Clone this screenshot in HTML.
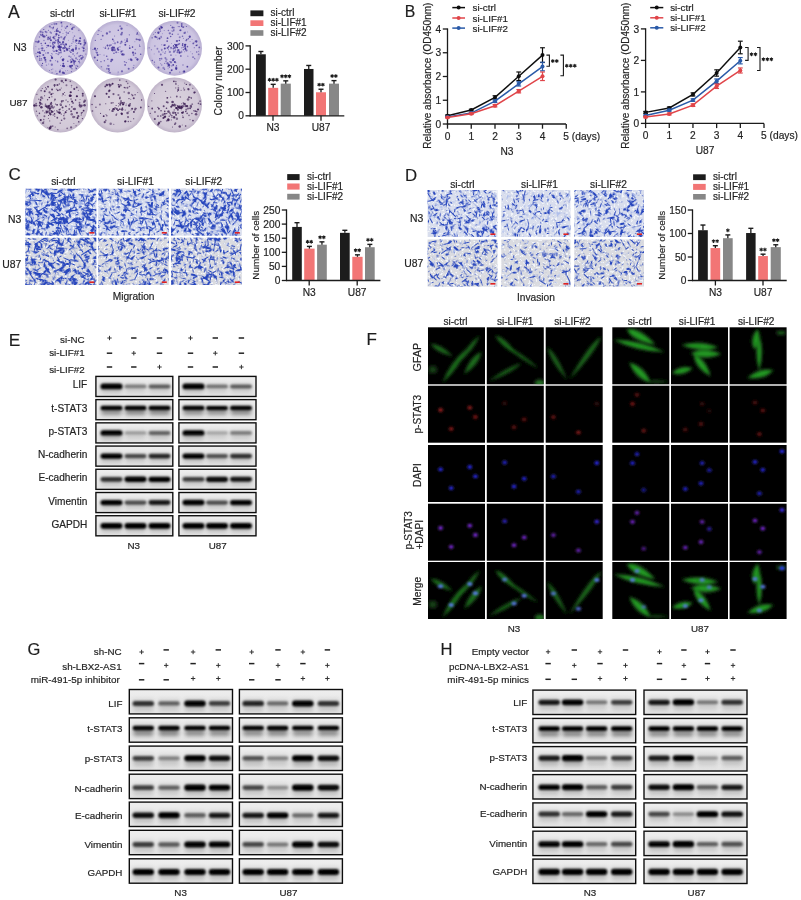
<!DOCTYPE html>
<html><head><meta charset="utf-8"><style>
html,body{margin:0;padding:0;background:#fff;}
svg{display:block;}
text{font-family:"Liberation Sans", sans-serif;stroke:#2a2a2a;stroke-width:0.2px;}
</style></head><body>
<svg width="801" height="900" viewBox="0 0 801 900">
<defs><filter id="bb" x="-30%" y="-150%" width="160%" height="400%"><feGaussianBlur stdDeviation="1.1 1.0"/></filter>
<filter id="bs" x="-30%" y="-150%" width="160%" height="400%"><feGaussianBlur stdDeviation="2 2"/></filter>
<filter id="fg" x="-50%" y="-50%" width="200%" height="200%"><feGaussianBlur stdDeviation="1.5"/></filter>
<filter id="fn" x="-100%" y="-100%" width="300%" height="300%"><feGaussianBlur stdDeviation="0.8"/></filter>
<linearGradient id="blg" x1="0" y1="0" x2="0" y2="1"><stop offset="0" stop-color="#eeeeee"/><stop offset="1" stop-color="#e3e3e3"/></linearGradient>
<radialGradient id="pg1"><stop offset="0" stop-color="#d4cde7"/><stop offset="0.85" stop-color="#ccc4e1"/><stop offset="1" stop-color="#b8aed2"/></radialGradient>
<radialGradient id="pg2"><stop offset="0" stop-color="#d4cde7"/><stop offset="0.85" stop-color="#ccc4e1"/><stop offset="1" stop-color="#b8aed2"/></radialGradient>
<radialGradient id="pg3"><stop offset="0" stop-color="#d4cde7"/><stop offset="0.85" stop-color="#ccc4e1"/><stop offset="1" stop-color="#b8aed2"/></radialGradient>
<radialGradient id="pg4"><stop offset="0" stop-color="#dad2de"/><stop offset="0.85" stop-color="#d2c9d8"/><stop offset="1" stop-color="#bfb3c8"/></radialGradient>
<radialGradient id="pg5"><stop offset="0" stop-color="#dad2de"/><stop offset="0.85" stop-color="#d2c9d8"/><stop offset="1" stop-color="#bfb3c8"/></radialGradient>
<radialGradient id="pg6"><stop offset="0" stop-color="#dad2de"/><stop offset="0.85" stop-color="#d2c9d8"/><stop offset="1" stop-color="#bfb3c8"/></radialGradient>
<clipPath id="mc100"><rect x="25.5" y="188.7" width="70.8" height="46.9"/></clipPath>
<filter id="mw100" x="0" y="0" width="1" height="1" color-interpolation-filters="sRGB"><feTurbulence type="fractalNoise" baseFrequency="0.45" numOctaves="2" seed="501"/><feColorMatrix type="matrix" values="0 0 0 0 0.95  0 0 0 0 0.96  0 0 0 0 0.98  -10 0 0 0 4.2"/><feGaussianBlur stdDeviation="0.3"/><feComposite in2="SourceGraphic" operator="in"/></filter>
<filter id="ml100" x="0" y="0" width="1" height="1" color-interpolation-filters="sRGB"><feTurbulence type="fractalNoise" baseFrequency="0.3 0.16" numOctaves="2" seed="502"/><feColorMatrix type="matrix" values="0 0 0 0 0.68  0 0 0 0 0.74  0 0 0 0 0.92  -10 0 0 0 3.6"/><feGaussianBlur stdDeviation="0.4"/><feComposite in2="SourceGraphic" operator="in"/></filter>
<filter id="md100_0" x="0" y="0" width="1" height="1" color-interpolation-filters="sRGB"><feTurbulence type="fractalNoise" baseFrequency="0.38 0.12" numOctaves="2" seed="703"/><feColorMatrix type="matrix" values="0 0 0 0 0.15  0 0 0 0 0.27  0 0 0 0 0.74  -12 0 0 0 4.62"/><feGaussianBlur stdDeviation="0.45"/><feComposite in2="SourceGraphic" operator="in"/></filter>
<filter id="md100_1" x="0" y="0" width="1" height="1" color-interpolation-filters="sRGB"><feTurbulence type="fractalNoise" baseFrequency="0.38 0.12" numOctaves="2" seed="704"/><feColorMatrix type="matrix" values="0 0 0 0 0.15  0 0 0 0 0.27  0 0 0 0 0.74  -12 0 0 0 4.62"/><feGaussianBlur stdDeviation="0.45"/><feComposite in2="SourceGraphic" operator="in"/></filter>
<filter id="md100_2" x="0" y="0" width="1" height="1" color-interpolation-filters="sRGB"><feTurbulence type="fractalNoise" baseFrequency="0.38 0.12" numOctaves="2" seed="705"/><feColorMatrix type="matrix" values="0 0 0 0 0.15  0 0 0 0 0.27  0 0 0 0 0.74  -12 0 0 0 4.62"/><feGaussianBlur stdDeviation="0.45"/><feComposite in2="SourceGraphic" operator="in"/></filter>
<filter id="md100_3" x="0" y="0" width="1" height="1" color-interpolation-filters="sRGB"><feTurbulence type="fractalNoise" baseFrequency="0.38 0.12" numOctaves="2" seed="706"/><feColorMatrix type="matrix" values="0 0 0 0 0.15  0 0 0 0 0.27  0 0 0 0 0.74  -12 0 0 0 4.62"/><feGaussianBlur stdDeviation="0.45"/><feComposite in2="SourceGraphic" operator="in"/></filter>
<filter id="md100_4" x="0" y="0" width="1" height="1" color-interpolation-filters="sRGB"><feTurbulence type="fractalNoise" baseFrequency="0.38 0.12" numOctaves="2" seed="707"/><feColorMatrix type="matrix" values="0 0 0 0 0.15  0 0 0 0 0.27  0 0 0 0 0.74  -12 0 0 0 4.62"/><feGaussianBlur stdDeviation="0.45"/><feComposite in2="SourceGraphic" operator="in"/></filter>
<clipPath id="mc103"><rect x="25.5" y="237.8" width="70.8" height="47.2"/></clipPath>
<filter id="mw103" x="0" y="0" width="1" height="1" color-interpolation-filters="sRGB"><feTurbulence type="fractalNoise" baseFrequency="0.45" numOctaves="2" seed="516"/><feColorMatrix type="matrix" values="0 0 0 0 0.95  0 0 0 0 0.96  0 0 0 0 0.98  -10 0 0 0 4.2"/><feGaussianBlur stdDeviation="0.3"/><feComposite in2="SourceGraphic" operator="in"/></filter>
<filter id="ml103" x="0" y="0" width="1" height="1" color-interpolation-filters="sRGB"><feTurbulence type="fractalNoise" baseFrequency="0.3 0.16" numOctaves="2" seed="517"/><feColorMatrix type="matrix" values="0 0 0 0 0.68  0 0 0 0 0.74  0 0 0 0 0.92  -10 0 0 0 3"/><feGaussianBlur stdDeviation="0.4"/><feComposite in2="SourceGraphic" operator="in"/></filter>
<filter id="md103_0" x="0" y="0" width="1" height="1" color-interpolation-filters="sRGB"><feTurbulence type="fractalNoise" baseFrequency="0.38 0.12" numOctaves="2" seed="724"/><feColorMatrix type="matrix" values="0 0 0 0 0.15  0 0 0 0 0.27  0 0 0 0 0.74  -12 0 0 0 4.44"/><feGaussianBlur stdDeviation="0.45"/><feComposite in2="SourceGraphic" operator="in"/></filter>
<filter id="md103_1" x="0" y="0" width="1" height="1" color-interpolation-filters="sRGB"><feTurbulence type="fractalNoise" baseFrequency="0.38 0.12" numOctaves="2" seed="725"/><feColorMatrix type="matrix" values="0 0 0 0 0.15  0 0 0 0 0.27  0 0 0 0 0.74  -12 0 0 0 4.44"/><feGaussianBlur stdDeviation="0.45"/><feComposite in2="SourceGraphic" operator="in"/></filter>
<filter id="md103_2" x="0" y="0" width="1" height="1" color-interpolation-filters="sRGB"><feTurbulence type="fractalNoise" baseFrequency="0.38 0.12" numOctaves="2" seed="726"/><feColorMatrix type="matrix" values="0 0 0 0 0.15  0 0 0 0 0.27  0 0 0 0 0.74  -12 0 0 0 4.44"/><feGaussianBlur stdDeviation="0.45"/><feComposite in2="SourceGraphic" operator="in"/></filter>
<filter id="md103_3" x="0" y="0" width="1" height="1" color-interpolation-filters="sRGB"><feTurbulence type="fractalNoise" baseFrequency="0.38 0.12" numOctaves="2" seed="727"/><feColorMatrix type="matrix" values="0 0 0 0 0.15  0 0 0 0 0.27  0 0 0 0 0.74  -12 0 0 0 4.44"/><feGaussianBlur stdDeviation="0.45"/><feComposite in2="SourceGraphic" operator="in"/></filter>
<filter id="md103_4" x="0" y="0" width="1" height="1" color-interpolation-filters="sRGB"><feTurbulence type="fractalNoise" baseFrequency="0.38 0.12" numOctaves="2" seed="728"/><feColorMatrix type="matrix" values="0 0 0 0 0.15  0 0 0 0 0.27  0 0 0 0 0.74  -12 0 0 0 4.44"/><feGaussianBlur stdDeviation="0.45"/><feComposite in2="SourceGraphic" operator="in"/></filter>
<clipPath id="mc101"><rect x="98.2" y="188.7" width="70.6" height="46.9"/></clipPath>
<filter id="mw101" x="0" y="0" width="1" height="1" color-interpolation-filters="sRGB"><feTurbulence type="fractalNoise" baseFrequency="0.45" numOctaves="2" seed="506"/><feColorMatrix type="matrix" values="0 0 0 0 0.95  0 0 0 0 0.96  0 0 0 0 0.98  -10 0 0 0 4.2"/><feGaussianBlur stdDeviation="0.3"/><feComposite in2="SourceGraphic" operator="in"/></filter>
<filter id="ml101" x="0" y="0" width="1" height="1" color-interpolation-filters="sRGB"><feTurbulence type="fractalNoise" baseFrequency="0.3 0.16" numOctaves="2" seed="507"/><feColorMatrix type="matrix" values="0 0 0 0 0.68  0 0 0 0 0.74  0 0 0 0 0.92  -10 0 0 0 3.4"/><feGaussianBlur stdDeviation="0.4"/><feComposite in2="SourceGraphic" operator="in"/></filter>
<filter id="md101_0" x="0" y="0" width="1" height="1" color-interpolation-filters="sRGB"><feTurbulence type="fractalNoise" baseFrequency="0.38 0.12" numOctaves="2" seed="710"/><feColorMatrix type="matrix" values="0 0 0 0 0.15  0 0 0 0 0.27  0 0 0 0 0.74  -12 0 0 0 4.26"/><feGaussianBlur stdDeviation="0.45"/><feComposite in2="SourceGraphic" operator="in"/></filter>
<filter id="md101_1" x="0" y="0" width="1" height="1" color-interpolation-filters="sRGB"><feTurbulence type="fractalNoise" baseFrequency="0.38 0.12" numOctaves="2" seed="711"/><feColorMatrix type="matrix" values="0 0 0 0 0.15  0 0 0 0 0.27  0 0 0 0 0.74  -12 0 0 0 4.26"/><feGaussianBlur stdDeviation="0.45"/><feComposite in2="SourceGraphic" operator="in"/></filter>
<filter id="md101_2" x="0" y="0" width="1" height="1" color-interpolation-filters="sRGB"><feTurbulence type="fractalNoise" baseFrequency="0.38 0.12" numOctaves="2" seed="712"/><feColorMatrix type="matrix" values="0 0 0 0 0.15  0 0 0 0 0.27  0 0 0 0 0.74  -12 0 0 0 4.26"/><feGaussianBlur stdDeviation="0.45"/><feComposite in2="SourceGraphic" operator="in"/></filter>
<filter id="md101_3" x="0" y="0" width="1" height="1" color-interpolation-filters="sRGB"><feTurbulence type="fractalNoise" baseFrequency="0.38 0.12" numOctaves="2" seed="713"/><feColorMatrix type="matrix" values="0 0 0 0 0.15  0 0 0 0 0.27  0 0 0 0 0.74  -12 0 0 0 4.26"/><feGaussianBlur stdDeviation="0.45"/><feComposite in2="SourceGraphic" operator="in"/></filter>
<filter id="md101_4" x="0" y="0" width="1" height="1" color-interpolation-filters="sRGB"><feTurbulence type="fractalNoise" baseFrequency="0.38 0.12" numOctaves="2" seed="714"/><feColorMatrix type="matrix" values="0 0 0 0 0.15  0 0 0 0 0.27  0 0 0 0 0.74  -12 0 0 0 4.26"/><feGaussianBlur stdDeviation="0.45"/><feComposite in2="SourceGraphic" operator="in"/></filter>
<clipPath id="mc104"><rect x="98.2" y="237.8" width="70.6" height="47.2"/></clipPath>
<filter id="mw104" x="0" y="0" width="1" height="1" color-interpolation-filters="sRGB"><feTurbulence type="fractalNoise" baseFrequency="0.45" numOctaves="2" seed="521"/><feColorMatrix type="matrix" values="0 0 0 0 0.95  0 0 0 0 0.96  0 0 0 0 0.98  -10 0 0 0 4.2"/><feGaussianBlur stdDeviation="0.3"/><feComposite in2="SourceGraphic" operator="in"/></filter>
<filter id="ml104" x="0" y="0" width="1" height="1" color-interpolation-filters="sRGB"><feTurbulence type="fractalNoise" baseFrequency="0.3 0.16" numOctaves="2" seed="522"/><feColorMatrix type="matrix" values="0 0 0 0 0.68  0 0 0 0 0.74  0 0 0 0 0.92  -10 0 0 0 3"/><feGaussianBlur stdDeviation="0.4"/><feComposite in2="SourceGraphic" operator="in"/></filter>
<filter id="md104_0" x="0" y="0" width="1" height="1" color-interpolation-filters="sRGB"><feTurbulence type="fractalNoise" baseFrequency="0.38 0.12" numOctaves="2" seed="731"/><feColorMatrix type="matrix" values="0 0 0 0 0.15  0 0 0 0 0.27  0 0 0 0 0.74  -12 0 0 0 4.2"/><feGaussianBlur stdDeviation="0.45"/><feComposite in2="SourceGraphic" operator="in"/></filter>
<filter id="md104_1" x="0" y="0" width="1" height="1" color-interpolation-filters="sRGB"><feTurbulence type="fractalNoise" baseFrequency="0.38 0.12" numOctaves="2" seed="732"/><feColorMatrix type="matrix" values="0 0 0 0 0.15  0 0 0 0 0.27  0 0 0 0 0.74  -12 0 0 0 4.2"/><feGaussianBlur stdDeviation="0.45"/><feComposite in2="SourceGraphic" operator="in"/></filter>
<filter id="md104_2" x="0" y="0" width="1" height="1" color-interpolation-filters="sRGB"><feTurbulence type="fractalNoise" baseFrequency="0.38 0.12" numOctaves="2" seed="733"/><feColorMatrix type="matrix" values="0 0 0 0 0.15  0 0 0 0 0.27  0 0 0 0 0.74  -12 0 0 0 4.2"/><feGaussianBlur stdDeviation="0.45"/><feComposite in2="SourceGraphic" operator="in"/></filter>
<filter id="md104_3" x="0" y="0" width="1" height="1" color-interpolation-filters="sRGB"><feTurbulence type="fractalNoise" baseFrequency="0.38 0.12" numOctaves="2" seed="734"/><feColorMatrix type="matrix" values="0 0 0 0 0.15  0 0 0 0 0.27  0 0 0 0 0.74  -12 0 0 0 4.2"/><feGaussianBlur stdDeviation="0.45"/><feComposite in2="SourceGraphic" operator="in"/></filter>
<filter id="md104_4" x="0" y="0" width="1" height="1" color-interpolation-filters="sRGB"><feTurbulence type="fractalNoise" baseFrequency="0.38 0.12" numOctaves="2" seed="735"/><feColorMatrix type="matrix" values="0 0 0 0 0.15  0 0 0 0 0.27  0 0 0 0 0.74  -12 0 0 0 4.2"/><feGaussianBlur stdDeviation="0.45"/><feComposite in2="SourceGraphic" operator="in"/></filter>
<clipPath id="mc102"><rect x="171" y="188.7" width="70.8" height="46.9"/></clipPath>
<filter id="mw102" x="0" y="0" width="1" height="1" color-interpolation-filters="sRGB"><feTurbulence type="fractalNoise" baseFrequency="0.45" numOctaves="2" seed="511"/><feColorMatrix type="matrix" values="0 0 0 0 0.95  0 0 0 0 0.96  0 0 0 0 0.98  -10 0 0 0 4.2"/><feGaussianBlur stdDeviation="0.3"/><feComposite in2="SourceGraphic" operator="in"/></filter>
<filter id="ml102" x="0" y="0" width="1" height="1" color-interpolation-filters="sRGB"><feTurbulence type="fractalNoise" baseFrequency="0.3 0.16" numOctaves="2" seed="512"/><feColorMatrix type="matrix" values="0 0 0 0 0.68  0 0 0 0 0.74  0 0 0 0 0.92  -10 0 0 0 3.6"/><feGaussianBlur stdDeviation="0.4"/><feComposite in2="SourceGraphic" operator="in"/></filter>
<filter id="md102_0" x="0" y="0" width="1" height="1" color-interpolation-filters="sRGB"><feTurbulence type="fractalNoise" baseFrequency="0.38 0.12" numOctaves="2" seed="717"/><feColorMatrix type="matrix" values="0 0 0 0 0.15  0 0 0 0 0.27  0 0 0 0 0.74  -12 0 0 0 4.5"/><feGaussianBlur stdDeviation="0.45"/><feComposite in2="SourceGraphic" operator="in"/></filter>
<filter id="md102_1" x="0" y="0" width="1" height="1" color-interpolation-filters="sRGB"><feTurbulence type="fractalNoise" baseFrequency="0.38 0.12" numOctaves="2" seed="718"/><feColorMatrix type="matrix" values="0 0 0 0 0.15  0 0 0 0 0.27  0 0 0 0 0.74  -12 0 0 0 4.5"/><feGaussianBlur stdDeviation="0.45"/><feComposite in2="SourceGraphic" operator="in"/></filter>
<filter id="md102_2" x="0" y="0" width="1" height="1" color-interpolation-filters="sRGB"><feTurbulence type="fractalNoise" baseFrequency="0.38 0.12" numOctaves="2" seed="719"/><feColorMatrix type="matrix" values="0 0 0 0 0.15  0 0 0 0 0.27  0 0 0 0 0.74  -12 0 0 0 4.5"/><feGaussianBlur stdDeviation="0.45"/><feComposite in2="SourceGraphic" operator="in"/></filter>
<filter id="md102_3" x="0" y="0" width="1" height="1" color-interpolation-filters="sRGB"><feTurbulence type="fractalNoise" baseFrequency="0.38 0.12" numOctaves="2" seed="720"/><feColorMatrix type="matrix" values="0 0 0 0 0.15  0 0 0 0 0.27  0 0 0 0 0.74  -12 0 0 0 4.5"/><feGaussianBlur stdDeviation="0.45"/><feComposite in2="SourceGraphic" operator="in"/></filter>
<filter id="md102_4" x="0" y="0" width="1" height="1" color-interpolation-filters="sRGB"><feTurbulence type="fractalNoise" baseFrequency="0.38 0.12" numOctaves="2" seed="721"/><feColorMatrix type="matrix" values="0 0 0 0 0.15  0 0 0 0 0.27  0 0 0 0 0.74  -12 0 0 0 4.5"/><feGaussianBlur stdDeviation="0.45"/><feComposite in2="SourceGraphic" operator="in"/></filter>
<clipPath id="mc105"><rect x="171" y="237.8" width="70.8" height="47.2"/></clipPath>
<filter id="mw105" x="0" y="0" width="1" height="1" color-interpolation-filters="sRGB"><feTurbulence type="fractalNoise" baseFrequency="0.45" numOctaves="2" seed="526"/><feColorMatrix type="matrix" values="0 0 0 0 0.95  0 0 0 0 0.96  0 0 0 0 0.98  -10 0 0 0 4.2"/><feGaussianBlur stdDeviation="0.3"/><feComposite in2="SourceGraphic" operator="in"/></filter>
<filter id="ml105" x="0" y="0" width="1" height="1" color-interpolation-filters="sRGB"><feTurbulence type="fractalNoise" baseFrequency="0.3 0.16" numOctaves="2" seed="527"/><feColorMatrix type="matrix" values="0 0 0 0 0.68  0 0 0 0 0.74  0 0 0 0 0.92  -10 0 0 0 3"/><feGaussianBlur stdDeviation="0.4"/><feComposite in2="SourceGraphic" operator="in"/></filter>
<filter id="md105_0" x="0" y="0" width="1" height="1" color-interpolation-filters="sRGB"><feTurbulence type="fractalNoise" baseFrequency="0.38 0.12" numOctaves="2" seed="738"/><feColorMatrix type="matrix" values="0 0 0 0 0.15  0 0 0 0 0.27  0 0 0 0 0.74  -12 0 0 0 4.26"/><feGaussianBlur stdDeviation="0.45"/><feComposite in2="SourceGraphic" operator="in"/></filter>
<filter id="md105_1" x="0" y="0" width="1" height="1" color-interpolation-filters="sRGB"><feTurbulence type="fractalNoise" baseFrequency="0.38 0.12" numOctaves="2" seed="739"/><feColorMatrix type="matrix" values="0 0 0 0 0.15  0 0 0 0 0.27  0 0 0 0 0.74  -12 0 0 0 4.26"/><feGaussianBlur stdDeviation="0.45"/><feComposite in2="SourceGraphic" operator="in"/></filter>
<filter id="md105_2" x="0" y="0" width="1" height="1" color-interpolation-filters="sRGB"><feTurbulence type="fractalNoise" baseFrequency="0.38 0.12" numOctaves="2" seed="740"/><feColorMatrix type="matrix" values="0 0 0 0 0.15  0 0 0 0 0.27  0 0 0 0 0.74  -12 0 0 0 4.26"/><feGaussianBlur stdDeviation="0.45"/><feComposite in2="SourceGraphic" operator="in"/></filter>
<filter id="md105_3" x="0" y="0" width="1" height="1" color-interpolation-filters="sRGB"><feTurbulence type="fractalNoise" baseFrequency="0.38 0.12" numOctaves="2" seed="741"/><feColorMatrix type="matrix" values="0 0 0 0 0.15  0 0 0 0 0.27  0 0 0 0 0.74  -12 0 0 0 4.26"/><feGaussianBlur stdDeviation="0.45"/><feComposite in2="SourceGraphic" operator="in"/></filter>
<filter id="md105_4" x="0" y="0" width="1" height="1" color-interpolation-filters="sRGB"><feTurbulence type="fractalNoise" baseFrequency="0.38 0.12" numOctaves="2" seed="742"/><feColorMatrix type="matrix" values="0 0 0 0 0.15  0 0 0 0 0.27  0 0 0 0 0.74  -12 0 0 0 4.26"/><feGaussianBlur stdDeviation="0.45"/><feComposite in2="SourceGraphic" operator="in"/></filter>
<clipPath id="mc200"><rect x="427.6" y="190" width="69.8" height="47"/></clipPath>
<filter id="mw200" x="0" y="0" width="1" height="1" color-interpolation-filters="sRGB"><feTurbulence type="fractalNoise" baseFrequency="0.45" numOctaves="2" seed="1001"/><feColorMatrix type="matrix" values="0 0 0 0 0.95  0 0 0 0 0.96  0 0 0 0 0.98  -10 0 0 0 4.2"/><feGaussianBlur stdDeviation="0.3"/><feComposite in2="SourceGraphic" operator="in"/></filter>
<filter id="ml200" x="0" y="0" width="1" height="1" color-interpolation-filters="sRGB"><feTurbulence type="fractalNoise" baseFrequency="0.3 0.16" numOctaves="2" seed="1002"/><feColorMatrix type="matrix" values="0 0 0 0 0.68  0 0 0 0 0.74  0 0 0 0 0.92  -10 0 0 0 3.4"/><feGaussianBlur stdDeviation="0.4"/><feComposite in2="SourceGraphic" operator="in"/></filter>
<filter id="md200_0" x="0" y="0" width="1" height="1" color-interpolation-filters="sRGB"><feTurbulence type="fractalNoise" baseFrequency="0.38 0.12" numOctaves="2" seed="1403"/><feColorMatrix type="matrix" values="0 0 0 0 0.15  0 0 0 0 0.27  0 0 0 0 0.74  -12 0 0 0 4.08"/><feGaussianBlur stdDeviation="0.45"/><feComposite in2="SourceGraphic" operator="in"/></filter>
<filter id="md200_1" x="0" y="0" width="1" height="1" color-interpolation-filters="sRGB"><feTurbulence type="fractalNoise" baseFrequency="0.38 0.12" numOctaves="2" seed="1404"/><feColorMatrix type="matrix" values="0 0 0 0 0.15  0 0 0 0 0.27  0 0 0 0 0.74  -12 0 0 0 4.08"/><feGaussianBlur stdDeviation="0.45"/><feComposite in2="SourceGraphic" operator="in"/></filter>
<filter id="md200_2" x="0" y="0" width="1" height="1" color-interpolation-filters="sRGB"><feTurbulence type="fractalNoise" baseFrequency="0.38 0.12" numOctaves="2" seed="1405"/><feColorMatrix type="matrix" values="0 0 0 0 0.15  0 0 0 0 0.27  0 0 0 0 0.74  -12 0 0 0 4.08"/><feGaussianBlur stdDeviation="0.45"/><feComposite in2="SourceGraphic" operator="in"/></filter>
<filter id="md200_3" x="0" y="0" width="1" height="1" color-interpolation-filters="sRGB"><feTurbulence type="fractalNoise" baseFrequency="0.38 0.12" numOctaves="2" seed="1406"/><feColorMatrix type="matrix" values="0 0 0 0 0.15  0 0 0 0 0.27  0 0 0 0 0.74  -12 0 0 0 4.08"/><feGaussianBlur stdDeviation="0.45"/><feComposite in2="SourceGraphic" operator="in"/></filter>
<filter id="md200_4" x="0" y="0" width="1" height="1" color-interpolation-filters="sRGB"><feTurbulence type="fractalNoise" baseFrequency="0.38 0.12" numOctaves="2" seed="1407"/><feColorMatrix type="matrix" values="0 0 0 0 0.15  0 0 0 0 0.27  0 0 0 0 0.74  -12 0 0 0 4.08"/><feGaussianBlur stdDeviation="0.45"/><feComposite in2="SourceGraphic" operator="in"/></filter>
<clipPath id="mc203"><rect x="427.6" y="239.5" width="69.8" height="47.1"/></clipPath>
<filter id="mw203" x="0" y="0" width="1" height="1" color-interpolation-filters="sRGB"><feTurbulence type="fractalNoise" baseFrequency="0.45" numOctaves="2" seed="1016"/><feColorMatrix type="matrix" values="0 0 0 0 0.95  0 0 0 0 0.96  0 0 0 0 0.98  -10 0 0 0 4.2"/><feGaussianBlur stdDeviation="0.3"/><feComposite in2="SourceGraphic" operator="in"/></filter>
<filter id="ml203" x="0" y="0" width="1" height="1" color-interpolation-filters="sRGB"><feTurbulence type="fractalNoise" baseFrequency="0.3 0.16" numOctaves="2" seed="1017"/><feColorMatrix type="matrix" values="0 0 0 0 0.68  0 0 0 0 0.74  0 0 0 0 0.92  -10 0 0 0 3"/><feGaussianBlur stdDeviation="0.4"/><feComposite in2="SourceGraphic" operator="in"/></filter>
<filter id="md203_0" x="0" y="0" width="1" height="1" color-interpolation-filters="sRGB"><feTurbulence type="fractalNoise" baseFrequency="0.38 0.12" numOctaves="2" seed="1424"/><feColorMatrix type="matrix" values="0 0 0 0 0.15  0 0 0 0 0.27  0 0 0 0 0.74  -12 0 0 0 3.96"/><feGaussianBlur stdDeviation="0.45"/><feComposite in2="SourceGraphic" operator="in"/></filter>
<filter id="md203_1" x="0" y="0" width="1" height="1" color-interpolation-filters="sRGB"><feTurbulence type="fractalNoise" baseFrequency="0.38 0.12" numOctaves="2" seed="1425"/><feColorMatrix type="matrix" values="0 0 0 0 0.15  0 0 0 0 0.27  0 0 0 0 0.74  -12 0 0 0 3.96"/><feGaussianBlur stdDeviation="0.45"/><feComposite in2="SourceGraphic" operator="in"/></filter>
<filter id="md203_2" x="0" y="0" width="1" height="1" color-interpolation-filters="sRGB"><feTurbulence type="fractalNoise" baseFrequency="0.38 0.12" numOctaves="2" seed="1426"/><feColorMatrix type="matrix" values="0 0 0 0 0.15  0 0 0 0 0.27  0 0 0 0 0.74  -12 0 0 0 3.96"/><feGaussianBlur stdDeviation="0.45"/><feComposite in2="SourceGraphic" operator="in"/></filter>
<filter id="md203_3" x="0" y="0" width="1" height="1" color-interpolation-filters="sRGB"><feTurbulence type="fractalNoise" baseFrequency="0.38 0.12" numOctaves="2" seed="1427"/><feColorMatrix type="matrix" values="0 0 0 0 0.15  0 0 0 0 0.27  0 0 0 0 0.74  -12 0 0 0 3.96"/><feGaussianBlur stdDeviation="0.45"/><feComposite in2="SourceGraphic" operator="in"/></filter>
<filter id="md203_4" x="0" y="0" width="1" height="1" color-interpolation-filters="sRGB"><feTurbulence type="fractalNoise" baseFrequency="0.38 0.12" numOctaves="2" seed="1428"/><feColorMatrix type="matrix" values="0 0 0 0 0.15  0 0 0 0 0.27  0 0 0 0 0.74  -12 0 0 0 3.96"/><feGaussianBlur stdDeviation="0.45"/><feComposite in2="SourceGraphic" operator="in"/></filter>
<clipPath id="mc201"><rect x="501.3" y="190" width="69.1" height="47"/></clipPath>
<filter id="mw201" x="0" y="0" width="1" height="1" color-interpolation-filters="sRGB"><feTurbulence type="fractalNoise" baseFrequency="0.45" numOctaves="2" seed="1006"/><feColorMatrix type="matrix" values="0 0 0 0 0.95  0 0 0 0 0.96  0 0 0 0 0.98  -10 0 0 0 4.2"/><feGaussianBlur stdDeviation="0.3"/><feComposite in2="SourceGraphic" operator="in"/></filter>
<filter id="ml201" x="0" y="0" width="1" height="1" color-interpolation-filters="sRGB"><feTurbulence type="fractalNoise" baseFrequency="0.3 0.16" numOctaves="2" seed="1007"/><feColorMatrix type="matrix" values="0 0 0 0 0.68  0 0 0 0 0.74  0 0 0 0 0.92  -10 0 0 0 3.6"/><feGaussianBlur stdDeviation="0.4"/><feComposite in2="SourceGraphic" operator="in"/></filter>
<filter id="md201_0" x="0" y="0" width="1" height="1" color-interpolation-filters="sRGB"><feTurbulence type="fractalNoise" baseFrequency="0.38 0.12" numOctaves="2" seed="1410"/><feColorMatrix type="matrix" values="0 0 0 0 0.15  0 0 0 0 0.27  0 0 0 0 0.74  -12 0 0 0 3.72"/><feGaussianBlur stdDeviation="0.45"/><feComposite in2="SourceGraphic" operator="in"/></filter>
<filter id="md201_1" x="0" y="0" width="1" height="1" color-interpolation-filters="sRGB"><feTurbulence type="fractalNoise" baseFrequency="0.38 0.12" numOctaves="2" seed="1411"/><feColorMatrix type="matrix" values="0 0 0 0 0.15  0 0 0 0 0.27  0 0 0 0 0.74  -12 0 0 0 3.72"/><feGaussianBlur stdDeviation="0.45"/><feComposite in2="SourceGraphic" operator="in"/></filter>
<filter id="md201_2" x="0" y="0" width="1" height="1" color-interpolation-filters="sRGB"><feTurbulence type="fractalNoise" baseFrequency="0.38 0.12" numOctaves="2" seed="1412"/><feColorMatrix type="matrix" values="0 0 0 0 0.15  0 0 0 0 0.27  0 0 0 0 0.74  -12 0 0 0 3.72"/><feGaussianBlur stdDeviation="0.45"/><feComposite in2="SourceGraphic" operator="in"/></filter>
<filter id="md201_3" x="0" y="0" width="1" height="1" color-interpolation-filters="sRGB"><feTurbulence type="fractalNoise" baseFrequency="0.38 0.12" numOctaves="2" seed="1413"/><feColorMatrix type="matrix" values="0 0 0 0 0.15  0 0 0 0 0.27  0 0 0 0 0.74  -12 0 0 0 3.72"/><feGaussianBlur stdDeviation="0.45"/><feComposite in2="SourceGraphic" operator="in"/></filter>
<filter id="md201_4" x="0" y="0" width="1" height="1" color-interpolation-filters="sRGB"><feTurbulence type="fractalNoise" baseFrequency="0.38 0.12" numOctaves="2" seed="1414"/><feColorMatrix type="matrix" values="0 0 0 0 0.15  0 0 0 0 0.27  0 0 0 0 0.74  -12 0 0 0 3.72"/><feGaussianBlur stdDeviation="0.45"/><feComposite in2="SourceGraphic" operator="in"/></filter>
<clipPath id="mc204"><rect x="501.3" y="239.5" width="69.1" height="47.1"/></clipPath>
<filter id="mw204" x="0" y="0" width="1" height="1" color-interpolation-filters="sRGB"><feTurbulence type="fractalNoise" baseFrequency="0.45" numOctaves="2" seed="1021"/><feColorMatrix type="matrix" values="0 0 0 0 0.95  0 0 0 0 0.96  0 0 0 0 0.98  -10 0 0 0 4.2"/><feGaussianBlur stdDeviation="0.3"/><feComposite in2="SourceGraphic" operator="in"/></filter>
<filter id="ml204" x="0" y="0" width="1" height="1" color-interpolation-filters="sRGB"><feTurbulence type="fractalNoise" baseFrequency="0.3 0.16" numOctaves="2" seed="1022"/><feColorMatrix type="matrix" values="0 0 0 0 0.68  0 0 0 0 0.74  0 0 0 0 0.92  -10 0 0 0 3"/><feGaussianBlur stdDeviation="0.4"/><feComposite in2="SourceGraphic" operator="in"/></filter>
<filter id="md204_0" x="0" y="0" width="1" height="1" color-interpolation-filters="sRGB"><feTurbulence type="fractalNoise" baseFrequency="0.38 0.12" numOctaves="2" seed="1431"/><feColorMatrix type="matrix" values="0 0 0 0 0.15  0 0 0 0 0.27  0 0 0 0 0.74  -12 0 0 0 3.72"/><feGaussianBlur stdDeviation="0.45"/><feComposite in2="SourceGraphic" operator="in"/></filter>
<filter id="md204_1" x="0" y="0" width="1" height="1" color-interpolation-filters="sRGB"><feTurbulence type="fractalNoise" baseFrequency="0.38 0.12" numOctaves="2" seed="1432"/><feColorMatrix type="matrix" values="0 0 0 0 0.15  0 0 0 0 0.27  0 0 0 0 0.74  -12 0 0 0 3.72"/><feGaussianBlur stdDeviation="0.45"/><feComposite in2="SourceGraphic" operator="in"/></filter>
<filter id="md204_2" x="0" y="0" width="1" height="1" color-interpolation-filters="sRGB"><feTurbulence type="fractalNoise" baseFrequency="0.38 0.12" numOctaves="2" seed="1433"/><feColorMatrix type="matrix" values="0 0 0 0 0.15  0 0 0 0 0.27  0 0 0 0 0.74  -12 0 0 0 3.72"/><feGaussianBlur stdDeviation="0.45"/><feComposite in2="SourceGraphic" operator="in"/></filter>
<filter id="md204_3" x="0" y="0" width="1" height="1" color-interpolation-filters="sRGB"><feTurbulence type="fractalNoise" baseFrequency="0.38 0.12" numOctaves="2" seed="1434"/><feColorMatrix type="matrix" values="0 0 0 0 0.15  0 0 0 0 0.27  0 0 0 0 0.74  -12 0 0 0 3.72"/><feGaussianBlur stdDeviation="0.45"/><feComposite in2="SourceGraphic" operator="in"/></filter>
<filter id="md204_4" x="0" y="0" width="1" height="1" color-interpolation-filters="sRGB"><feTurbulence type="fractalNoise" baseFrequency="0.38 0.12" numOctaves="2" seed="1435"/><feColorMatrix type="matrix" values="0 0 0 0 0.15  0 0 0 0 0.27  0 0 0 0 0.74  -12 0 0 0 3.72"/><feGaussianBlur stdDeviation="0.45"/><feComposite in2="SourceGraphic" operator="in"/></filter>
<clipPath id="mc202"><rect x="574.3" y="190" width="69.7" height="47"/></clipPath>
<filter id="mw202" x="0" y="0" width="1" height="1" color-interpolation-filters="sRGB"><feTurbulence type="fractalNoise" baseFrequency="0.45" numOctaves="2" seed="1011"/><feColorMatrix type="matrix" values="0 0 0 0 0.95  0 0 0 0 0.96  0 0 0 0 0.98  -10 0 0 0 4.2"/><feGaussianBlur stdDeviation="0.3"/><feComposite in2="SourceGraphic" operator="in"/></filter>
<filter id="ml202" x="0" y="0" width="1" height="1" color-interpolation-filters="sRGB"><feTurbulence type="fractalNoise" baseFrequency="0.3 0.16" numOctaves="2" seed="1012"/><feColorMatrix type="matrix" values="0 0 0 0 0.68  0 0 0 0 0.74  0 0 0 0 0.92  -10 0 0 0 3.4"/><feGaussianBlur stdDeviation="0.4"/><feComposite in2="SourceGraphic" operator="in"/></filter>
<filter id="md202_0" x="0" y="0" width="1" height="1" color-interpolation-filters="sRGB"><feTurbulence type="fractalNoise" baseFrequency="0.38 0.12" numOctaves="2" seed="1417"/><feColorMatrix type="matrix" values="0 0 0 0 0.15  0 0 0 0 0.27  0 0 0 0 0.74  -12 0 0 0 4.08"/><feGaussianBlur stdDeviation="0.45"/><feComposite in2="SourceGraphic" operator="in"/></filter>
<filter id="md202_1" x="0" y="0" width="1" height="1" color-interpolation-filters="sRGB"><feTurbulence type="fractalNoise" baseFrequency="0.38 0.12" numOctaves="2" seed="1418"/><feColorMatrix type="matrix" values="0 0 0 0 0.15  0 0 0 0 0.27  0 0 0 0 0.74  -12 0 0 0 4.08"/><feGaussianBlur stdDeviation="0.45"/><feComposite in2="SourceGraphic" operator="in"/></filter>
<filter id="md202_2" x="0" y="0" width="1" height="1" color-interpolation-filters="sRGB"><feTurbulence type="fractalNoise" baseFrequency="0.38 0.12" numOctaves="2" seed="1419"/><feColorMatrix type="matrix" values="0 0 0 0 0.15  0 0 0 0 0.27  0 0 0 0 0.74  -12 0 0 0 4.08"/><feGaussianBlur stdDeviation="0.45"/><feComposite in2="SourceGraphic" operator="in"/></filter>
<filter id="md202_3" x="0" y="0" width="1" height="1" color-interpolation-filters="sRGB"><feTurbulence type="fractalNoise" baseFrequency="0.38 0.12" numOctaves="2" seed="1420"/><feColorMatrix type="matrix" values="0 0 0 0 0.15  0 0 0 0 0.27  0 0 0 0 0.74  -12 0 0 0 4.08"/><feGaussianBlur stdDeviation="0.45"/><feComposite in2="SourceGraphic" operator="in"/></filter>
<filter id="md202_4" x="0" y="0" width="1" height="1" color-interpolation-filters="sRGB"><feTurbulence type="fractalNoise" baseFrequency="0.38 0.12" numOctaves="2" seed="1421"/><feColorMatrix type="matrix" values="0 0 0 0 0.15  0 0 0 0 0.27  0 0 0 0 0.74  -12 0 0 0 4.08"/><feGaussianBlur stdDeviation="0.45"/><feComposite in2="SourceGraphic" operator="in"/></filter>
<clipPath id="mc205"><rect x="574.3" y="239.5" width="69.7" height="47.1"/></clipPath>
<filter id="mw205" x="0" y="0" width="1" height="1" color-interpolation-filters="sRGB"><feTurbulence type="fractalNoise" baseFrequency="0.45" numOctaves="2" seed="1026"/><feColorMatrix type="matrix" values="0 0 0 0 0.95  0 0 0 0 0.96  0 0 0 0 0.98  -10 0 0 0 4.2"/><feGaussianBlur stdDeviation="0.3"/><feComposite in2="SourceGraphic" operator="in"/></filter>
<filter id="ml205" x="0" y="0" width="1" height="1" color-interpolation-filters="sRGB"><feTurbulence type="fractalNoise" baseFrequency="0.3 0.16" numOctaves="2" seed="1027"/><feColorMatrix type="matrix" values="0 0 0 0 0.68  0 0 0 0 0.74  0 0 0 0 0.92  -10 0 0 0 3"/><feGaussianBlur stdDeviation="0.4"/><feComposite in2="SourceGraphic" operator="in"/></filter>
<filter id="md205_0" x="0" y="0" width="1" height="1" color-interpolation-filters="sRGB"><feTurbulence type="fractalNoise" baseFrequency="0.38 0.12" numOctaves="2" seed="1438"/><feColorMatrix type="matrix" values="0 0 0 0 0.15  0 0 0 0 0.27  0 0 0 0 0.74  -12 0 0 0 3.84"/><feGaussianBlur stdDeviation="0.45"/><feComposite in2="SourceGraphic" operator="in"/></filter>
<filter id="md205_1" x="0" y="0" width="1" height="1" color-interpolation-filters="sRGB"><feTurbulence type="fractalNoise" baseFrequency="0.38 0.12" numOctaves="2" seed="1439"/><feColorMatrix type="matrix" values="0 0 0 0 0.15  0 0 0 0 0.27  0 0 0 0 0.74  -12 0 0 0 3.84"/><feGaussianBlur stdDeviation="0.45"/><feComposite in2="SourceGraphic" operator="in"/></filter>
<filter id="md205_2" x="0" y="0" width="1" height="1" color-interpolation-filters="sRGB"><feTurbulence type="fractalNoise" baseFrequency="0.38 0.12" numOctaves="2" seed="1440"/><feColorMatrix type="matrix" values="0 0 0 0 0.15  0 0 0 0 0.27  0 0 0 0 0.74  -12 0 0 0 3.84"/><feGaussianBlur stdDeviation="0.45"/><feComposite in2="SourceGraphic" operator="in"/></filter>
<filter id="md205_3" x="0" y="0" width="1" height="1" color-interpolation-filters="sRGB"><feTurbulence type="fractalNoise" baseFrequency="0.38 0.12" numOctaves="2" seed="1441"/><feColorMatrix type="matrix" values="0 0 0 0 0.15  0 0 0 0 0.27  0 0 0 0 0.74  -12 0 0 0 3.84"/><feGaussianBlur stdDeviation="0.45"/><feComposite in2="SourceGraphic" operator="in"/></filter>
<filter id="md205_4" x="0" y="0" width="1" height="1" color-interpolation-filters="sRGB"><feTurbulence type="fractalNoise" baseFrequency="0.38 0.12" numOctaves="2" seed="1442"/><feColorMatrix type="matrix" values="0 0 0 0 0.15  0 0 0 0 0.27  0 0 0 0 0.74  -12 0 0 0 3.84"/><feGaussianBlur stdDeviation="0.45"/><feComposite in2="SourceGraphic" operator="in"/></filter>
<clipPath id="bc300"><rect x="95.9" y="376.4" width="76.9" height="20.1"/></clipPath>
<clipPath id="bc320"><rect x="178.9" y="376.4" width="77.1" height="20.1"/></clipPath>
<clipPath id="bc301"><rect x="95.9" y="399.62" width="76.9" height="20.1"/></clipPath>
<clipPath id="bc321"><rect x="178.9" y="399.62" width="77.1" height="20.1"/></clipPath>
<clipPath id="bc302"><rect x="95.9" y="422.84" width="76.9" height="20.1"/></clipPath>
<clipPath id="bc322"><rect x="178.9" y="422.84" width="77.1" height="20.1"/></clipPath>
<clipPath id="bc303"><rect x="95.9" y="446.06" width="76.9" height="20.1"/></clipPath>
<clipPath id="bc323"><rect x="178.9" y="446.06" width="77.1" height="20.1"/></clipPath>
<clipPath id="bc304"><rect x="95.9" y="469.28" width="76.9" height="20.1"/></clipPath>
<clipPath id="bc324"><rect x="178.9" y="469.28" width="77.1" height="20.1"/></clipPath>
<clipPath id="bc305"><rect x="95.9" y="492.5" width="76.9" height="20.1"/></clipPath>
<clipPath id="bc325"><rect x="178.9" y="492.5" width="77.1" height="20.1"/></clipPath>
<clipPath id="bc306"><rect x="95.9" y="515.72" width="76.9" height="20.1"/></clipPath>
<clipPath id="bc326"><rect x="178.9" y="515.72" width="77.1" height="20.1"/></clipPath>
<clipPath id="fc400"><rect x="428" y="327.3" width="57" height="57"/></clipPath>
<clipPath id="fc401"><rect x="486.8" y="327.3" width="57" height="57"/></clipPath>
<clipPath id="fc402"><rect x="545.7" y="327.3" width="57" height="57"/></clipPath>
<clipPath id="fc403"><rect x="612.3" y="327.3" width="57" height="57"/></clipPath>
<clipPath id="fc404"><rect x="671" y="327.3" width="57" height="57"/></clipPath>
<clipPath id="fc405"><rect x="729.6" y="327.3" width="57" height="57"/></clipPath>
<clipPath id="fc410"><rect x="428" y="385.7" width="57" height="57"/></clipPath>
<clipPath id="fc411"><rect x="486.8" y="385.7" width="57" height="57"/></clipPath>
<clipPath id="fc412"><rect x="545.7" y="385.7" width="57" height="57"/></clipPath>
<clipPath id="fc413"><rect x="612.3" y="385.7" width="57" height="57"/></clipPath>
<clipPath id="fc414"><rect x="671" y="385.7" width="57" height="57"/></clipPath>
<clipPath id="fc415"><rect x="729.6" y="385.7" width="57" height="57"/></clipPath>
<clipPath id="fc420"><rect x="428" y="445" width="57" height="57"/></clipPath>
<clipPath id="fc421"><rect x="486.8" y="445" width="57" height="57"/></clipPath>
<clipPath id="fc422"><rect x="545.7" y="445" width="57" height="57"/></clipPath>
<clipPath id="fc423"><rect x="612.3" y="445" width="57" height="57"/></clipPath>
<clipPath id="fc424"><rect x="671" y="445" width="57" height="57"/></clipPath>
<clipPath id="fc425"><rect x="729.6" y="445" width="57" height="57"/></clipPath>
<clipPath id="fc430"><rect x="428" y="503.7" width="57" height="57"/></clipPath>
<clipPath id="fc431"><rect x="486.8" y="503.7" width="57" height="57"/></clipPath>
<clipPath id="fc432"><rect x="545.7" y="503.7" width="57" height="57"/></clipPath>
<clipPath id="fc433"><rect x="612.3" y="503.7" width="57" height="57"/></clipPath>
<clipPath id="fc434"><rect x="671" y="503.7" width="57" height="57"/></clipPath>
<clipPath id="fc435"><rect x="729.6" y="503.7" width="57" height="57"/></clipPath>
<clipPath id="fc440"><rect x="428" y="562" width="57" height="57"/></clipPath>
<clipPath id="fc441"><rect x="486.8" y="562" width="57" height="57"/></clipPath>
<clipPath id="fc442"><rect x="545.7" y="562" width="57" height="57"/></clipPath>
<clipPath id="fc443"><rect x="612.3" y="562" width="57" height="57"/></clipPath>
<clipPath id="fc444"><rect x="671" y="562" width="57" height="57"/></clipPath>
<clipPath id="fc445"><rect x="729.6" y="562" width="57" height="57"/></clipPath>
<clipPath id="bc500"><rect x="129.3" y="689.5" width="103.2" height="24.4"/></clipPath>
<clipPath id="bc520"><rect x="239.4" y="689.5" width="103" height="24.4"/></clipPath>
<clipPath id="bc501"><rect x="129.3" y="717.8" width="103.2" height="24.4"/></clipPath>
<clipPath id="bc521"><rect x="239.4" y="717.8" width="103" height="24.4"/></clipPath>
<clipPath id="bc502"><rect x="129.3" y="746.1" width="103.2" height="24.4"/></clipPath>
<clipPath id="bc522"><rect x="239.4" y="746.1" width="103" height="24.4"/></clipPath>
<clipPath id="bc503"><rect x="129.3" y="774.2" width="103.2" height="24.4"/></clipPath>
<clipPath id="bc523"><rect x="239.4" y="774.2" width="103" height="24.4"/></clipPath>
<clipPath id="bc504"><rect x="129.3" y="802.1" width="103.2" height="24.4"/></clipPath>
<clipPath id="bc524"><rect x="239.4" y="802.1" width="103" height="24.4"/></clipPath>
<clipPath id="bc505"><rect x="129.3" y="830.3" width="103.2" height="24.4"/></clipPath>
<clipPath id="bc525"><rect x="239.4" y="830.3" width="103" height="24.4"/></clipPath>
<clipPath id="bc506"><rect x="129.3" y="858.8" width="103.2" height="24.4"/></clipPath>
<clipPath id="bc526"><rect x="239.4" y="858.8" width="103" height="24.4"/></clipPath>
<clipPath id="bc600"><rect x="532.9" y="690.1" width="102.8" height="24.4"/></clipPath>
<clipPath id="bc620"><rect x="644" y="690.1" width="103" height="24.4"/></clipPath>
<clipPath id="bc601"><rect x="532.9" y="718.4" width="102.8" height="24.4"/></clipPath>
<clipPath id="bc621"><rect x="644" y="718.4" width="103" height="24.4"/></clipPath>
<clipPath id="bc602"><rect x="532.9" y="746.6" width="102.8" height="24.4"/></clipPath>
<clipPath id="bc622"><rect x="644" y="746.6" width="103" height="24.4"/></clipPath>
<clipPath id="bc603"><rect x="532.9" y="774.6" width="102.8" height="24.4"/></clipPath>
<clipPath id="bc623"><rect x="644" y="774.6" width="103" height="24.4"/></clipPath>
<clipPath id="bc604"><rect x="532.9" y="802.9" width="102.8" height="24.4"/></clipPath>
<clipPath id="bc624"><rect x="644" y="802.9" width="103" height="24.4"/></clipPath>
<clipPath id="bc605"><rect x="532.9" y="831.2" width="102.8" height="24.4"/></clipPath>
<clipPath id="bc625"><rect x="644" y="831.2" width="103" height="24.4"/></clipPath>
<clipPath id="bc606"><rect x="532.9" y="859.1" width="102.8" height="24.4"/></clipPath>
<clipPath id="bc626"><rect x="644" y="859.1" width="103" height="24.4"/></clipPath></defs>
<filter id="gblur" x="0" y="0" width="1" height="1"><feGaussianBlur stdDeviation="0.3"/></filter>
<g filter="url(#gblur)">
<rect width="801" height="900" fill="#fff"/>
<text x="8" y="18" font-size="17.6" text-anchor="start" fill="#1e1e1e">A</text>
<text x="62.2" y="17.4" font-size="10.3" text-anchor="middle" fill="#1e1e1e">si-ctrl</text>
<text x="118" y="17.4" font-size="10.3" text-anchor="middle" fill="#1e1e1e">si-LIF#1</text>
<text x="177" y="17.4" font-size="10.3" text-anchor="middle" fill="#1e1e1e">si-LIF#2</text>
<text x="26.6" y="51.3" font-size="10.5" text-anchor="end" fill="#1e1e1e">N3</text>
<text x="27.6" y="105.8" font-size="9.9" text-anchor="end" fill="#1e1e1e">U87</text>
<circle cx="60.5" cy="48.2" r="27.5" fill="url(#pg1)"/>
<g fill="#3a2a94">
<circle cx="79.61" cy="62.71" r="0.8" opacity="0.46"/>
<circle cx="58.97" cy="41.58" r="0.7" opacity="0.45"/>
<circle cx="63.01" cy="44.23" r="0.45" opacity="0.75"/>
<circle cx="77.1" cy="53.21" r="0.5" opacity="0.85"/>
<circle cx="66.78" cy="48.82" r="1" opacity="0.74"/>
<circle cx="72.92" cy="49.72" r="1.15" opacity="0.87"/>
<circle cx="52.01" cy="57.93" r="1.15" opacity="0.88"/>
<circle cx="55.89" cy="71.09" r="0.5" opacity="0.49"/>
<circle cx="72.68" cy="59.82" r="1" opacity="0.65"/>
<circle cx="43.44" cy="36.33" r="1.15" opacity="0.82"/>
<circle cx="76.86" cy="43.49" r="0.6" opacity="0.58"/>
<circle cx="75.67" cy="61.3" r="0.5" opacity="0.62"/>
<circle cx="75.81" cy="49.35" r="1" opacity="0.59"/>
<circle cx="58.81" cy="37.67" r="1" opacity="0.72"/>
<circle cx="83.6" cy="50.86" r="1" opacity="0.66"/>
<circle cx="64.78" cy="45.95" r="0.8" opacity="0.73"/>
<circle cx="73.12" cy="41.8" r="0.6" opacity="0.66"/>
<circle cx="56.43" cy="23.79" r="0.9" opacity="0.68"/>
<circle cx="60.76" cy="47.37" r="0.9" opacity="0.61"/>
<circle cx="50.64" cy="46.19" r="0.9" opacity="0.63"/>
<circle cx="60.44" cy="50.56" r="0.6" opacity="0.83"/>
<circle cx="76.84" cy="65.6" r="0.8" opacity="0.42"/>
<circle cx="74.48" cy="36.17" r="0.8" opacity="0.45"/>
<circle cx="51.94" cy="24.52" r="0.6" opacity="0.53"/>
<circle cx="69.12" cy="56.35" r="0.8" opacity="0.63"/>
<circle cx="56.15" cy="31.04" r="0.5" opacity="0.53"/>
<circle cx="60.85" cy="44.17" r="0.7" opacity="0.89"/>
<circle cx="71.23" cy="45.5" r="0.45" opacity="0.6"/>
<circle cx="50.67" cy="55.4" r="0.45" opacity="0.77"/>
<circle cx="70.89" cy="52.25" r="0.8" opacity="0.77"/>
<circle cx="64.37" cy="30.13" r="0.45" opacity="0.59"/>
<circle cx="44.32" cy="57.78" r="1" opacity="0.7"/>
<circle cx="84.59" cy="42.15" r="1.15" opacity="0.41"/>
<circle cx="55.13" cy="36.17" r="0.6" opacity="0.5"/>
<circle cx="44.72" cy="57.8" r="1" opacity="0.87"/>
<circle cx="81.53" cy="58.49" r="1.15" opacity="0.78"/>
<circle cx="42.16" cy="50.3" r="0.8" opacity="0.78"/>
<circle cx="79.26" cy="40.95" r="0.9" opacity="0.46"/>
<circle cx="59.88" cy="52.6" r="0.5" opacity="0.56"/>
<circle cx="64.13" cy="73.07" r="0.9" opacity="0.85"/>
<circle cx="83.88" cy="45.88" r="0.8" opacity="0.45"/>
<circle cx="57.85" cy="53.46" r="0.45" opacity="0.45"/>
<circle cx="61.18" cy="47.22" r="0.7" opacity="0.79"/>
<circle cx="41.91" cy="45.5" r="0.7" opacity="0.48"/>
<circle cx="56.93" cy="73.76" r="0.8" opacity="0.68"/>
<circle cx="50.3" cy="32.12" r="0.9" opacity="0.42"/>
<circle cx="64.58" cy="47.62" r="0.9" opacity="0.62"/>
<circle cx="70.85" cy="57.1" r="0.8" opacity="0.49"/>
<circle cx="43.96" cy="40.53" r="0.8" opacity="0.44"/>
<circle cx="37.98" cy="52.29" r="0.9" opacity="0.87"/>
<circle cx="49.87" cy="38.7" r="0.9" opacity="0.8"/>
<circle cx="52.36" cy="43.18" r="0.5" opacity="0.52"/>
<circle cx="60.08" cy="49.6" r="0.5" opacity="0.76"/>
<circle cx="69.15" cy="48.43" r="0.9" opacity="0.65"/>
<circle cx="41.48" cy="48.28" r="0.9" opacity="0.44"/>
<circle cx="42.53" cy="63.39" r="0.6" opacity="0.81"/>
<circle cx="38.88" cy="48.99" r="0.8" opacity="0.46"/>
<circle cx="63" cy="60.44" r="0.9" opacity="0.81"/>
<circle cx="69.97" cy="51.11" r="0.7" opacity="0.49"/>
<circle cx="41.68" cy="60.02" r="0.7" opacity="0.53"/>
<circle cx="69.73" cy="46.29" r="0.8" opacity="0.67"/>
<circle cx="57.93" cy="42.46" r="0.9" opacity="0.49"/>
<circle cx="65.65" cy="28.32" r="0.8" opacity="0.6"/>
<circle cx="66.68" cy="33.54" r="0.45" opacity="0.49"/>
<circle cx="68.15" cy="33.12" r="0.9" opacity="0.65"/>
<circle cx="45.38" cy="43.37" r="0.8" opacity="0.89"/>
<circle cx="53.28" cy="48.84" r="0.7" opacity="0.56"/>
<circle cx="79.69" cy="41.14" r="1.15" opacity="0.7"/>
<circle cx="42.7" cy="34.48" r="0.7" opacity="0.87"/>
<circle cx="76.02" cy="47.93" r="1" opacity="0.76"/>
<circle cx="61.33" cy="29.76" r="0.45" opacity="0.66"/>
<circle cx="59.92" cy="49.9" r="0.5" opacity="0.88"/>
<circle cx="75.67" cy="67.01" r="0.5" opacity="0.62"/>
<circle cx="56.81" cy="29.76" r="0.9" opacity="0.62"/>
<circle cx="59.84" cy="32.36" r="1" opacity="0.7"/>
<circle cx="39.49" cy="36.95" r="0.7" opacity="0.59"/>
<circle cx="85.79" cy="49.76" r="0.45" opacity="0.42"/>
<circle cx="46.32" cy="35.02" r="0.6" opacity="0.54"/>
<circle cx="48.03" cy="52.92" r="0.8" opacity="0.82"/>
<circle cx="52.63" cy="43.8" r="0.5" opacity="0.78"/>
<circle cx="54.08" cy="36.32" r="0.5" opacity="0.85"/>
<circle cx="59.19" cy="47.72" r="0.8" opacity="0.88"/>
<circle cx="64.49" cy="37.82" r="0.9" opacity="0.78"/>
<circle cx="39.81" cy="60.19" r="0.9" opacity="0.55"/>
<circle cx="76.07" cy="58.29" r="1.15" opacity="0.46"/>
<circle cx="54.03" cy="51.33" r="0.8" opacity="0.72"/>
<circle cx="73.62" cy="60.76" r="0.7" opacity="0.89"/>
<circle cx="78.9" cy="43.19" r="0.8" opacity="0.75"/>
<circle cx="69.79" cy="31.55" r="0.45" opacity="0.74"/>
<circle cx="59.43" cy="45.64" r="1" opacity="0.79"/>
<circle cx="75.21" cy="65.54" r="0.45" opacity="0.57"/>
<circle cx="71.94" cy="68.77" r="0.8" opacity="0.48"/>
<circle cx="59.65" cy="46.39" r="0.45" opacity="0.54"/>
<circle cx="58.24" cy="47.15" r="0.5" opacity="0.73"/>
<circle cx="46.72" cy="47.55" r="0.5" opacity="0.6"/>
<circle cx="66.27" cy="32.19" r="0.7" opacity="0.52"/>
<circle cx="69.23" cy="46.44" r="0.45" opacity="0.48"/>
<circle cx="72.24" cy="65.53" r="0.8" opacity="0.58"/>
<circle cx="54.59" cy="42.68" r="1.15" opacity="0.79"/>
<circle cx="51.13" cy="32.93" r="0.7" opacity="0.82"/>
<circle cx="66.19" cy="44.6" r="0.9" opacity="0.86"/>
<circle cx="46.66" cy="35.5" r="0.5" opacity="0.71"/>
<circle cx="73.05" cy="54.04" r="0.8" opacity="0.63"/>
<circle cx="50.04" cy="42.74" r="0.5" opacity="0.76"/>
<circle cx="49.8" cy="26.55" r="1" opacity="0.56"/>
<circle cx="60.2" cy="49.77" r="1.15" opacity="0.57"/>
<circle cx="39.49" cy="58.8" r="0.5" opacity="0.51"/>
<circle cx="57.74" cy="61.98" r="0.7" opacity="0.52"/>
<circle cx="63.09" cy="42.13" r="1.15" opacity="0.76"/>
<circle cx="65.65" cy="70.72" r="0.5" opacity="0.42"/>
<circle cx="80.17" cy="38.28" r="1" opacity="0.82"/>
<circle cx="43.77" cy="29.5" r="0.6" opacity="0.8"/>
<circle cx="51.46" cy="53.49" r="0.45" opacity="0.68"/>
<circle cx="37.37" cy="56.57" r="0.8" opacity="0.85"/>
<circle cx="69.78" cy="50.95" r="0.45" opacity="0.87"/>
<circle cx="56.79" cy="31.16" r="1.15" opacity="0.72"/>
<circle cx="70.77" cy="67.21" r="1.15" opacity="0.59"/>
<circle cx="52.23" cy="53.99" r="0.45" opacity="0.85"/>
<circle cx="62.6" cy="59.84" r="1" opacity="0.86"/>
<circle cx="59.19" cy="53.63" r="0.5" opacity="0.53"/>
<circle cx="62.39" cy="43.72" r="0.9" opacity="0.45"/>
<circle cx="57.53" cy="61.21" r="0.8" opacity="0.45"/>
<circle cx="73.29" cy="37.93" r="0.6" opacity="0.53"/>
<circle cx="39.44" cy="57.98" r="0.5" opacity="0.61"/>
<circle cx="63.64" cy="38.86" r="0.9" opacity="0.65"/>
<circle cx="82.26" cy="47.16" r="0.6" opacity="0.73"/>
<circle cx="71.57" cy="50.16" r="0.8" opacity="0.77"/>
<circle cx="54.41" cy="38.53" r="1" opacity="0.57"/>
<circle cx="50.25" cy="37.11" r="0.9" opacity="0.54"/>
<circle cx="50.44" cy="60.67" r="0.9" opacity="0.69"/>
<circle cx="48.38" cy="45.68" r="0.9" opacity="0.86"/>
<circle cx="71.66" cy="61.77" r="0.9" opacity="0.9"/>
<circle cx="53.36" cy="37.61" r="0.9" opacity="0.67"/>
<circle cx="41.16" cy="58.5" r="0.6" opacity="0.85"/>
<circle cx="55.61" cy="60.74" r="0.45" opacity="0.81"/>
<circle cx="70.47" cy="60.01" r="0.7" opacity="0.53"/>
<circle cx="61.95" cy="25.02" r="0.5" opacity="0.8"/>
<circle cx="79.1" cy="48.83" r="1" opacity="0.41"/>
<circle cx="79.62" cy="59.77" r="0.8" opacity="0.51"/>
<circle cx="60.15" cy="70.14" r="0.7" opacity="0.61"/>
<circle cx="62.95" cy="72.66" r="1.15" opacity="0.76"/>
<circle cx="74.07" cy="63.07" r="1.15" opacity="0.44"/>
<circle cx="61.05" cy="52.51" r="1" opacity="0.42"/>
<circle cx="58.21" cy="31.14" r="0.8" opacity="0.75"/>
<circle cx="62.74" cy="65.9" r="0.9" opacity="0.89"/>
<circle cx="64.46" cy="51.03" r="1" opacity="0.67"/>
<circle cx="85.44" cy="43.16" r="0.8" opacity="0.63"/>
<circle cx="57.43" cy="28.42" r="0.6" opacity="0.53"/>
<circle cx="52.81" cy="50.78" r="0.45" opacity="0.58"/>
<circle cx="54.09" cy="46.24" r="0.9" opacity="0.72"/>
<circle cx="75.27" cy="42.07" r="0.5" opacity="0.64"/>
<circle cx="53.23" cy="27.69" r="0.8" opacity="0.87"/>
<circle cx="48.05" cy="39.17" r="1.15" opacity="0.51"/>
<circle cx="85.21" cy="42.8" r="1" opacity="0.45"/>
<circle cx="59.87" cy="52.71" r="0.5" opacity="0.6"/>
<circle cx="52.07" cy="72.74" r="0.5" opacity="0.77"/>
<circle cx="78.92" cy="61.46" r="0.8" opacity="0.74"/>
<circle cx="77.28" cy="59.43" r="0.45" opacity="0.79"/>
<circle cx="37.8" cy="42.13" r="1.15" opacity="0.55"/>
<circle cx="38.82" cy="41.95" r="0.7" opacity="0.48"/>
<circle cx="80.79" cy="55.55" r="0.7" opacity="0.79"/>
<circle cx="73.11" cy="39.78" r="0.8" opacity="0.43"/>
<circle cx="49.49" cy="70.43" r="0.5" opacity="0.51"/>
<circle cx="71.84" cy="43.34" r="0.6" opacity="0.53"/>
<circle cx="67.65" cy="70.39" r="0.45" opacity="0.67"/>
<circle cx="41.19" cy="43.46" r="0.8" opacity="0.64"/>
<circle cx="60.02" cy="48.13" r="1.15" opacity="0.52"/>
<circle cx="74.74" cy="61.36" r="1.15" opacity="0.67"/>
<circle cx="56.13" cy="53.61" r="0.7" opacity="0.56"/>
<circle cx="51.15" cy="27.74" r="0.6" opacity="0.75"/>
<circle cx="67.94" cy="66.3" r="0.45" opacity="0.68"/>
<circle cx="45.44" cy="31.67" r="0.8" opacity="0.61"/>
<circle cx="64.66" cy="48.44" r="0.7" opacity="0.44"/>
<circle cx="66.06" cy="49.21" r="0.45" opacity="0.46"/>
<circle cx="64.57" cy="39.79" r="0.5" opacity="0.76"/>
<circle cx="58.22" cy="50.98" r="0.45" opacity="0.58"/>
<circle cx="64.74" cy="46.21" r="0.7" opacity="0.45"/>
<circle cx="72.83" cy="27.62" r="0.8" opacity="0.6"/>
<circle cx="67.14" cy="49.73" r="1" opacity="0.67"/>
<circle cx="82.41" cy="55.5" r="0.6" opacity="0.43"/>
<circle cx="42.63" cy="32.53" r="1" opacity="0.54"/>
<circle cx="47.15" cy="45.6" r="0.8" opacity="0.64"/>
<circle cx="38.71" cy="41.24" r="0.9" opacity="0.67"/>
<circle cx="72.77" cy="58.35" r="0.45" opacity="0.71"/>
<circle cx="70.21" cy="66.18" r="1.15" opacity="0.82"/>
<circle cx="51.45" cy="69.57" r="0.6" opacity="0.48"/>
<circle cx="78.82" cy="43.01" r="0.6" opacity="0.53"/>
<circle cx="76.97" cy="53.9" r="0.45" opacity="0.67"/>
<circle cx="61.17" cy="45.98" r="0.5" opacity="0.63"/>
<circle cx="65.92" cy="43.93" r="0.9" opacity="0.6"/>
<circle cx="35.93" cy="46.59" r="0.45" opacity="0.72"/>
<circle cx="77.67" cy="66.45" r="0.6" opacity="0.67"/>
<circle cx="63.31" cy="63.76" r="0.9" opacity="0.8"/>
<circle cx="46.48" cy="65.16" r="0.7" opacity="0.45"/>
<circle cx="58.36" cy="43.86" r="0.9" opacity="0.53"/>
<circle cx="55.82" cy="40.43" r="0.9" opacity="0.62"/>
<circle cx="67.92" cy="49.24" r="0.45" opacity="0.57"/>
<circle cx="53.14" cy="47.58" r="1.15" opacity="0.85"/>
<circle cx="39.68" cy="52.75" r="1.15" opacity="0.85"/>
<circle cx="78.86" cy="30.31" r="0.7" opacity="0.45"/>
<circle cx="58.37" cy="46.61" r="1.15" opacity="0.73"/>
<circle cx="84.52" cy="44.46" r="1" opacity="0.67"/>
<circle cx="53.69" cy="26.69" r="0.45" opacity="0.73"/>
<circle cx="58.23" cy="41.44" r="0.8" opacity="0.86"/>
<circle cx="61.85" cy="26.52" r="0.8" opacity="0.41"/>
<circle cx="67.86" cy="61.18" r="0.7" opacity="0.67"/>
<circle cx="82.9" cy="57.12" r="0.9" opacity="0.73"/>
<circle cx="53.16" cy="46.81" r="0.6" opacity="0.49"/>
<circle cx="61.22" cy="44.21" r="0.45" opacity="0.87"/>
<circle cx="71.52" cy="58.68" r="0.5" opacity="0.52"/>
<circle cx="39.55" cy="56.11" r="1" opacity="0.44"/>
<circle cx="60.66" cy="46.85" r="0.7" opacity="0.79"/>
<circle cx="63.91" cy="44.42" r="1" opacity="0.48"/>
<circle cx="63.89" cy="66.17" r="1.15" opacity="0.9"/>
<circle cx="63.46" cy="59.14" r="1" opacity="0.8"/>
<circle cx="48.37" cy="30.33" r="0.5" opacity="0.77"/>
<circle cx="40.85" cy="34.73" r="0.9" opacity="0.59"/>
<circle cx="67.01" cy="50.57" r="0.7" opacity="0.69"/>
<circle cx="54.52" cy="31.47" r="0.5" opacity="0.48"/>
<circle cx="40.56" cy="53.53" r="0.5" opacity="0.86"/>
<circle cx="40.67" cy="31.83" r="1" opacity="0.58"/>
<circle cx="45.38" cy="59.71" r="0.9" opacity="0.65"/>
<circle cx="61.29" cy="37.14" r="1.15" opacity="0.41"/>
<circle cx="67.21" cy="26.37" r="0.9" opacity="0.78"/>
<circle cx="46.52" cy="32.13" r="1" opacity="0.46"/>
<circle cx="71.93" cy="65.76" r="1" opacity="0.73"/>
<circle cx="77.76" cy="52.51" r="0.45" opacity="0.76"/>
<circle cx="62.97" cy="33.39" r="0.45" opacity="0.72"/>
<circle cx="83.68" cy="48.36" r="1" opacity="0.88"/>
<circle cx="56.17" cy="35.66" r="0.5" opacity="0.73"/>
<circle cx="59.87" cy="42.37" r="0.9" opacity="0.85"/>
<circle cx="59.29" cy="46.9" r="1" opacity="0.82"/>
<circle cx="42.53" cy="48.31" r="1" opacity="0.66"/>
<circle cx="52.79" cy="68.96" r="0.5" opacity="0.57"/>
<circle cx="67.26" cy="49.55" r="0.6" opacity="0.83"/>
<circle cx="58.8" cy="52.78" r="0.5" opacity="0.9"/>
<circle cx="79.31" cy="56.24" r="1" opacity="0.53"/>
<circle cx="74.19" cy="64.44" r="0.8" opacity="0.43"/>
<circle cx="76.5" cy="40.55" r="1" opacity="0.9"/>
<circle cx="64.66" cy="26.94" r="0.45" opacity="0.45"/>
<circle cx="58.52" cy="49.18" r="0.5" opacity="0.82"/>
<circle cx="60.5" cy="65.27" r="0.45" opacity="0.86"/>
<circle cx="52.85" cy="28.74" r="0.6" opacity="0.69"/>
<circle cx="80.67" cy="43.85" r="0.9" opacity="0.9"/>
<circle cx="53.06" cy="42.41" r="0.8" opacity="0.78"/>
<circle cx="48.61" cy="63.92" r="0.5" opacity="0.44"/>
<circle cx="58.21" cy="54.5" r="0.8" opacity="0.52"/>
<circle cx="59.7" cy="46.74" r="0.8" opacity="0.79"/>
<circle cx="44.21" cy="50.6" r="0.9" opacity="0.57"/>
<circle cx="61.39" cy="22.64" r="0.9" opacity="0.8"/>
<circle cx="65.71" cy="47.71" r="0.6" opacity="0.84"/>
<circle cx="53.1" cy="44.79" r="1" opacity="0.49"/>
<circle cx="45.81" cy="53.01" r="0.5" opacity="0.76"/>
<circle cx="75.98" cy="40.57" r="1.15" opacity="0.57"/>
<circle cx="72.78" cy="32.79" r="0.45" opacity="0.41"/>
<circle cx="61.43" cy="56.55" r="0.6" opacity="0.42"/>
<circle cx="44.52" cy="36.58" r="1.15" opacity="0.65"/>
<circle cx="43.31" cy="54.97" r="1" opacity="0.71"/>
<circle cx="59.8" cy="71.85" r="1" opacity="0.81"/>
<circle cx="51.64" cy="56.28" r="0.7" opacity="0.75"/>
<circle cx="63.27" cy="48.26" r="1.15" opacity="0.7"/>
<circle cx="42.1" cy="35.45" r="0.8" opacity="0.68"/>
<circle cx="66.41" cy="34.95" r="0.8" opacity="0.41"/>
<circle cx="76.01" cy="45.86" r="0.9" opacity="0.52"/>
<circle cx="71.47" cy="71.6" r="0.6" opacity="0.59"/>
<circle cx="68.31" cy="40.3" r="0.45" opacity="0.53"/>
<circle cx="35.97" cy="41.53" r="0.9" opacity="0.57"/>
<circle cx="76.28" cy="68.57" r="0.7" opacity="0.76"/>
<circle cx="69.93" cy="65.85" r="0.5" opacity="0.46"/>
<circle cx="85.77" cy="54.11" r="0.7" opacity="0.41"/>
<circle cx="70.93" cy="62.25" r="0.9" opacity="0.55"/>
<circle cx="45.35" cy="59.92" r="1" opacity="0.51"/>
<circle cx="60.39" cy="57.84" r="0.45" opacity="0.9"/>
<circle cx="51.8" cy="64.77" r="1.15" opacity="0.56"/>
<circle cx="65.1" cy="36.78" r="0.8" opacity="0.61"/>
<circle cx="74.37" cy="55.83" r="0.5" opacity="0.65"/>
<circle cx="74.13" cy="61.92" r="0.8" opacity="0.62"/>
<circle cx="35.98" cy="53.53" r="0.6" opacity="0.46"/>
<circle cx="68.26" cy="50.53" r="0.45" opacity="0.43"/>
<circle cx="55.19" cy="47.12" r="0.45" opacity="0.71"/>
<circle cx="58.79" cy="35.34" r="0.8" opacity="0.84"/>
<circle cx="54.53" cy="23.99" r="1.15" opacity="0.42"/>
<circle cx="39.59" cy="51.64" r="0.5" opacity="0.78"/>
<circle cx="63.14" cy="39.87" r="0.6" opacity="0.43"/>
<circle cx="45.7" cy="61.82" r="0.9" opacity="0.43"/>
<circle cx="61.22" cy="50.82" r="0.6" opacity="0.46"/>
<circle cx="74.04" cy="27.08" r="0.7" opacity="0.87"/>
<circle cx="62" cy="68.61" r="0.45" opacity="0.76"/>
<circle cx="50.92" cy="40.35" r="1" opacity="0.83"/>
<circle cx="56.44" cy="34.15" r="1.15" opacity="0.84"/>
<circle cx="66.27" cy="26.96" r="0.5" opacity="0.79"/>
<circle cx="48.23" cy="37.41" r="0.9" opacity="0.78"/>
<circle cx="58.1" cy="40.05" r="1" opacity="0.88"/>
<circle cx="53.37" cy="37.33" r="0.8" opacity="0.68"/>
<circle cx="72.13" cy="28.92" r="1.15" opacity="0.72"/>
<circle cx="41.86" cy="65.4" r="0.8" opacity="0.52"/>
<circle cx="56.56" cy="50.95" r="1.15" opacity="0.86"/>
<circle cx="70.65" cy="24.51" r="0.6" opacity="0.64"/>
<circle cx="73.11" cy="50.98" r="0.9" opacity="0.77"/>
<circle cx="84.39" cy="40.24" r="0.9" opacity="0.57"/>
</g>
<circle cx="117.5" cy="48.2" r="27.5" fill="url(#pg2)"/>
<g fill="#3a2a94">
<circle cx="121.59" cy="41.22" r="0.8" opacity="0.53"/>
<circle cx="125.12" cy="64.9" r="0.9" opacity="0.67"/>
<circle cx="112.3" cy="47.79" r="1" opacity="0.61"/>
<circle cx="99.05" cy="30.46" r="0.7" opacity="0.41"/>
<circle cx="97.52" cy="48.76" r="0.6" opacity="0.9"/>
<circle cx="112.81" cy="49.6" r="0.9" opacity="0.79"/>
<circle cx="131.47" cy="60.03" r="1.15" opacity="0.73"/>
<circle cx="105.35" cy="48.09" r="0.9" opacity="0.73"/>
<circle cx="139.67" cy="39.99" r="1.15" opacity="0.64"/>
<circle cx="107.86" cy="59.18" r="0.6" opacity="0.84"/>
<circle cx="132.51" cy="47.09" r="0.8" opacity="0.88"/>
<circle cx="117.73" cy="49.18" r="1" opacity="0.56"/>
<circle cx="118.15" cy="72.08" r="0.5" opacity="0.79"/>
<circle cx="95.84" cy="52.29" r="0.45" opacity="0.54"/>
<circle cx="136.97" cy="34.17" r="0.7" opacity="0.87"/>
<circle cx="124.44" cy="42.84" r="0.45" opacity="0.58"/>
<circle cx="127" cy="25.26" r="0.5" opacity="0.41"/>
<circle cx="98.64" cy="30.81" r="0.45" opacity="0.59"/>
<circle cx="120.15" cy="46.85" r="0.45" opacity="0.4"/>
<circle cx="124.53" cy="61.82" r="0.8" opacity="0.57"/>
<circle cx="108.11" cy="49.23" r="0.45" opacity="0.85"/>
<circle cx="137.43" cy="59.49" r="1.15" opacity="0.88"/>
<circle cx="112.98" cy="39.73" r="0.45" opacity="0.62"/>
<circle cx="97.01" cy="52.87" r="1" opacity="0.64"/>
<circle cx="138.09" cy="39.46" r="0.8" opacity="0.7"/>
<circle cx="118.35" cy="47.38" r="0.6" opacity="0.49"/>
<circle cx="133.54" cy="55.02" r="0.9" opacity="0.53"/>
<circle cx="114.76" cy="48.09" r="0.5" opacity="0.52"/>
<circle cx="118.66" cy="49.72" r="0.7" opacity="0.41"/>
<circle cx="114.96" cy="50.15" r="1" opacity="0.51"/>
<circle cx="118.13" cy="52.66" r="0.45" opacity="0.84"/>
<circle cx="121.97" cy="71.33" r="1.15" opacity="0.58"/>
<circle cx="140.68" cy="54.28" r="0.8" opacity="0.75"/>
<circle cx="106.96" cy="68.79" r="1" opacity="0.45"/>
<circle cx="136.23" cy="57.69" r="0.45" opacity="0.81"/>
<circle cx="113.01" cy="43.5" r="0.5" opacity="0.4"/>
<circle cx="113.97" cy="53.21" r="0.7" opacity="0.78"/>
<circle cx="121.44" cy="42.25" r="1.15" opacity="0.47"/>
<circle cx="138.82" cy="34.68" r="0.5" opacity="0.44"/>
<circle cx="129.79" cy="48.09" r="0.9" opacity="0.88"/>
<circle cx="112.53" cy="50.36" r="1.15" opacity="0.76"/>
<circle cx="113.04" cy="47.77" r="0.8" opacity="0.6"/>
<circle cx="122.81" cy="50.87" r="0.5" opacity="0.69"/>
<circle cx="95.28" cy="40.28" r="0.6" opacity="0.8"/>
<circle cx="111.48" cy="59.66" r="0.9" opacity="0.62"/>
<circle cx="96.16" cy="50.45" r="1" opacity="0.45"/>
<circle cx="129.35" cy="34.85" r="0.6" opacity="0.63"/>
<circle cx="121.54" cy="28.66" r="1.15" opacity="0.76"/>
<circle cx="111.08" cy="61.22" r="1" opacity="0.66"/>
<circle cx="112.27" cy="59.78" r="1" opacity="0.75"/>
<circle cx="126.22" cy="62.59" r="0.7" opacity="0.67"/>
<circle cx="134.9" cy="41.74" r="0.45" opacity="0.56"/>
<circle cx="139.87" cy="46.35" r="0.6" opacity="0.81"/>
<circle cx="125.33" cy="44.67" r="1" opacity="0.85"/>
<circle cx="100.97" cy="61.63" r="0.7" opacity="0.64"/>
<circle cx="118.24" cy="30.25" r="0.7" opacity="0.89"/>
<circle cx="109.26" cy="70.51" r="0.5" opacity="0.78"/>
<circle cx="127.11" cy="39.12" r="0.8" opacity="0.84"/>
<circle cx="104.04" cy="55.08" r="0.6" opacity="0.43"/>
<circle cx="105.55" cy="46.41" r="0.45" opacity="0.58"/>
<circle cx="111.03" cy="45.05" r="0.8" opacity="0.65"/>
<circle cx="113.79" cy="40.96" r="0.8" opacity="0.44"/>
<circle cx="106.73" cy="56.25" r="0.8" opacity="0.73"/>
<circle cx="111.51" cy="49.88" r="0.6" opacity="0.8"/>
<circle cx="106.94" cy="33.51" r="1.15" opacity="0.68"/>
<circle cx="133.31" cy="67.81" r="0.7" opacity="0.56"/>
<circle cx="113.8" cy="47.66" r="1.15" opacity="0.83"/>
<circle cx="97.36" cy="60.22" r="0.7" opacity="0.86"/>
<circle cx="127.32" cy="41.26" r="0.9" opacity="0.47"/>
<circle cx="116.19" cy="52.18" r="1" opacity="0.6"/>
<circle cx="108.82" cy="69.02" r="0.9" opacity="0.77"/>
<circle cx="126.89" cy="40.91" r="1" opacity="0.64"/>
<circle cx="139.57" cy="44.94" r="0.5" opacity="0.85"/>
<circle cx="113.93" cy="50.14" r="1" opacity="0.4"/>
<circle cx="135.38" cy="53.41" r="0.8" opacity="0.63"/>
<circle cx="109.79" cy="31.82" r="1.15" opacity="0.45"/>
<circle cx="118.18" cy="50.01" r="1" opacity="0.58"/>
<circle cx="120.3" cy="52.97" r="0.45" opacity="0.57"/>
<circle cx="120.45" cy="43.48" r="0.8" opacity="0.47"/>
<circle cx="136.5" cy="39.29" r="1" opacity="0.51"/>
<circle cx="117.66" cy="42.24" r="0.9" opacity="0.67"/>
<circle cx="94.98" cy="48.77" r="1.15" opacity="0.89"/>
<circle cx="115" cy="43.35" r="1.15" opacity="0.42"/>
<circle cx="119.88" cy="46.94" r="0.6" opacity="0.44"/>
<circle cx="115" cy="49.05" r="0.6" opacity="0.61"/>
<circle cx="108.48" cy="65.78" r="1.15" opacity="0.42"/>
<circle cx="103.28" cy="47.18" r="0.45" opacity="0.47"/>
<circle cx="135.21" cy="49.46" r="0.7" opacity="0.47"/>
<circle cx="117.43" cy="48.32" r="0.7" opacity="0.71"/>
<circle cx="125.62" cy="42.36" r="0.6" opacity="0.66"/>
<circle cx="101.1" cy="39.44" r="0.6" opacity="0.61"/>
<circle cx="133.88" cy="65.33" r="0.5" opacity="0.64"/>
<circle cx="128.67" cy="59.15" r="0.5" opacity="0.42"/>
<circle cx="101.11" cy="31.39" r="0.45" opacity="0.72"/>
<circle cx="130.82" cy="59.35" r="1.15" opacity="0.67"/>
<circle cx="137.37" cy="33.05" r="0.6" opacity="0.7"/>
<circle cx="117.88" cy="48.86" r="0.6" opacity="0.78"/>
<circle cx="112.72" cy="39.34" r="0.8" opacity="0.88"/>
<circle cx="107.84" cy="65.8" r="0.5" opacity="0.61"/>
<circle cx="129.63" cy="45.74" r="0.5" opacity="0.72"/>
<circle cx="104.38" cy="60.73" r="0.7" opacity="0.61"/>
<circle cx="122.35" cy="54.38" r="1.15" opacity="0.89"/>
<circle cx="123.7" cy="54.53" r="1.15" opacity="0.62"/>
<circle cx="136.75" cy="39.28" r="0.5" opacity="0.49"/>
<circle cx="137.31" cy="32.92" r="0.6" opacity="0.74"/>
<circle cx="101.4" cy="66.73" r="0.8" opacity="0.45"/>
<circle cx="107.46" cy="45.48" r="0.9" opacity="0.81"/>
<circle cx="108.47" cy="48.19" r="0.8" opacity="0.69"/>
<circle cx="121.4" cy="51.57" r="1" opacity="0.76"/>
<circle cx="114.6" cy="36.05" r="0.5" opacity="0.65"/>
<circle cx="128.7" cy="68.79" r="1" opacity="0.66"/>
<circle cx="97.61" cy="54.88" r="1" opacity="0.81"/>
<circle cx="111.7" cy="48.13" r="1" opacity="0.54"/>
<circle cx="93.02" cy="49.57" r="0.5" opacity="0.7"/>
<circle cx="102.73" cy="35.7" r="0.9" opacity="0.66"/>
<circle cx="133.03" cy="52.65" r="1.15" opacity="0.77"/>
<circle cx="120.05" cy="49.83" r="0.45" opacity="0.71"/>
<circle cx="94.76" cy="57.55" r="1" opacity="0.75"/>
<circle cx="112.66" cy="46.77" r="0.45" opacity="0.87"/>
<circle cx="108.7" cy="71.44" r="0.9" opacity="0.45"/>
<circle cx="109.99" cy="72.81" r="0.8" opacity="0.8"/>
<circle cx="118.01" cy="73.9" r="0.45" opacity="0.42"/>
<circle cx="124.83" cy="39.92" r="0.45" opacity="0.83"/>
<circle cx="109.7" cy="45.58" r="1" opacity="0.61"/>
<circle cx="100" cy="54.45" r="0.45" opacity="0.7"/>
<circle cx="135.49" cy="57.72" r="0.8" opacity="0.41"/>
<circle cx="120.26" cy="26.36" r="1" opacity="0.44"/>
<circle cx="122.01" cy="32.87" r="1" opacity="0.61"/>
<circle cx="98.01" cy="34.52" r="0.6" opacity="0.89"/>
<circle cx="121.34" cy="34.47" r="1.15" opacity="0.64"/>
</g>
<circle cx="174.5" cy="48.2" r="27.5" fill="url(#pg3)"/>
<g fill="#3a2a94">
<circle cx="176.93" cy="41.05" r="1.15" opacity="0.71"/>
<circle cx="187.45" cy="46.65" r="0.8" opacity="0.68"/>
<circle cx="186.44" cy="50.45" r="1.15" opacity="0.6"/>
<circle cx="159.76" cy="29.04" r="1" opacity="0.77"/>
<circle cx="173" cy="60.24" r="1" opacity="0.76"/>
<circle cx="168.72" cy="64.75" r="1.15" opacity="0.88"/>
<circle cx="176.01" cy="46.83" r="1.15" opacity="0.51"/>
<circle cx="170.99" cy="55.17" r="0.8" opacity="0.61"/>
<circle cx="178.57" cy="50.08" r="1" opacity="0.69"/>
<circle cx="184.51" cy="71.79" r="0.8" opacity="0.9"/>
<circle cx="196.76" cy="52" r="0.7" opacity="0.72"/>
<circle cx="161.69" cy="27.54" r="1.15" opacity="0.83"/>
<circle cx="155.29" cy="36.86" r="1" opacity="0.84"/>
<circle cx="175.75" cy="45.18" r="0.9" opacity="0.68"/>
<circle cx="162.35" cy="33.68" r="0.45" opacity="0.55"/>
<circle cx="175.88" cy="45.39" r="0.7" opacity="0.89"/>
<circle cx="161.49" cy="58.64" r="0.9" opacity="0.56"/>
<circle cx="196.32" cy="41.48" r="1.15" opacity="0.83"/>
<circle cx="194.68" cy="58.15" r="0.5" opacity="0.71"/>
<circle cx="174.89" cy="44.42" r="0.7" opacity="0.87"/>
<circle cx="161.2" cy="37.36" r="0.9" opacity="0.41"/>
<circle cx="181.77" cy="24" r="0.9" opacity="0.63"/>
<circle cx="166.39" cy="59.58" r="1.15" opacity="0.41"/>
<circle cx="170.66" cy="36.52" r="0.8" opacity="0.71"/>
<circle cx="180.08" cy="30.46" r="0.6" opacity="0.56"/>
<circle cx="179.76" cy="37.22" r="1" opacity="0.45"/>
<circle cx="168.99" cy="46" r="0.8" opacity="0.52"/>
<circle cx="170.94" cy="59.09" r="0.5" opacity="0.7"/>
<circle cx="184.12" cy="33.05" r="0.6" opacity="0.44"/>
<circle cx="158.99" cy="51.96" r="0.8" opacity="0.51"/>
<circle cx="173.48" cy="45.5" r="0.6" opacity="0.83"/>
<circle cx="179.42" cy="43.87" r="0.8" opacity="0.63"/>
<circle cx="162.97" cy="51.96" r="0.45" opacity="0.86"/>
<circle cx="193.02" cy="57.16" r="0.8" opacity="0.67"/>
<circle cx="153.6" cy="34.15" r="0.45" opacity="0.85"/>
<circle cx="156.45" cy="37.19" r="0.45" opacity="0.66"/>
<circle cx="198.65" cy="54.37" r="0.9" opacity="0.46"/>
<circle cx="176.75" cy="65.34" r="0.45" opacity="0.58"/>
<circle cx="176.41" cy="65.62" r="0.6" opacity="0.52"/>
<circle cx="173.81" cy="52.1" r="1" opacity="0.42"/>
<circle cx="161.77" cy="49.7" r="1" opacity="0.43"/>
<circle cx="173.95" cy="29.34" r="0.5" opacity="0.58"/>
<circle cx="179.26" cy="40.55" r="0.7" opacity="0.89"/>
<circle cx="190.74" cy="51.87" r="0.45" opacity="0.59"/>
<circle cx="190.04" cy="41.61" r="0.45" opacity="0.71"/>
<circle cx="167.48" cy="47.99" r="0.9" opacity="0.61"/>
<circle cx="172.35" cy="34.18" r="0.8" opacity="0.75"/>
<circle cx="171.84" cy="47.98" r="0.45" opacity="0.87"/>
<circle cx="172.53" cy="27.47" r="1" opacity="0.73"/>
<circle cx="178.01" cy="26.37" r="0.45" opacity="0.64"/>
<circle cx="168.38" cy="49.7" r="0.5" opacity="0.73"/>
<circle cx="192.07" cy="39.48" r="0.5" opacity="0.41"/>
<circle cx="168.56" cy="46.72" r="0.8" opacity="0.69"/>
<circle cx="186.33" cy="26.57" r="0.5" opacity="0.87"/>
<circle cx="173.81" cy="50.75" r="0.5" opacity="0.52"/>
<circle cx="160.75" cy="54.58" r="1" opacity="0.53"/>
<circle cx="198.63" cy="51.32" r="0.5" opacity="0.59"/>
<circle cx="169.84" cy="51.96" r="1.15" opacity="0.48"/>
<circle cx="173.59" cy="59.13" r="1.15" opacity="0.69"/>
<circle cx="154.5" cy="62.06" r="0.6" opacity="0.69"/>
<circle cx="159.78" cy="58.71" r="0.8" opacity="0.74"/>
<circle cx="179.74" cy="52.85" r="0.8" opacity="0.84"/>
<circle cx="161.75" cy="64.93" r="0.7" opacity="0.49"/>
<circle cx="164.71" cy="63.28" r="0.6" opacity="0.61"/>
<circle cx="185.58" cy="32.02" r="0.45" opacity="0.64"/>
<circle cx="194.12" cy="42.71" r="0.45" opacity="0.63"/>
<circle cx="159.91" cy="60.17" r="0.5" opacity="0.88"/>
<circle cx="160.32" cy="31.13" r="0.8" opacity="0.47"/>
<circle cx="175.92" cy="55.1" r="0.45" opacity="0.58"/>
<circle cx="170.99" cy="47.42" r="0.7" opacity="0.72"/>
<circle cx="173.95" cy="27.6" r="0.9" opacity="0.46"/>
<circle cx="183.6" cy="26.89" r="0.8" opacity="0.45"/>
<circle cx="167.58" cy="63.18" r="1.15" opacity="0.55"/>
<circle cx="182.97" cy="65.03" r="0.8" opacity="0.45"/>
<circle cx="165.62" cy="51.83" r="0.5" opacity="0.73"/>
<circle cx="187.82" cy="56.22" r="0.6" opacity="0.49"/>
<circle cx="183.05" cy="27.47" r="0.6" opacity="0.86"/>
<circle cx="182.73" cy="43.81" r="0.8" opacity="0.72"/>
<circle cx="164.18" cy="30.4" r="0.5" opacity="0.45"/>
<circle cx="177.46" cy="52.37" r="1" opacity="0.58"/>
<circle cx="168.09" cy="68.69" r="0.45" opacity="0.64"/>
<circle cx="185.25" cy="49.01" r="0.9" opacity="0.87"/>
<circle cx="184.48" cy="51.74" r="0.5" opacity="0.49"/>
<circle cx="169.92" cy="61.58" r="0.6" opacity="0.7"/>
<circle cx="174.1" cy="47.61" r="0.6" opacity="0.68"/>
<circle cx="160.76" cy="63.69" r="0.45" opacity="0.82"/>
<circle cx="169.4" cy="65.5" r="0.9" opacity="0.68"/>
<circle cx="163.47" cy="68" r="1.15" opacity="0.42"/>
<circle cx="181.87" cy="26.61" r="0.7" opacity="0.65"/>
<circle cx="172.33" cy="31.34" r="0.7" opacity="0.42"/>
<circle cx="182.53" cy="45.13" r="0.8" opacity="0.88"/>
<circle cx="154.46" cy="64.28" r="0.45" opacity="0.41"/>
<circle cx="174.83" cy="48.12" r="0.45" opacity="0.86"/>
<circle cx="194.88" cy="58.91" r="0.6" opacity="0.44"/>
<circle cx="196.27" cy="45.47" r="0.7" opacity="0.87"/>
<circle cx="171.04" cy="62.33" r="1.15" opacity="0.56"/>
<circle cx="169.47" cy="67.19" r="0.6" opacity="0.6"/>
<circle cx="185.02" cy="44.81" r="1.15" opacity="0.85"/>
<circle cx="167.18" cy="41.1" r="0.9" opacity="0.7"/>
<circle cx="154.89" cy="46" r="0.7" opacity="0.48"/>
<circle cx="171.39" cy="43.53" r="0.45" opacity="0.47"/>
<circle cx="171.35" cy="30.86" r="0.45" opacity="0.6"/>
<circle cx="149.15" cy="47.83" r="0.7" opacity="0.52"/>
<circle cx="157.49" cy="39.01" r="0.5" opacity="0.57"/>
<circle cx="185.4" cy="48.13" r="0.8" opacity="0.89"/>
<circle cx="174.81" cy="46.7" r="0.45" opacity="0.45"/>
<circle cx="157.4" cy="48.74" r="0.9" opacity="0.5"/>
<circle cx="173.23" cy="64.9" r="0.9" opacity="0.87"/>
<circle cx="174.47" cy="51.31" r="1" opacity="0.44"/>
<circle cx="165.38" cy="58.1" r="1" opacity="0.49"/>
<circle cx="187.37" cy="66.66" r="0.9" opacity="0.86"/>
<circle cx="169.81" cy="33.32" r="1.15" opacity="0.57"/>
<circle cx="174.89" cy="62.1" r="1" opacity="0.87"/>
<circle cx="181.34" cy="52.07" r="1.15" opacity="0.45"/>
<circle cx="183.33" cy="38.3" r="0.45" opacity="0.84"/>
<circle cx="171.74" cy="70.03" r="0.9" opacity="0.9"/>
<circle cx="180.28" cy="52.82" r="0.5" opacity="0.57"/>
<circle cx="171.77" cy="65.91" r="0.7" opacity="0.52"/>
<circle cx="181.54" cy="50.86" r="0.45" opacity="0.46"/>
<circle cx="158.48" cy="67.49" r="1" opacity="0.65"/>
<circle cx="164.54" cy="69.26" r="0.7" opacity="0.63"/>
<circle cx="161.03" cy="26.7" r="1" opacity="0.51"/>
<circle cx="180.85" cy="56" r="0.9" opacity="0.6"/>
<circle cx="189.78" cy="36.75" r="1.15" opacity="0.81"/>
<circle cx="176.66" cy="46.23" r="0.5" opacity="0.57"/>
<circle cx="167.06" cy="63.83" r="0.5" opacity="0.7"/>
<circle cx="170.7" cy="25.33" r="0.7" opacity="0.56"/>
<circle cx="158.38" cy="32.73" r="1.15" opacity="0.87"/>
<circle cx="170.03" cy="72.84" r="1" opacity="0.64"/>
<circle cx="152.27" cy="60.43" r="0.8" opacity="0.65"/>
<circle cx="173.43" cy="46.47" r="0.7" opacity="0.54"/>
<circle cx="165.96" cy="61.51" r="0.8" opacity="0.47"/>
<circle cx="196.97" cy="45.11" r="0.7" opacity="0.48"/>
<circle cx="195.19" cy="41.19" r="0.6" opacity="0.62"/>
<circle cx="173.37" cy="48.78" r="0.8" opacity="0.77"/>
<circle cx="177.4" cy="47.66" r="0.7" opacity="0.41"/>
<circle cx="152.16" cy="37.84" r="0.7" opacity="0.74"/>
<circle cx="186.76" cy="39.37" r="0.45" opacity="0.61"/>
<circle cx="184.14" cy="70.89" r="0.7" opacity="0.88"/>
<circle cx="193.28" cy="43.38" r="0.9" opacity="0.68"/>
<circle cx="183.6" cy="71.77" r="1" opacity="0.59"/>
<circle cx="178.26" cy="44.34" r="0.9" opacity="0.62"/>
<circle cx="161.06" cy="36.27" r="0.6" opacity="0.69"/>
<circle cx="183.16" cy="47.12" r="0.7" opacity="0.81"/>
<circle cx="177.24" cy="47.52" r="0.8" opacity="0.79"/>
<circle cx="161.72" cy="44.64" r="0.5" opacity="0.59"/>
<circle cx="168.08" cy="66.25" r="0.9" opacity="0.42"/>
<circle cx="177.53" cy="22.66" r="1" opacity="0.53"/>
<circle cx="151.37" cy="49.64" r="0.5" opacity="0.72"/>
<circle cx="161.73" cy="50.74" r="0.45" opacity="0.49"/>
<circle cx="184.95" cy="46.4" r="1" opacity="0.72"/>
<circle cx="185.74" cy="48.34" r="0.6" opacity="0.56"/>
<circle cx="155.36" cy="32.48" r="0.5" opacity="0.62"/>
<circle cx="175.49" cy="49.9" r="0.5" opacity="0.87"/>
<circle cx="174.9" cy="47.66" r="1.15" opacity="0.52"/>
<circle cx="199.3" cy="47.38" r="0.9" opacity="0.64"/>
<circle cx="176.2" cy="67.67" r="1.15" opacity="0.68"/>
<circle cx="176.6" cy="45.03" r="1.15" opacity="0.82"/>
<circle cx="179.69" cy="72" r="0.6" opacity="0.55"/>
<circle cx="154.17" cy="53.9" r="0.45" opacity="0.6"/>
<circle cx="175.89" cy="62.83" r="0.5" opacity="0.63"/>
<circle cx="164.92" cy="53.18" r="0.7" opacity="0.56"/>
<circle cx="167.54" cy="38.2" r="0.9" opacity="0.75"/>
<circle cx="186.77" cy="39.62" r="0.9" opacity="0.54"/>
<circle cx="161.84" cy="27.47" r="0.7" opacity="0.77"/>
<circle cx="182.49" cy="36.23" r="0.8" opacity="0.63"/>
<circle cx="176.23" cy="68.82" r="1.15" opacity="0.9"/>
<circle cx="170.97" cy="48.58" r="0.8" opacity="0.43"/>
<circle cx="158.81" cy="50.88" r="0.5" opacity="0.62"/>
<circle cx="186.13" cy="40.58" r="0.8" opacity="0.59"/>
<circle cx="171.16" cy="70.63" r="0.5" opacity="0.69"/>
<circle cx="178" cy="49.9" r="0.45" opacity="0.47"/>
<circle cx="175.07" cy="49.04" r="0.45" opacity="0.41"/>
<circle cx="164.26" cy="45.14" r="0.9" opacity="0.81"/>
<circle cx="197.22" cy="44.98" r="0.5" opacity="0.65"/>
<circle cx="159.37" cy="28.34" r="0.8" opacity="0.54"/>
<circle cx="192.3" cy="53.64" r="0.5" opacity="0.62"/>
<circle cx="168.05" cy="47.66" r="0.6" opacity="0.64"/>
<circle cx="179.24" cy="51.62" r="0.8" opacity="0.62"/>
<circle cx="185.36" cy="45.17" r="0.5" opacity="0.43"/>
<circle cx="188.03" cy="38.36" r="0.45" opacity="0.56"/>
<circle cx="181.72" cy="25.88" r="0.9" opacity="0.72"/>
<circle cx="159.43" cy="38.45" r="1" opacity="0.88"/>
<circle cx="165.2" cy="44.99" r="0.7" opacity="0.69"/>
<circle cx="177.69" cy="50.61" r="1" opacity="0.54"/>
<circle cx="183.38" cy="49.76" r="0.7" opacity="0.69"/>
<circle cx="179.34" cy="52.71" r="0.9" opacity="0.71"/>
<circle cx="187.59" cy="31.9" r="0.45" opacity="0.76"/>
<circle cx="181.63" cy="47.84" r="0.7" opacity="0.49"/>
<circle cx="164.84" cy="48.54" r="1" opacity="0.82"/>
<circle cx="188.51" cy="38.68" r="0.7" opacity="0.59"/>
<circle cx="168.41" cy="30.47" r="0.8" opacity="0.57"/>
<circle cx="185.72" cy="44.57" r="0.7" opacity="0.51"/>
<circle cx="178.07" cy="34.2" r="0.7" opacity="0.51"/>
<circle cx="180.51" cy="30.37" r="1" opacity="0.7"/>
<circle cx="156.75" cy="37.3" r="0.9" opacity="0.43"/>
<circle cx="194.28" cy="47.66" r="0.6" opacity="0.53"/>
<circle cx="184.71" cy="32.9" r="1.15" opacity="0.57"/>
<circle cx="173.57" cy="30.53" r="1" opacity="0.57"/>
<circle cx="179.09" cy="26.62" r="0.6" opacity="0.83"/>
</g>
<circle cx="60.5" cy="105" r="27.5" fill="url(#pg4)"/>
<g fill="#3a1c52">
<circle cx="38.67" cy="99.28" r="0.7" opacity="0.54"/>
<circle cx="47.67" cy="106.96" r="0.5" opacity="0.6"/>
<circle cx="48.22" cy="87" r="0.6" opacity="0.62"/>
<circle cx="47.95" cy="86.57" r="0.9" opacity="0.78"/>
<circle cx="45.54" cy="104.2" r="0.8" opacity="0.58"/>
<circle cx="63.12" cy="94.01" r="0.9" opacity="0.76"/>
<circle cx="79.64" cy="105.46" r="1.1" opacity="0.69"/>
<circle cx="57.83" cy="90.33" r="0.9" opacity="0.87"/>
<circle cx="59.39" cy="109.66" r="0.9" opacity="0.73"/>
<circle cx="71.55" cy="85.48" r="0.8" opacity="0.53"/>
<circle cx="67.93" cy="101.76" r="0.7" opacity="0.66"/>
<circle cx="50.64" cy="108.22" r="1" opacity="0.55"/>
<circle cx="53.24" cy="114.96" r="0.8" opacity="0.55"/>
<circle cx="70.14" cy="95.49" r="1" opacity="0.63"/>
<circle cx="75.64" cy="100.07" r="0.6" opacity="0.63"/>
<circle cx="57.43" cy="85" r="1.1" opacity="0.77"/>
<circle cx="47.32" cy="106.26" r="1.25" opacity="0.58"/>
<circle cx="52.95" cy="93.47" r="0.6" opacity="0.7"/>
<circle cx="51.4" cy="102.47" r="0.7" opacity="0.77"/>
<circle cx="65.05" cy="95.18" r="0.5" opacity="0.56"/>
<circle cx="75.56" cy="100.01" r="0.8" opacity="0.71"/>
<circle cx="55.58" cy="79.53" r="1.1" opacity="0.7"/>
<circle cx="56.53" cy="89.36" r="0.8" opacity="0.51"/>
<circle cx="46.33" cy="88.94" r="0.8" opacity="0.69"/>
<circle cx="50.88" cy="126.51" r="1" opacity="0.75"/>
<circle cx="55.16" cy="127.05" r="0.5" opacity="0.72"/>
<circle cx="54.72" cy="116.14" r="0.7" opacity="0.65"/>
<circle cx="76.97" cy="112.84" r="1.1" opacity="0.74"/>
<circle cx="70.73" cy="92.26" r="1.1" opacity="0.93"/>
<circle cx="65.82" cy="106.1" r="0.8" opacity="0.52"/>
<circle cx="64.31" cy="118.56" r="1.1" opacity="0.6"/>
<circle cx="52.79" cy="107.69" r="0.9" opacity="0.55"/>
<circle cx="76.06" cy="125.78" r="0.5" opacity="0.9"/>
<circle cx="69.93" cy="95.69" r="1.25" opacity="0.91"/>
<circle cx="37.34" cy="115.75" r="0.6" opacity="0.72"/>
<circle cx="66.45" cy="85.13" r="1" opacity="0.54"/>
<circle cx="82.78" cy="93.83" r="1" opacity="0.87"/>
<circle cx="46.81" cy="106.91" r="0.9" opacity="0.67"/>
<circle cx="80.05" cy="99.5" r="0.6" opacity="0.55"/>
<circle cx="81.69" cy="105.69" r="1.1" opacity="0.69"/>
<circle cx="57.43" cy="112.07" r="0.8" opacity="0.79"/>
<circle cx="59.33" cy="84" r="0.7" opacity="0.67"/>
<circle cx="50.69" cy="104.47" r="1" opacity="0.62"/>
<circle cx="66.05" cy="106.45" r="0.8" opacity="0.69"/>
<circle cx="45.61" cy="87.42" r="0.5" opacity="0.8"/>
<circle cx="50.23" cy="127.7" r="1.25" opacity="0.85"/>
<circle cx="84.52" cy="105.37" r="1.25" opacity="0.78"/>
<circle cx="40.74" cy="119.91" r="1" opacity="0.94"/>
<circle cx="56.84" cy="110.81" r="0.7" opacity="0.63"/>
<circle cx="43.86" cy="121.16" r="0.6" opacity="0.53"/>
<circle cx="82.74" cy="95.63" r="1" opacity="0.65"/>
<circle cx="78.64" cy="121.56" r="0.6" opacity="0.57"/>
<circle cx="60.24" cy="109.06" r="0.6" opacity="0.84"/>
<circle cx="39.43" cy="113.34" r="0.8" opacity="0.78"/>
<circle cx="49.66" cy="128.53" r="1.1" opacity="0.9"/>
<circle cx="59.94" cy="89.66" r="1" opacity="0.6"/>
<circle cx="55.01" cy="99.54" r="1" opacity="0.63"/>
<circle cx="71.13" cy="111.31" r="1" opacity="0.68"/>
<circle cx="34.54" cy="105.62" r="1.25" opacity="0.94"/>
<circle cx="83.6" cy="110.71" r="0.9" opacity="0.91"/>
<circle cx="59.59" cy="112.7" r="1.25" opacity="0.9"/>
<circle cx="41.18" cy="90.61" r="0.9" opacity="0.56"/>
<circle cx="46.18" cy="111.26" r="0.9" opacity="0.51"/>
<circle cx="74.32" cy="88.8" r="1" opacity="0.54"/>
<circle cx="81.33" cy="112.88" r="0.7" opacity="0.83"/>
<circle cx="63.8" cy="115.66" r="0.7" opacity="0.73"/>
<circle cx="55.54" cy="104.06" r="0.6" opacity="0.67"/>
<circle cx="57.09" cy="104.83" r="0.9" opacity="0.89"/>
<circle cx="54.27" cy="100.77" r="0.5" opacity="0.63"/>
<circle cx="49.72" cy="120.92" r="0.6" opacity="0.57"/>
<circle cx="78.29" cy="90.26" r="0.5" opacity="0.71"/>
<circle cx="43.18" cy="122.9" r="1.1" opacity="0.65"/>
<circle cx="48.52" cy="107.5" r="1.25" opacity="0.78"/>
<circle cx="49.78" cy="113.08" r="1.1" opacity="0.77"/>
<circle cx="49.14" cy="105.66" r="0.9" opacity="0.85"/>
<circle cx="78.86" cy="121.9" r="0.6" opacity="0.9"/>
<circle cx="81.58" cy="113.71" r="0.5" opacity="0.77"/>
<circle cx="50.53" cy="103.28" r="0.8" opacity="0.52"/>
<circle cx="51.5" cy="110.59" r="0.7" opacity="0.81"/>
<circle cx="62.2" cy="106.96" r="0.5" opacity="0.53"/>
<circle cx="44.72" cy="91.21" r="1" opacity="0.87"/>
<circle cx="54.37" cy="110.76" r="0.5" opacity="0.58"/>
<circle cx="36.52" cy="105.58" r="0.9" opacity="0.75"/>
<circle cx="44.42" cy="116.19" r="1" opacity="0.58"/>
<circle cx="61.67" cy="101.77" r="0.9" opacity="0.65"/>
<circle cx="74.27" cy="89.06" r="0.9" opacity="0.73"/>
<circle cx="51.61" cy="111.38" r="0.7" opacity="0.78"/>
<circle cx="44.89" cy="112.82" r="0.6" opacity="0.79"/>
<circle cx="48.64" cy="106.81" r="0.6" opacity="0.61"/>
<circle cx="64.2" cy="113.84" r="0.6" opacity="0.8"/>
<circle cx="82.45" cy="118.58" r="0.7" opacity="0.8"/>
<circle cx="65.65" cy="112.23" r="1" opacity="0.94"/>
<circle cx="52.06" cy="106.69" r="0.5" opacity="0.93"/>
<circle cx="71.74" cy="114.24" r="1.25" opacity="0.55"/>
<circle cx="40.58" cy="103.83" r="1.25" opacity="0.74"/>
<circle cx="73.9" cy="123.61" r="0.5" opacity="0.58"/>
<circle cx="49.32" cy="97.5" r="0.8" opacity="0.92"/>
<circle cx="54.1" cy="106.96" r="0.6" opacity="0.92"/>
<circle cx="54.61" cy="85.18" r="1.1" opacity="0.78"/>
<circle cx="44.63" cy="95.68" r="0.5" opacity="0.9"/>
<circle cx="66.83" cy="110.51" r="0.5" opacity="0.83"/>
<circle cx="42.89" cy="110.86" r="0.7" opacity="0.78"/>
<circle cx="48.83" cy="106.15" r="1" opacity="0.74"/>
<circle cx="69.26" cy="108.99" r="1" opacity="0.62"/>
<circle cx="62.57" cy="107.42" r="1" opacity="0.76"/>
<circle cx="60.19" cy="123.08" r="0.6" opacity="0.9"/>
<circle cx="65.83" cy="80.33" r="1" opacity="0.89"/>
<circle cx="61" cy="105.41" r="0.7" opacity="0.74"/>
<circle cx="36.15" cy="103.65" r="0.9" opacity="0.59"/>
<circle cx="48.54" cy="115.5" r="0.5" opacity="0.9"/>
<circle cx="49.95" cy="108.68" r="1.1" opacity="0.86"/>
<circle cx="54.61" cy="113.89" r="0.8" opacity="0.87"/>
<circle cx="61.47" cy="100.82" r="0.6" opacity="0.74"/>
<circle cx="42.27" cy="88.5" r="0.5" opacity="0.81"/>
<circle cx="49.27" cy="108.87" r="0.6" opacity="0.93"/>
<circle cx="61.25" cy="114.08" r="0.7" opacity="0.76"/>
<circle cx="50.67" cy="106.78" r="0.5" opacity="0.57"/>
<circle cx="62.99" cy="100.87" r="0.9" opacity="0.77"/>
<circle cx="41.39" cy="97.44" r="1.25" opacity="0.61"/>
<circle cx="42.38" cy="104.04" r="0.5" opacity="0.76"/>
<circle cx="51.3" cy="94.22" r="1" opacity="0.93"/>
<circle cx="71.82" cy="106.84" r="0.9" opacity="0.62"/>
<circle cx="82.35" cy="112.56" r="0.8" opacity="0.58"/>
<circle cx="53.42" cy="107.97" r="0.5" opacity="0.52"/>
<circle cx="81.19" cy="115.1" r="0.7" opacity="0.6"/>
<circle cx="57.28" cy="117.77" r="0.9" opacity="0.73"/>
<circle cx="54.58" cy="86.52" r="0.5" opacity="0.75"/>
<circle cx="51.87" cy="96.72" r="0.7" opacity="0.5"/>
<circle cx="74.76" cy="109" r="1.25" opacity="0.66"/>
<circle cx="63.4" cy="82.52" r="0.7" opacity="0.54"/>
<circle cx="39.94" cy="102.61" r="1" opacity="0.84"/>
<circle cx="50.47" cy="114.32" r="1.1" opacity="0.9"/>
<circle cx="76.9" cy="96.24" r="1.1" opacity="0.94"/>
<circle cx="72.09" cy="101.43" r="1" opacity="0.9"/>
<circle cx="67.2" cy="128.34" r="0.9" opacity="0.56"/>
<circle cx="61.6" cy="120.21" r="0.8" opacity="0.78"/>
<circle cx="45.73" cy="105.99" r="1.1" opacity="0.7"/>
<circle cx="69.64" cy="104.7" r="0.5" opacity="0.88"/>
<circle cx="52.67" cy="126.03" r="0.9" opacity="0.59"/>
<circle cx="41.4" cy="107.27" r="1.25" opacity="0.85"/>
<circle cx="52.13" cy="105.46" r="0.5" opacity="0.83"/>
<circle cx="46.99" cy="111.69" r="0.7" opacity="0.9"/>
<circle cx="79.52" cy="102.77" r="0.9" opacity="0.56"/>
<circle cx="52.55" cy="111.74" r="1" opacity="0.87"/>
<circle cx="64.59" cy="92.56" r="0.5" opacity="0.8"/>
<circle cx="58.88" cy="112.33" r="0.8" opacity="0.6"/>
<circle cx="36.47" cy="111.27" r="0.7" opacity="0.59"/>
<circle cx="61.23" cy="87.98" r="0.5" opacity="0.73"/>
<circle cx="47.59" cy="99.82" r="0.7" opacity="0.82"/>
<circle cx="51.61" cy="112.42" r="0.6" opacity="0.78"/>
<circle cx="51.58" cy="106.71" r="1.1" opacity="0.67"/>
<circle cx="74.71" cy="116.95" r="0.6" opacity="0.88"/>
<circle cx="78.32" cy="116.21" r="1.1" opacity="0.73"/>
<circle cx="71.38" cy="86.9" r="0.5" opacity="0.58"/>
<circle cx="80.54" cy="106.47" r="1.25" opacity="0.66"/>
<circle cx="46.59" cy="112.71" r="0.9" opacity="0.76"/>
<circle cx="70.93" cy="95.76" r="0.9" opacity="0.85"/>
<circle cx="39.56" cy="105.73" r="0.8" opacity="0.92"/>
<circle cx="71.06" cy="98.97" r="0.7" opacity="0.79"/>
<circle cx="36.92" cy="94.34" r="0.6" opacity="0.73"/>
<circle cx="43.82" cy="119.34" r="0.6" opacity="0.87"/>
<circle cx="47.84" cy="127.61" r="0.5" opacity="0.55"/>
<circle cx="77.48" cy="117.98" r="1" opacity="0.93"/>
<circle cx="79.72" cy="104.48" r="0.8" opacity="0.57"/>
<circle cx="73.08" cy="103.09" r="1" opacity="0.56"/>
<circle cx="47.63" cy="111.71" r="1.25" opacity="0.66"/>
<circle cx="47.75" cy="108.83" r="0.7" opacity="0.55"/>
<circle cx="60.7" cy="104.39" r="1.25" opacity="0.54"/>
<circle cx="63" cy="110.59" r="0.5" opacity="0.57"/>
<circle cx="42.68" cy="98.62" r="0.7" opacity="0.51"/>
<circle cx="46.33" cy="106.8" r="0.8" opacity="0.71"/>
<circle cx="49.57" cy="92.46" r="1.1" opacity="0.59"/>
<circle cx="73.51" cy="108.99" r="0.8" opacity="0.84"/>
<circle cx="62.2" cy="95.87" r="0.5" opacity="0.56"/>
<circle cx="51.29" cy="103.73" r="1" opacity="0.61"/>
<circle cx="40.6" cy="99.89" r="0.9" opacity="0.85"/>
<circle cx="84.02" cy="101.95" r="1" opacity="0.67"/>
<circle cx="76.73" cy="87.43" r="0.9" opacity="0.78"/>
<circle cx="48.4" cy="118.44" r="0.5" opacity="0.69"/>
<circle cx="42.17" cy="123.23" r="0.5" opacity="0.55"/>
<circle cx="57.84" cy="129.69" r="0.6" opacity="0.79"/>
<circle cx="73.39" cy="116.9" r="1.25" opacity="0.58"/>
<circle cx="49.71" cy="110.67" r="1.1" opacity="0.65"/>
<circle cx="66.05" cy="100.01" r="0.6" opacity="0.94"/>
<circle cx="58.73" cy="112.17" r="0.7" opacity="0.8"/>
<circle cx="70.29" cy="81.37" r="0.8" opacity="0.63"/>
<circle cx="71.07" cy="127.45" r="1.1" opacity="0.62"/>
<circle cx="61.81" cy="80.88" r="1.25" opacity="0.67"/>
<circle cx="52.09" cy="89.61" r="1" opacity="0.77"/>
<circle cx="84.83" cy="100.68" r="1.25" opacity="0.63"/>
</g>
<circle cx="117.5" cy="105" r="27.5" fill="url(#pg5)"/>
<g fill="#3a1c52">
<circle cx="130.8" cy="121.24" r="0.5" opacity="0.88"/>
<circle cx="112.33" cy="110.99" r="1.1" opacity="0.74"/>
<circle cx="120.88" cy="102.84" r="1.25" opacity="0.56"/>
<circle cx="122.61" cy="102.96" r="0.8" opacity="0.93"/>
<circle cx="122.39" cy="108.1" r="0.8" opacity="0.74"/>
<circle cx="109.87" cy="86.63" r="0.7" opacity="0.62"/>
<circle cx="134.96" cy="109.74" r="1" opacity="0.53"/>
<circle cx="106.83" cy="115.8" r="0.7" opacity="0.72"/>
<circle cx="119.99" cy="97.04" r="0.5" opacity="0.75"/>
<circle cx="110.7" cy="123.77" r="1.25" opacity="0.52"/>
<circle cx="123.5" cy="104.24" r="0.8" opacity="0.92"/>
<circle cx="108.94" cy="97.01" r="0.9" opacity="0.85"/>
<circle cx="119.9" cy="97.63" r="0.9" opacity="0.52"/>
<circle cx="95.01" cy="96.24" r="1" opacity="0.91"/>
<circle cx="140.83" cy="107.48" r="0.9" opacity="0.81"/>
<circle cx="133.93" cy="111.97" r="0.9" opacity="0.95"/>
<circle cx="135.42" cy="108.64" r="1.1" opacity="0.51"/>
<circle cx="108.91" cy="91.26" r="1.1" opacity="0.57"/>
<circle cx="125.11" cy="121.59" r="1" opacity="0.88"/>
<circle cx="118.45" cy="94.98" r="1.1" opacity="0.55"/>
<circle cx="130.12" cy="103.85" r="0.9" opacity="0.71"/>
<circle cx="99.91" cy="104.55" r="1" opacity="0.53"/>
<circle cx="109.56" cy="109.81" r="0.5" opacity="0.84"/>
<circle cx="128.75" cy="92.95" r="1.25" opacity="0.62"/>
<circle cx="132.55" cy="95.42" r="0.9" opacity="0.71"/>
<circle cx="125.61" cy="121.37" r="1" opacity="0.62"/>
<circle cx="141.56" cy="99.97" r="0.7" opacity="0.89"/>
<circle cx="119.11" cy="86.64" r="1" opacity="0.92"/>
<circle cx="128.03" cy="117.08" r="1.1" opacity="0.58"/>
<circle cx="121.95" cy="114.11" r="1.1" opacity="0.64"/>
<circle cx="137.69" cy="92.39" r="0.5" opacity="0.59"/>
<circle cx="124.32" cy="87.44" r="0.7" opacity="0.78"/>
<circle cx="116.12" cy="105.52" r="0.5" opacity="0.9"/>
<circle cx="126.19" cy="104.05" r="0.5" opacity="0.69"/>
<circle cx="126.44" cy="81.46" r="0.8" opacity="0.61"/>
<circle cx="112.55" cy="83.83" r="1" opacity="0.93"/>
<circle cx="106.58" cy="93.74" r="1" opacity="0.93"/>
<circle cx="109.34" cy="84.6" r="1.1" opacity="0.87"/>
<circle cx="110.32" cy="85.32" r="1.1" opacity="0.75"/>
<circle cx="113.04" cy="102.71" r="0.7" opacity="0.65"/>
<circle cx="121.04" cy="101.11" r="0.8" opacity="0.72"/>
<circle cx="128.96" cy="98.61" r="0.7" opacity="0.77"/>
<circle cx="105.75" cy="103.73" r="0.6" opacity="0.8"/>
<circle cx="115.09" cy="107.95" r="0.9" opacity="0.61"/>
<circle cx="92.02" cy="104.46" r="0.7" opacity="0.82"/>
<circle cx="128.94" cy="111.25" r="0.5" opacity="0.71"/>
<circle cx="130.98" cy="109.99" r="0.5" opacity="0.5"/>
<circle cx="127.72" cy="83.42" r="0.8" opacity="0.51"/>
<circle cx="113.53" cy="109.16" r="1.25" opacity="0.89"/>
<circle cx="116.16" cy="115.03" r="0.8" opacity="0.9"/>
<circle cx="131.7" cy="94.2" r="0.5" opacity="0.81"/>
<circle cx="105.75" cy="120.44" r="0.9" opacity="0.56"/>
<circle cx="120.2" cy="104.87" r="1" opacity="0.74"/>
<circle cx="119.78" cy="80.17" r="0.8" opacity="0.62"/>
<circle cx="132.12" cy="108.79" r="1" opacity="0.83"/>
<circle cx="122.12" cy="102.57" r="0.6" opacity="0.82"/>
<circle cx="116.75" cy="113.9" r="0.7" opacity="0.58"/>
<circle cx="120.66" cy="103.54" r="0.8" opacity="0.52"/>
<circle cx="118.46" cy="106.1" r="0.5" opacity="0.76"/>
<circle cx="113.82" cy="108.43" r="0.5" opacity="0.69"/>
<circle cx="123.01" cy="104.43" r="1" opacity="0.91"/>
<circle cx="118.02" cy="110.14" r="0.9" opacity="0.91"/>
<circle cx="124.15" cy="91.98" r="0.8" opacity="0.61"/>
<circle cx="118.43" cy="84.86" r="0.8" opacity="0.89"/>
<circle cx="111.39" cy="84.72" r="0.5" opacity="0.79"/>
<circle cx="118.81" cy="103.43" r="0.6" opacity="0.73"/>
<circle cx="111.44" cy="102.94" r="1" opacity="0.55"/>
<circle cx="119.82" cy="98.65" r="0.7" opacity="0.93"/>
<circle cx="133.69" cy="118.73" r="0.6" opacity="0.94"/>
<circle cx="109.49" cy="90.43" r="1" opacity="0.92"/>
<circle cx="133.78" cy="98.3" r="1" opacity="0.79"/>
<circle cx="113.84" cy="124.34" r="0.5" opacity="0.77"/>
<circle cx="130.71" cy="99.25" r="0.6" opacity="0.52"/>
<circle cx="122.14" cy="109.51" r="1.25" opacity="0.8"/>
<circle cx="113.48" cy="94.03" r="1.1" opacity="0.65"/>
<circle cx="100.54" cy="113.43" r="0.6" opacity="0.67"/>
<circle cx="105.26" cy="86.38" r="0.9" opacity="0.8"/>
<circle cx="124.02" cy="102.7" r="1" opacity="0.64"/>
<circle cx="126.02" cy="105.62" r="0.7" opacity="0.55"/>
<circle cx="106.01" cy="114.6" r="0.7" opacity="0.52"/>
<circle cx="121.61" cy="113.61" r="1.1" opacity="0.91"/>
<circle cx="127.43" cy="87.65" r="1" opacity="0.63"/>
<circle cx="129.49" cy="86.48" r="0.8" opacity="0.58"/>
<circle cx="92.42" cy="110.98" r="0.9" opacity="0.5"/>
<circle cx="121.03" cy="100.83" r="0.5" opacity="0.51"/>
<circle cx="136.05" cy="108.59" r="0.6" opacity="0.82"/>
<circle cx="127.55" cy="112.93" r="1.25" opacity="0.68"/>
<circle cx="119.81" cy="109.22" r="0.9" opacity="0.79"/>
<circle cx="125.23" cy="87.84" r="0.8" opacity="0.54"/>
<circle cx="95.94" cy="107.31" r="0.7" opacity="0.77"/>
<circle cx="116.76" cy="108.93" r="1.1" opacity="0.74"/>
<circle cx="129.21" cy="105.54" r="1.25" opacity="0.9"/>
<circle cx="120.5" cy="85.13" r="1.25" opacity="0.54"/>
<circle cx="135.07" cy="94.71" r="0.7" opacity="0.74"/>
<circle cx="128.34" cy="121.43" r="0.8" opacity="0.62"/>
<circle cx="103.68" cy="116.2" r="0.9" opacity="0.9"/>
<circle cx="125.21" cy="109.93" r="0.5" opacity="0.83"/>
<circle cx="104.72" cy="122.16" r="1.1" opacity="0.75"/>
<circle cx="106.85" cy="85.05" r="1.25" opacity="0.8"/>
<circle cx="113.2" cy="111.39" r="0.5" opacity="0.6"/>
</g>
<circle cx="174.5" cy="105" r="27.5" fill="url(#pg6)"/>
<g fill="#3a1c52">
<circle cx="192.21" cy="104.18" r="0.9" opacity="0.52"/>
<circle cx="167.78" cy="102.47" r="1" opacity="0.64"/>
<circle cx="176.35" cy="108.19" r="1.1" opacity="0.91"/>
<circle cx="152.18" cy="108.49" r="0.9" opacity="0.8"/>
<circle cx="151.85" cy="100.86" r="0.6" opacity="0.66"/>
<circle cx="160.78" cy="115.98" r="0.8" opacity="0.82"/>
<circle cx="192.8" cy="88.15" r="0.5" opacity="0.79"/>
<circle cx="170.63" cy="97.16" r="0.6" opacity="0.54"/>
<circle cx="175.89" cy="83.93" r="0.9" opacity="0.64"/>
<circle cx="177.02" cy="108.23" r="0.8" opacity="0.88"/>
<circle cx="175.72" cy="87.88" r="0.7" opacity="0.51"/>
<circle cx="196.74" cy="111.61" r="0.9" opacity="0.67"/>
<circle cx="162.9" cy="114.83" r="1.25" opacity="0.52"/>
<circle cx="188.05" cy="99.38" r="1.25" opacity="0.61"/>
<circle cx="196.07" cy="114.36" r="1.25" opacity="0.7"/>
<circle cx="190.79" cy="105.92" r="1.25" opacity="0.64"/>
<circle cx="171.82" cy="117.24" r="0.7" opacity="0.51"/>
<circle cx="160.81" cy="121.6" r="0.8" opacity="0.62"/>
<circle cx="195.36" cy="111.17" r="0.9" opacity="0.77"/>
<circle cx="174.06" cy="117.17" r="1.25" opacity="0.64"/>
<circle cx="164.79" cy="113.76" r="1.1" opacity="0.81"/>
<circle cx="174.49" cy="104.59" r="1" opacity="0.66"/>
<circle cx="187.17" cy="106.15" r="1.1" opacity="0.86"/>
<circle cx="175.87" cy="81.67" r="0.8" opacity="0.55"/>
<circle cx="154.97" cy="111.91" r="1" opacity="0.56"/>
<circle cx="172.45" cy="126.98" r="0.5" opacity="0.82"/>
<circle cx="181.14" cy="106.5" r="0.9" opacity="0.91"/>
<circle cx="171.86" cy="115.66" r="0.7" opacity="0.87"/>
<circle cx="185.75" cy="106.1" r="1.25" opacity="0.7"/>
<circle cx="200.14" cy="101.19" r="1" opacity="0.51"/>
<circle cx="183.18" cy="102.62" r="0.5" opacity="0.83"/>
<circle cx="188.32" cy="89" r="1.1" opacity="0.65"/>
<circle cx="179.69" cy="105.98" r="0.7" opacity="0.71"/>
<circle cx="148.68" cy="106.4" r="0.7" opacity="0.58"/>
<circle cx="174.9" cy="124.25" r="0.8" opacity="0.93"/>
<circle cx="186.34" cy="84.42" r="0.7" opacity="0.84"/>
<circle cx="168.27" cy="119.31" r="1.1" opacity="0.74"/>
<circle cx="183.8" cy="103.8" r="0.7" opacity="0.82"/>
<circle cx="191.29" cy="97.97" r="0.7" opacity="0.94"/>
<circle cx="176.18" cy="105.12" r="0.5" opacity="0.51"/>
<circle cx="150.26" cy="113.3" r="0.6" opacity="0.8"/>
<circle cx="189" cy="115.32" r="0.9" opacity="0.54"/>
<circle cx="178.29" cy="107.36" r="1.25" opacity="0.55"/>
<circle cx="181.75" cy="107.86" r="0.5" opacity="0.84"/>
<circle cx="187.12" cy="113.3" r="0.9" opacity="0.62"/>
<circle cx="191.87" cy="113.49" r="0.8" opacity="0.63"/>
<circle cx="171.21" cy="106.87" r="1" opacity="0.85"/>
<circle cx="178.83" cy="107.4" r="1" opacity="0.81"/>
<circle cx="188.96" cy="97.32" r="1" opacity="0.7"/>
<circle cx="180.36" cy="108.12" r="0.9" opacity="0.54"/>
<circle cx="162.03" cy="84.78" r="1.1" opacity="0.75"/>
<circle cx="175.47" cy="123.18" r="0.9" opacity="0.61"/>
<circle cx="181.18" cy="109.77" r="0.5" opacity="0.73"/>
<circle cx="174.8" cy="105.43" r="1.25" opacity="0.6"/>
<circle cx="168.36" cy="119.88" r="1.25" opacity="0.89"/>
<circle cx="165.58" cy="91.35" r="0.7" opacity="0.63"/>
<circle cx="184.32" cy="89.78" r="0.9" opacity="0.58"/>
<circle cx="181.12" cy="90.23" r="0.6" opacity="0.59"/>
<circle cx="181.59" cy="107.43" r="1.25" opacity="0.91"/>
<circle cx="165.08" cy="116.68" r="1.1" opacity="0.89"/>
<circle cx="185.78" cy="111.56" r="0.7" opacity="0.87"/>
<circle cx="190.02" cy="119.6" r="0.6" opacity="0.54"/>
<circle cx="188.52" cy="89.39" r="1" opacity="0.57"/>
<circle cx="172.49" cy="102.08" r="1.25" opacity="0.78"/>
<circle cx="177.88" cy="109.67" r="1" opacity="0.78"/>
<circle cx="168.12" cy="111.81" r="0.6" opacity="0.83"/>
<circle cx="154.81" cy="119.07" r="1" opacity="0.8"/>
<circle cx="184.31" cy="103.91" r="0.6" opacity="0.72"/>
<circle cx="157.92" cy="107.38" r="0.7" opacity="0.7"/>
<circle cx="176.8" cy="96.52" r="0.9" opacity="0.7"/>
<circle cx="183.38" cy="111.71" r="0.5" opacity="0.74"/>
<circle cx="177.63" cy="91.51" r="0.5" opacity="0.64"/>
<circle cx="178.38" cy="87.99" r="0.9" opacity="0.53"/>
<circle cx="185.64" cy="126.01" r="0.8" opacity="0.82"/>
<circle cx="190.1" cy="108.13" r="1" opacity="0.76"/>
<circle cx="173.26" cy="112.66" r="1.25" opacity="0.67"/>
<circle cx="166.75" cy="113.58" r="0.6" opacity="0.94"/>
<circle cx="182.87" cy="106.24" r="1.25" opacity="0.62"/>
<circle cx="200.47" cy="104.03" r="0.9" opacity="0.73"/>
<circle cx="166.86" cy="120.74" r="1" opacity="0.54"/>
<circle cx="169.78" cy="112.85" r="0.9" opacity="0.53"/>
<circle cx="179.01" cy="106.74" r="1.1" opacity="0.74"/>
<circle cx="179.98" cy="108.2" r="0.9" opacity="0.82"/>
<circle cx="169.19" cy="116.21" r="0.6" opacity="0.83"/>
<circle cx="174.26" cy="117.48" r="0.9" opacity="0.61"/>
<circle cx="186.28" cy="109.56" r="1.1" opacity="0.57"/>
<circle cx="182.26" cy="125.01" r="0.5" opacity="0.55"/>
<circle cx="173.88" cy="81.34" r="0.9" opacity="0.84"/>
<circle cx="179.72" cy="126.58" r="1.25" opacity="0.78"/>
<circle cx="164.76" cy="111.31" r="0.8" opacity="0.86"/>
<circle cx="159.16" cy="122.72" r="1.1" opacity="0.6"/>
<circle cx="178.02" cy="113.11" r="0.8" opacity="0.76"/>
<circle cx="176.06" cy="114.83" r="0.9" opacity="0.95"/>
<circle cx="163.68" cy="106.35" r="1" opacity="0.76"/>
<circle cx="177.78" cy="106.01" r="0.9" opacity="0.77"/>
<circle cx="172.65" cy="105.16" r="1.25" opacity="0.86"/>
<circle cx="174.22" cy="109.95" r="0.6" opacity="0.77"/>
<circle cx="182.08" cy="112.69" r="1" opacity="0.95"/>
<circle cx="182.9" cy="112.59" r="1.1" opacity="0.76"/>
<circle cx="175.44" cy="112.91" r="0.9" opacity="0.87"/>
<circle cx="189.98" cy="97.35" r="0.5" opacity="0.78"/>
<circle cx="181.31" cy="108.28" r="0.6" opacity="0.75"/>
<circle cx="198.42" cy="103.38" r="0.8" opacity="0.67"/>
<circle cx="183.06" cy="117.34" r="0.9" opacity="0.69"/>
<circle cx="167.33" cy="97.87" r="0.9" opacity="0.88"/>
<circle cx="170.06" cy="113.33" r="0.5" opacity="0.8"/>
<circle cx="183.72" cy="88.12" r="0.6" opacity="0.73"/>
<circle cx="182.66" cy="115.87" r="0.5" opacity="0.6"/>
<circle cx="178.2" cy="85.76" r="0.5" opacity="0.51"/>
<circle cx="176.18" cy="107.78" r="0.8" opacity="0.83"/>
<circle cx="176.87" cy="118.83" r="1.25" opacity="0.54"/>
<circle cx="179.69" cy="107.17" r="0.7" opacity="0.92"/>
<circle cx="157.97" cy="116.1" r="0.9" opacity="0.69"/>
<circle cx="163.37" cy="118.08" r="1" opacity="0.84"/>
<circle cx="164.32" cy="117.27" r="1.1" opacity="0.69"/>
<circle cx="192.96" cy="120.55" r="0.9" opacity="0.8"/>
<circle cx="174.57" cy="112.12" r="0.5" opacity="0.57"/>
<circle cx="161.04" cy="110.73" r="0.8" opacity="0.75"/>
<circle cx="184.67" cy="104.02" r="1.25" opacity="0.67"/>
<circle cx="154.55" cy="93.45" r="0.5" opacity="0.91"/>
<circle cx="189.94" cy="84.65" r="1" opacity="0.54"/>
<circle cx="158.08" cy="124.61" r="1.1" opacity="0.67"/>
<circle cx="193.89" cy="110.81" r="0.8" opacity="0.63"/>
<circle cx="180.36" cy="96.94" r="0.8" opacity="0.57"/>
<circle cx="181.8" cy="103.68" r="0.6" opacity="0.54"/>
<circle cx="166.69" cy="102.05" r="0.9" opacity="0.73"/>
<circle cx="198" cy="109.45" r="1" opacity="0.9"/>
<circle cx="191.31" cy="107.17" r="0.8" opacity="0.52"/>
<circle cx="168.52" cy="111.44" r="1.25" opacity="0.65"/>
<circle cx="184.75" cy="83.03" r="0.6" opacity="0.54"/>
<circle cx="166.49" cy="108.2" r="0.8" opacity="0.85"/>
<circle cx="173.18" cy="101.95" r="0.5" opacity="0.68"/>
<circle cx="171.33" cy="119.92" r="0.6" opacity="0.59"/>
<circle cx="188.04" cy="108.57" r="1" opacity="0.61"/>
<circle cx="170.55" cy="114.78" r="0.8" opacity="0.65"/>
<circle cx="158.92" cy="123.37" r="1.1" opacity="0.71"/>
<circle cx="158.89" cy="108.65" r="0.9" opacity="0.88"/>
<circle cx="178.21" cy="89.95" r="1" opacity="0.85"/>
<circle cx="194.33" cy="92.6" r="1.1" opacity="0.79"/>
<circle cx="194.95" cy="92.31" r="0.8" opacity="0.66"/>
</g>
<rect x="256" y="54.29" width="9.8" height="61.51" fill="#1c1c1c"/>
<line x1="260.9" y1="54.29" x2="260.9" y2="51.49" stroke="#1a1a1a" stroke-width="1.3"/>
<line x1="258.4" y1="51.49" x2="263.4" y2="51.49" stroke="#1a1a1a" stroke-width="1.4"/>
<rect x="268.2" y="87.84" width="10" height="27.96" fill="#f27474"/>
<line x1="273.2" y1="87.84" x2="273.2" y2="84.34" stroke="#1a1a1a" stroke-width="1.3"/>
<line x1="270.7" y1="84.34" x2="275.7" y2="84.34" stroke="#1a1a1a" stroke-width="1.4"/>
<path d="M269.5,78.31L269.5,81.18M268.26,79.03L270.74,80.46M268.26,80.46L270.74,79.03M273.2,78.31L273.2,81.18M271.96,79.03L274.44,80.46M271.96,80.46L274.44,79.03M276.9,78.31L276.9,81.18M275.66,79.03L278.14,80.46M275.66,80.46L278.14,79.03" stroke="#1e1e1e" stroke-width="1.06" stroke-linecap="round"/>
<rect x="280.7" y="83.65" width="10.1" height="32.15" fill="#878787"/>
<line x1="285.75" y1="83.65" x2="285.75" y2="80.85" stroke="#1a1a1a" stroke-width="1.3"/>
<line x1="283.25" y1="80.85" x2="288.25" y2="80.85" stroke="#1a1a1a" stroke-width="1.4"/>
<path d="M282.05,74.81L282.05,77.69M280.81,75.53L283.29,76.97M280.81,76.97L283.29,75.53M285.75,74.81L285.75,77.69M284.51,75.53L286.99,76.97M284.51,76.97L286.99,75.53M289.45,74.81L289.45,77.69M288.21,75.53L290.69,76.97M288.21,76.97L290.69,75.53" stroke="#1e1e1e" stroke-width="1.06" stroke-linecap="round"/>
<rect x="304" y="68.97" width="9.5" height="46.83" fill="#1c1c1c"/>
<line x1="308.75" y1="68.97" x2="308.75" y2="65.47" stroke="#1a1a1a" stroke-width="1.3"/>
<line x1="306.25" y1="65.47" x2="311.25" y2="65.47" stroke="#1a1a1a" stroke-width="1.4"/>
<rect x="316" y="92.27" width="10" height="23.53" fill="#f27474"/>
<line x1="321" y1="92.27" x2="321" y2="89.24" stroke="#1a1a1a" stroke-width="1.3"/>
<line x1="318.5" y1="89.24" x2="323.5" y2="89.24" stroke="#1a1a1a" stroke-width="1.4"/>
<path d="M319.15,83.2L319.15,86.08M317.91,83.92L320.39,85.36M317.91,85.36L320.39,83.92M322.85,83.2L322.85,86.08M321.61,83.92L324.09,85.36M321.61,85.36L324.09,83.92" stroke="#1e1e1e" stroke-width="1.06" stroke-linecap="round"/>
<rect x="329" y="83.65" width="10" height="32.15" fill="#878787"/>
<line x1="334" y1="83.65" x2="334" y2="80.62" stroke="#1a1a1a" stroke-width="1.3"/>
<line x1="331.5" y1="80.62" x2="336.5" y2="80.62" stroke="#1a1a1a" stroke-width="1.4"/>
<path d="M332.15,74.58L332.15,77.45M330.91,75.3L333.39,76.74M330.91,76.74L333.39,75.3M335.85,74.58L335.85,77.45M334.61,75.3L337.09,76.74M334.61,76.74L337.09,75.3" stroke="#1e1e1e" stroke-width="1.06" stroke-linecap="round"/>
<line x1="250.2" y1="45.3" x2="250.2" y2="116.4" stroke="#1a1a1a" stroke-width="1.3"/>
<line x1="249.6" y1="115.8" x2="344.3" y2="115.8" stroke="#1a1a1a" stroke-width="1.3"/>
<line x1="245.5" y1="115.8" x2="250.2" y2="115.8" stroke="#1a1a1a" stroke-width="1.3"/>
<text x="244" y="119.4" font-size="10.2" text-anchor="end" fill="#1e1e1e">0</text>
<line x1="245.5" y1="92.5" x2="250.2" y2="92.5" stroke="#1a1a1a" stroke-width="1.3"/>
<text x="244" y="96.1" font-size="10.2" text-anchor="end" fill="#1e1e1e">100</text>
<line x1="245.5" y1="69.2" x2="250.2" y2="69.2" stroke="#1a1a1a" stroke-width="1.3"/>
<text x="244" y="72.8" font-size="10.2" text-anchor="end" fill="#1e1e1e">200</text>
<line x1="245.5" y1="45.9" x2="250.2" y2="45.9" stroke="#1a1a1a" stroke-width="1.3"/>
<text x="244" y="49.5" font-size="10.2" text-anchor="end" fill="#1e1e1e">300</text>
<line x1="273" y1="115.8" x2="273" y2="120.8" stroke="#1a1a1a" stroke-width="1.3"/>
<text x="273" y="130.8" font-size="10.2" text-anchor="middle" fill="#1e1e1e">N3</text>
<line x1="321" y1="115.8" x2="321" y2="120.8" stroke="#1a1a1a" stroke-width="1.3"/>
<text x="321" y="130.8" font-size="10.2" text-anchor="middle" fill="#1e1e1e">U87</text>
<text x="221.6" y="80.85" font-size="10.2" text-anchor="middle" fill="#1e1e1e" transform="rotate(-90 221.6 80.85)">Colony number</text>
<rect x="250.4" y="10.4" width="13" height="5.8" fill="#1c1c1c"/>
<text x="270.5" y="16.4" font-size="10" text-anchor="start" fill="#1e1e1e">si-ctrl</text>
<rect x="250.4" y="20.3" width="13" height="5.7" fill="#f27474"/>
<text x="270.5" y="26.2" font-size="10" text-anchor="start" fill="#1e1e1e">si-LIF#1</text>
<rect x="250.4" y="30.2" width="13" height="5.6" fill="#878787"/>
<text x="270.5" y="36" font-size="10" text-anchor="start" fill="#1e1e1e">si-LIF#2</text>
<text x="404.8" y="17" font-size="15.8" text-anchor="start" fill="#1e1e1e">B</text>
<line x1="447.5" y1="28.4" x2="447.5" y2="124.6" stroke="#1a1a1a" stroke-width="1.3"/>
<line x1="446.9" y1="124" x2="566" y2="124" stroke="#1a1a1a" stroke-width="1.3"/>
<line x1="442.8" y1="124" x2="447.5" y2="124" stroke="#1a1a1a" stroke-width="1.3"/>
<text x="441.1" y="127.6" font-size="10.2" text-anchor="end" fill="#1e1e1e">0</text>
<line x1="442.8" y1="100.25" x2="447.5" y2="100.25" stroke="#1a1a1a" stroke-width="1.3"/>
<text x="441.1" y="103.85" font-size="10.2" text-anchor="end" fill="#1e1e1e">1</text>
<line x1="442.8" y1="76.5" x2="447.5" y2="76.5" stroke="#1a1a1a" stroke-width="1.3"/>
<text x="441.1" y="80.1" font-size="10.2" text-anchor="end" fill="#1e1e1e">2</text>
<line x1="442.8" y1="52.75" x2="447.5" y2="52.75" stroke="#1a1a1a" stroke-width="1.3"/>
<text x="441.1" y="56.35" font-size="10.2" text-anchor="end" fill="#1e1e1e">3</text>
<line x1="442.8" y1="29" x2="447.5" y2="29" stroke="#1a1a1a" stroke-width="1.3"/>
<text x="441.1" y="32.6" font-size="10.2" text-anchor="end" fill="#1e1e1e">4</text>
<line x1="447.5" y1="124" x2="447.5" y2="128.7" stroke="#1a1a1a" stroke-width="1.3"/>
<text x="447.5" y="139.6" font-size="10.2" text-anchor="middle" fill="#1e1e1e">0</text>
<line x1="471.25" y1="124" x2="471.25" y2="128.7" stroke="#1a1a1a" stroke-width="1.3"/>
<text x="471.25" y="139.6" font-size="10.2" text-anchor="middle" fill="#1e1e1e">1</text>
<line x1="495" y1="124" x2="495" y2="128.7" stroke="#1a1a1a" stroke-width="1.3"/>
<text x="495" y="139.6" font-size="10.2" text-anchor="middle" fill="#1e1e1e">2</text>
<line x1="518.75" y1="124" x2="518.75" y2="128.7" stroke="#1a1a1a" stroke-width="1.3"/>
<text x="518.75" y="139.6" font-size="10.2" text-anchor="middle" fill="#1e1e1e">3</text>
<line x1="542.5" y1="124" x2="542.5" y2="128.7" stroke="#1a1a1a" stroke-width="1.3"/>
<text x="542.5" y="139.6" font-size="10.2" text-anchor="middle" fill="#1e1e1e">4</text>
<line x1="566.25" y1="124" x2="566.25" y2="128.7" stroke="#1a1a1a" stroke-width="1.3"/>
<text x="563.35" y="139.6" font-size="10.2" text-anchor="start" fill="#1e1e1e">5 (days)</text>
<text x="507" y="154.6" font-size="10.2" text-anchor="middle" fill="#1e1e1e">N3</text>
<text x="430.8" y="148.8" font-size="10" text-anchor="start" fill="#1e1e1e" transform="rotate(-90 430.8 148.8)">Relative absorbance (OD450nm)</text>
<polyline points="447.5,115.69 471.25,109.99 495,97.4 518.75,76.26 542.5,55.12" fill="none" stroke="#111111" stroke-width="1.5"/>
<line x1="447.5" y1="116.4" x2="447.5" y2="114.97" stroke="#111111" stroke-width="1.2"/>
<line x1="445.1" y1="114.97" x2="449.9" y2="114.97" stroke="#111111" stroke-width="1.2"/>
<line x1="445.1" y1="116.4" x2="449.9" y2="116.4" stroke="#111111" stroke-width="1.2"/>
<circle cx="447.5" cy="115.69" r="2" fill="#111111"/>
<line x1="471.25" y1="110.7" x2="471.25" y2="109.28" stroke="#111111" stroke-width="1.2"/>
<line x1="468.85" y1="109.28" x2="473.65" y2="109.28" stroke="#111111" stroke-width="1.2"/>
<line x1="468.85" y1="110.7" x2="473.65" y2="110.7" stroke="#111111" stroke-width="1.2"/>
<circle cx="471.25" cy="109.99" r="2" fill="#111111"/>
<line x1="495" y1="99.06" x2="495" y2="95.74" stroke="#111111" stroke-width="1.2"/>
<line x1="492.6" y1="95.74" x2="497.4" y2="95.74" stroke="#111111" stroke-width="1.2"/>
<line x1="492.6" y1="99.06" x2="497.4" y2="99.06" stroke="#111111" stroke-width="1.2"/>
<circle cx="495" cy="97.4" r="2" fill="#111111"/>
<line x1="518.75" y1="80.54" x2="518.75" y2="71.99" stroke="#111111" stroke-width="1.2"/>
<line x1="516.35" y1="71.99" x2="521.15" y2="71.99" stroke="#111111" stroke-width="1.2"/>
<line x1="516.35" y1="80.54" x2="521.15" y2="80.54" stroke="#111111" stroke-width="1.2"/>
<circle cx="518.75" cy="76.26" r="2" fill="#111111"/>
<line x1="542.5" y1="62.49" x2="542.5" y2="47.76" stroke="#111111" stroke-width="1.2"/>
<line x1="540.1" y1="47.76" x2="544.9" y2="47.76" stroke="#111111" stroke-width="1.2"/>
<line x1="540.1" y1="62.49" x2="544.9" y2="62.49" stroke="#111111" stroke-width="1.2"/>
<circle cx="542.5" cy="55.12" r="2" fill="#111111"/>
<polyline points="447.5,116.88 471.25,113.08 495,101.2 518.75,83.86 542.5,66.53" fill="none" stroke="#2a5aa8" stroke-width="1.5"/>
<line x1="447.5" y1="117.35" x2="447.5" y2="116.4" stroke="#2a5aa8" stroke-width="1.2"/>
<line x1="445.1" y1="116.4" x2="449.9" y2="116.4" stroke="#2a5aa8" stroke-width="1.2"/>
<line x1="445.1" y1="117.35" x2="449.9" y2="117.35" stroke="#2a5aa8" stroke-width="1.2"/>
<circle cx="447.5" cy="116.88" r="2" fill="#2a5aa8"/>
<line x1="471.25" y1="113.79" x2="471.25" y2="112.36" stroke="#2a5aa8" stroke-width="1.2"/>
<line x1="468.85" y1="112.36" x2="473.65" y2="112.36" stroke="#2a5aa8" stroke-width="1.2"/>
<line x1="468.85" y1="113.79" x2="473.65" y2="113.79" stroke="#2a5aa8" stroke-width="1.2"/>
<circle cx="471.25" cy="113.08" r="2" fill="#2a5aa8"/>
<line x1="495" y1="102.39" x2="495" y2="100.01" stroke="#2a5aa8" stroke-width="1.2"/>
<line x1="492.6" y1="100.01" x2="497.4" y2="100.01" stroke="#2a5aa8" stroke-width="1.2"/>
<line x1="492.6" y1="102.39" x2="497.4" y2="102.39" stroke="#2a5aa8" stroke-width="1.2"/>
<circle cx="495" cy="101.2" r="2" fill="#2a5aa8"/>
<line x1="518.75" y1="86" x2="518.75" y2="81.72" stroke="#2a5aa8" stroke-width="1.2"/>
<line x1="516.35" y1="81.72" x2="521.15" y2="81.72" stroke="#2a5aa8" stroke-width="1.2"/>
<line x1="516.35" y1="86" x2="521.15" y2="86" stroke="#2a5aa8" stroke-width="1.2"/>
<circle cx="518.75" cy="83.86" r="2" fill="#2a5aa8"/>
<line x1="542.5" y1="70.8" x2="542.5" y2="62.25" stroke="#2a5aa8" stroke-width="1.2"/>
<line x1="540.1" y1="62.25" x2="544.9" y2="62.25" stroke="#2a5aa8" stroke-width="1.2"/>
<line x1="540.1" y1="70.8" x2="544.9" y2="70.8" stroke="#2a5aa8" stroke-width="1.2"/>
<circle cx="542.5" cy="66.53" r="2" fill="#2a5aa8"/>
<polyline points="447.5,117.59 471.25,113.79 495,105.71 518.75,91.22 542.5,76.26" fill="none" stroke="#e0454a" stroke-width="1.5"/>
<line x1="447.5" y1="118.06" x2="447.5" y2="117.11" stroke="#e0454a" stroke-width="1.2"/>
<line x1="445.1" y1="117.11" x2="449.9" y2="117.11" stroke="#e0454a" stroke-width="1.2"/>
<line x1="445.1" y1="118.06" x2="449.9" y2="118.06" stroke="#e0454a" stroke-width="1.2"/>
<circle cx="447.5" cy="117.59" r="2" fill="#e0454a"/>
<line x1="471.25" y1="114.5" x2="471.25" y2="113.08" stroke="#e0454a" stroke-width="1.2"/>
<line x1="468.85" y1="113.08" x2="473.65" y2="113.08" stroke="#e0454a" stroke-width="1.2"/>
<line x1="468.85" y1="114.5" x2="473.65" y2="114.5" stroke="#e0454a" stroke-width="1.2"/>
<circle cx="471.25" cy="113.79" r="2" fill="#e0454a"/>
<line x1="495" y1="106.9" x2="495" y2="104.53" stroke="#e0454a" stroke-width="1.2"/>
<line x1="492.6" y1="104.53" x2="497.4" y2="104.53" stroke="#e0454a" stroke-width="1.2"/>
<line x1="492.6" y1="106.9" x2="497.4" y2="106.9" stroke="#e0454a" stroke-width="1.2"/>
<circle cx="495" cy="105.71" r="2" fill="#e0454a"/>
<line x1="518.75" y1="92.89" x2="518.75" y2="89.56" stroke="#e0454a" stroke-width="1.2"/>
<line x1="516.35" y1="89.56" x2="521.15" y2="89.56" stroke="#e0454a" stroke-width="1.2"/>
<line x1="516.35" y1="92.89" x2="521.15" y2="92.89" stroke="#e0454a" stroke-width="1.2"/>
<circle cx="518.75" cy="91.22" r="2" fill="#e0454a"/>
<line x1="542.5" y1="80.54" x2="542.5" y2="71.99" stroke="#e0454a" stroke-width="1.2"/>
<line x1="540.1" y1="71.99" x2="544.9" y2="71.99" stroke="#e0454a" stroke-width="1.2"/>
<line x1="540.1" y1="80.54" x2="544.9" y2="80.54" stroke="#e0454a" stroke-width="1.2"/>
<circle cx="542.5" cy="76.26" r="2" fill="#e0454a"/>
<polyline points="546.4,55.12 549.4,55.12 549.4,66.29 546.4,66.29" fill="none" stroke="#1a1a1a" stroke-width="1.1"/>
<path d="M552.8,59.57L552.8,62.44M551.56,60.29L554.04,61.72M551.56,61.72L554.04,60.29M556.8,59.57L556.8,62.44M555.56,60.29L558.04,61.72M555.56,61.72L558.04,60.29" stroke="#1e1e1e" stroke-width="1.06" stroke-linecap="round"/>
<polyline points="560.4,55.12 563.4,55.12 563.4,75.79 560.4,75.79" fill="none" stroke="#1a1a1a" stroke-width="1.1"/>
<path d="M566.8,64.32L566.8,67.19M565.56,65.04L568.04,66.47M565.56,66.47L568.04,65.04M570.8,64.32L570.8,67.19M569.56,65.04L572.04,66.47M569.56,66.47L572.04,65.04M574.8,64.32L574.8,67.19M573.56,65.04L576.04,66.47M573.56,66.47L576.04,65.04" stroke="#1e1e1e" stroke-width="1.06" stroke-linecap="round"/>
<line x1="452.3" y1="7.6" x2="465" y2="7.6" stroke="#111111" stroke-width="1.5"/>
<circle cx="458.65" cy="7.6" r="2" fill="#111111"/>
<text x="472.5" y="11.1" font-size="9.8" text-anchor="start" fill="#1e1e1e">si-ctrl</text>
<line x1="452.3" y1="18" x2="465" y2="18" stroke="#e0454a" stroke-width="1.5"/>
<circle cx="458.65" cy="18" r="2" fill="#e0454a"/>
<text x="472.5" y="21.5" font-size="9.8" text-anchor="start" fill="#1e1e1e">si-LIF#1</text>
<line x1="452.3" y1="28.1" x2="465" y2="28.1" stroke="#2a5aa8" stroke-width="1.5"/>
<circle cx="458.65" cy="28.1" r="2" fill="#2a5aa8"/>
<text x="472.5" y="31.6" font-size="9.8" text-anchor="start" fill="#1e1e1e">si-LIF#2</text>
<line x1="645.6" y1="28.3" x2="645.6" y2="124" stroke="#1a1a1a" stroke-width="1.3"/>
<line x1="645" y1="123.4" x2="764" y2="123.4" stroke="#1a1a1a" stroke-width="1.3"/>
<line x1="640.9" y1="123.4" x2="645.6" y2="123.4" stroke="#1a1a1a" stroke-width="1.3"/>
<text x="639.2" y="127" font-size="10.2" text-anchor="end" fill="#1e1e1e">0</text>
<line x1="640.9" y1="91.9" x2="645.6" y2="91.9" stroke="#1a1a1a" stroke-width="1.3"/>
<text x="639.2" y="95.5" font-size="10.2" text-anchor="end" fill="#1e1e1e">1</text>
<line x1="640.9" y1="60.4" x2="645.6" y2="60.4" stroke="#1a1a1a" stroke-width="1.3"/>
<text x="639.2" y="64" font-size="10.2" text-anchor="end" fill="#1e1e1e">2</text>
<line x1="640.9" y1="28.9" x2="645.6" y2="28.9" stroke="#1a1a1a" stroke-width="1.3"/>
<text x="639.2" y="32.5" font-size="10.2" text-anchor="end" fill="#1e1e1e">3</text>
<line x1="645.6" y1="123.4" x2="645.6" y2="128.1" stroke="#1a1a1a" stroke-width="1.3"/>
<text x="645.6" y="139" font-size="10.2" text-anchor="middle" fill="#1e1e1e">0</text>
<line x1="669.28" y1="123.4" x2="669.28" y2="128.1" stroke="#1a1a1a" stroke-width="1.3"/>
<text x="669.28" y="139" font-size="10.2" text-anchor="middle" fill="#1e1e1e">1</text>
<line x1="692.96" y1="123.4" x2="692.96" y2="128.1" stroke="#1a1a1a" stroke-width="1.3"/>
<text x="692.96" y="139" font-size="10.2" text-anchor="middle" fill="#1e1e1e">2</text>
<line x1="716.64" y1="123.4" x2="716.64" y2="128.1" stroke="#1a1a1a" stroke-width="1.3"/>
<text x="716.64" y="139" font-size="10.2" text-anchor="middle" fill="#1e1e1e">3</text>
<line x1="740.32" y1="123.4" x2="740.32" y2="128.1" stroke="#1a1a1a" stroke-width="1.3"/>
<text x="740.32" y="139" font-size="10.2" text-anchor="middle" fill="#1e1e1e">4</text>
<line x1="764" y1="123.4" x2="764" y2="128.1" stroke="#1a1a1a" stroke-width="1.3"/>
<text x="761.1" y="139" font-size="10.2" text-anchor="start" fill="#1e1e1e">5 (days)</text>
<text x="705" y="154" font-size="10.2" text-anchor="middle" fill="#1e1e1e">U87</text>
<text x="628.8" y="148.8" font-size="10" text-anchor="start" fill="#1e1e1e" transform="rotate(-90 628.8 148.8)">Relative absorbance (OD450nm)</text>
<polyline points="645.6,112.38 669.28,107.97 692.96,94.42 716.64,73 740.32,47.48" fill="none" stroke="#111111" stroke-width="1.5"/>
<line x1="645.6" y1="113.32" x2="645.6" y2="111.43" stroke="#111111" stroke-width="1.2"/>
<line x1="643.2" y1="111.43" x2="648" y2="111.43" stroke="#111111" stroke-width="1.2"/>
<line x1="643.2" y1="113.32" x2="648" y2="113.32" stroke="#111111" stroke-width="1.2"/>
<circle cx="645.6" cy="112.38" r="2" fill="#111111"/>
<line x1="669.28" y1="108.91" x2="669.28" y2="107.02" stroke="#111111" stroke-width="1.2"/>
<line x1="666.88" y1="107.02" x2="671.68" y2="107.02" stroke="#111111" stroke-width="1.2"/>
<line x1="666.88" y1="108.91" x2="671.68" y2="108.91" stroke="#111111" stroke-width="1.2"/>
<circle cx="669.28" cy="107.97" r="2" fill="#111111"/>
<line x1="692.96" y1="96" x2="692.96" y2="92.84" stroke="#111111" stroke-width="1.2"/>
<line x1="690.56" y1="92.84" x2="695.36" y2="92.84" stroke="#111111" stroke-width="1.2"/>
<line x1="690.56" y1="96" x2="695.36" y2="96" stroke="#111111" stroke-width="1.2"/>
<circle cx="692.96" cy="94.42" r="2" fill="#111111"/>
<line x1="716.64" y1="76.15" x2="716.64" y2="69.85" stroke="#111111" stroke-width="1.2"/>
<line x1="714.24" y1="69.85" x2="719.04" y2="69.85" stroke="#111111" stroke-width="1.2"/>
<line x1="714.24" y1="76.15" x2="719.04" y2="76.15" stroke="#111111" stroke-width="1.2"/>
<circle cx="716.64" cy="73" r="2" fill="#111111"/>
<line x1="740.32" y1="53.79" x2="740.32" y2="41.19" stroke="#111111" stroke-width="1.2"/>
<line x1="737.92" y1="41.19" x2="742.72" y2="41.19" stroke="#111111" stroke-width="1.2"/>
<line x1="737.92" y1="53.79" x2="742.72" y2="53.79" stroke="#111111" stroke-width="1.2"/>
<circle cx="740.32" cy="47.48" r="2" fill="#111111"/>
<polyline points="645.6,115.53 669.28,110.17 692.96,100.09 716.64,81.19 740.32,60.72" fill="none" stroke="#2a5aa8" stroke-width="1.5"/>
<line x1="645.6" y1="116.16" x2="645.6" y2="114.9" stroke="#2a5aa8" stroke-width="1.2"/>
<line x1="643.2" y1="114.9" x2="648" y2="114.9" stroke="#2a5aa8" stroke-width="1.2"/>
<line x1="643.2" y1="116.16" x2="648" y2="116.16" stroke="#2a5aa8" stroke-width="1.2"/>
<circle cx="645.6" cy="115.53" r="2" fill="#2a5aa8"/>
<line x1="669.28" y1="111.12" x2="669.28" y2="109.23" stroke="#2a5aa8" stroke-width="1.2"/>
<line x1="666.88" y1="109.23" x2="671.68" y2="109.23" stroke="#2a5aa8" stroke-width="1.2"/>
<line x1="666.88" y1="111.12" x2="671.68" y2="111.12" stroke="#2a5aa8" stroke-width="1.2"/>
<circle cx="669.28" cy="110.17" r="2" fill="#2a5aa8"/>
<line x1="692.96" y1="101.35" x2="692.96" y2="98.83" stroke="#2a5aa8" stroke-width="1.2"/>
<line x1="690.56" y1="98.83" x2="695.36" y2="98.83" stroke="#2a5aa8" stroke-width="1.2"/>
<line x1="690.56" y1="101.35" x2="695.36" y2="101.35" stroke="#2a5aa8" stroke-width="1.2"/>
<circle cx="692.96" cy="100.09" r="2" fill="#2a5aa8"/>
<line x1="716.64" y1="83.4" x2="716.64" y2="78.98" stroke="#2a5aa8" stroke-width="1.2"/>
<line x1="714.24" y1="78.98" x2="719.04" y2="78.98" stroke="#2a5aa8" stroke-width="1.2"/>
<line x1="714.24" y1="83.4" x2="719.04" y2="83.4" stroke="#2a5aa8" stroke-width="1.2"/>
<circle cx="716.64" cy="81.19" r="2" fill="#2a5aa8"/>
<line x1="740.32" y1="63.87" x2="740.32" y2="57.57" stroke="#2a5aa8" stroke-width="1.2"/>
<line x1="737.92" y1="57.57" x2="742.72" y2="57.57" stroke="#2a5aa8" stroke-width="1.2"/>
<line x1="737.92" y1="63.87" x2="742.72" y2="63.87" stroke="#2a5aa8" stroke-width="1.2"/>
<circle cx="740.32" cy="60.72" r="2" fill="#2a5aa8"/>
<polyline points="645.6,117.1 669.28,113.95 692.96,105.13 716.64,86.23 740.32,70.48" fill="none" stroke="#e0454a" stroke-width="1.5"/>
<line x1="645.6" y1="117.73" x2="645.6" y2="116.47" stroke="#e0454a" stroke-width="1.2"/>
<line x1="643.2" y1="116.47" x2="648" y2="116.47" stroke="#e0454a" stroke-width="1.2"/>
<line x1="643.2" y1="117.73" x2="648" y2="117.73" stroke="#e0454a" stroke-width="1.2"/>
<circle cx="645.6" cy="117.1" r="2" fill="#e0454a"/>
<line x1="669.28" y1="114.9" x2="669.28" y2="113.01" stroke="#e0454a" stroke-width="1.2"/>
<line x1="666.88" y1="113.01" x2="671.68" y2="113.01" stroke="#e0454a" stroke-width="1.2"/>
<line x1="666.88" y1="114.9" x2="671.68" y2="114.9" stroke="#e0454a" stroke-width="1.2"/>
<circle cx="669.28" cy="113.95" r="2" fill="#e0454a"/>
<line x1="692.96" y1="106.39" x2="692.96" y2="103.87" stroke="#e0454a" stroke-width="1.2"/>
<line x1="690.56" y1="103.87" x2="695.36" y2="103.87" stroke="#e0454a" stroke-width="1.2"/>
<line x1="690.56" y1="106.39" x2="695.36" y2="106.39" stroke="#e0454a" stroke-width="1.2"/>
<circle cx="692.96" cy="105.13" r="2" fill="#e0454a"/>
<line x1="716.64" y1="88.44" x2="716.64" y2="84.03" stroke="#e0454a" stroke-width="1.2"/>
<line x1="714.24" y1="84.03" x2="719.04" y2="84.03" stroke="#e0454a" stroke-width="1.2"/>
<line x1="714.24" y1="88.44" x2="719.04" y2="88.44" stroke="#e0454a" stroke-width="1.2"/>
<circle cx="716.64" cy="86.23" r="2" fill="#e0454a"/>
<line x1="740.32" y1="73" x2="740.32" y2="67.96" stroke="#e0454a" stroke-width="1.2"/>
<line x1="737.92" y1="67.96" x2="742.72" y2="67.96" stroke="#e0454a" stroke-width="1.2"/>
<line x1="737.92" y1="73" x2="742.72" y2="73" stroke="#e0454a" stroke-width="1.2"/>
<circle cx="740.32" cy="70.48" r="2" fill="#e0454a"/>
<polyline points="745.1,47.48 748.1,47.48 748.1,60.4 745.1,60.4" fill="none" stroke="#1a1a1a" stroke-width="1.1"/>
<path d="M751.5,52.8L751.5,55.68M750.26,53.52L752.74,54.96M750.26,54.96L752.74,53.52M755.5,52.8L755.5,55.68M754.26,53.52L756.74,54.96M754.26,54.96L756.74,53.52" stroke="#1e1e1e" stroke-width="1.06" stroke-linecap="round"/>
<polyline points="757,47.48 760,47.48 760,70.48 757,70.48" fill="none" stroke="#1a1a1a" stroke-width="1.1"/>
<path d="M763.4,57.85L763.4,60.72M762.16,58.56L764.64,60M762.16,60L764.64,58.56M767.4,57.85L767.4,60.72M766.16,58.56L768.64,60M766.16,60L768.64,58.56M771.4,57.85L771.4,60.72M770.16,58.56L772.64,60M770.16,60L772.64,58.56" stroke="#1e1e1e" stroke-width="1.06" stroke-linecap="round"/>
<line x1="650.2" y1="7.6" x2="663.3" y2="7.6" stroke="#111111" stroke-width="1.5"/>
<circle cx="656.75" cy="7.6" r="2" fill="#111111"/>
<text x="670.2" y="11.1" font-size="9.8" text-anchor="start" fill="#1e1e1e">si-ctrl</text>
<line x1="650.2" y1="17.8" x2="663.3" y2="17.8" stroke="#e0454a" stroke-width="1.5"/>
<circle cx="656.75" cy="17.8" r="2" fill="#e0454a"/>
<text x="670.2" y="21.3" font-size="9.8" text-anchor="start" fill="#1e1e1e">si-LIF#1</text>
<line x1="650.2" y1="27.8" x2="663.3" y2="27.8" stroke="#2a5aa8" stroke-width="1.5"/>
<circle cx="656.75" cy="27.8" r="2" fill="#2a5aa8"/>
<text x="670.2" y="31.3" font-size="9.8" text-anchor="start" fill="#1e1e1e">si-LIF#2</text>
<text x="8.6" y="180.2" font-size="17" text-anchor="start" fill="#1e1e1e">C</text>
<text x="63.4" y="184.8" font-size="10.2" text-anchor="middle" fill="#1e1e1e">si-ctrl</text>
<rect x="25.5" y="188.7" width="70.8" height="46.9" fill="#d9deed"/>
<g clip-path="url(#mc100)">
<rect x="25.5" y="188.7" width="70.8" height="46.9" fill="#fff" filter="url(#mw100)"/>
<rect x="10.9" y="162.15" width="100" height="100" fill="#fff" filter="url(#ml100)" transform="rotate(26.22 60.9 212.15)"/>
<rect x="10.9" y="162.15" width="100" height="100" fill="#fff" filter="url(#md100_0)" transform="rotate(13.65 60.9 212.15)"/>
<rect x="10.9" y="162.15" width="100" height="100" fill="#fff" filter="url(#md100_1)" transform="rotate(59.12 60.9 212.15)"/>
<rect x="10.9" y="162.15" width="100" height="100" fill="#fff" filter="url(#md100_2)" transform="rotate(93.17 60.9 212.15)"/>
<rect x="10.9" y="162.15" width="100" height="100" fill="#fff" filter="url(#md100_3)" transform="rotate(129.96 60.9 212.15)"/>
<rect x="10.9" y="162.15" width="100" height="100" fill="#fff" filter="url(#md100_4)" transform="rotate(157.01 60.9 212.15)"/>
</g>
<rect x="89.3" y="232" width="5" height="1.6" fill="#e02020"/>
<rect x="25.5" y="237.8" width="70.8" height="47.2" fill="#dadbe0"/>
<g clip-path="url(#mc103)">
<rect x="25.5" y="237.8" width="70.8" height="47.2" fill="#fff" filter="url(#mw103)"/>
<rect x="10.9" y="211.4" width="100" height="100" fill="#fff" filter="url(#ml103)" transform="rotate(176.23 60.9 261.4)"/>
<rect x="10.9" y="211.4" width="100" height="100" fill="#fff" filter="url(#md103_0)" transform="rotate(13.69 60.9 261.4)"/>
<rect x="10.9" y="211.4" width="100" height="100" fill="#fff" filter="url(#md103_1)" transform="rotate(57.57 60.9 261.4)"/>
<rect x="10.9" y="211.4" width="100" height="100" fill="#fff" filter="url(#md103_2)" transform="rotate(94.05 60.9 261.4)"/>
<rect x="10.9" y="211.4" width="100" height="100" fill="#fff" filter="url(#md103_3)" transform="rotate(114.45 60.9 261.4)"/>
<rect x="10.9" y="211.4" width="100" height="100" fill="#fff" filter="url(#md103_4)" transform="rotate(146.34 60.9 261.4)"/>
</g>
<rect x="89.3" y="281.4" width="5" height="1.6" fill="#e02020"/>
<text x="135.5" y="184.8" font-size="10.2" text-anchor="middle" fill="#1e1e1e">si-LIF#1</text>
<rect x="98.2" y="188.7" width="70.6" height="46.9" fill="#d9deed"/>
<g clip-path="url(#mc101)">
<rect x="98.2" y="188.7" width="70.6" height="46.9" fill="#fff" filter="url(#mw101)"/>
<rect x="83.5" y="162.15" width="100" height="100" fill="#fff" filter="url(#ml101)" transform="rotate(104.61 133.5 212.15)"/>
<rect x="83.5" y="162.15" width="100" height="100" fill="#fff" filter="url(#md101_0)" transform="rotate(5.84 133.5 212.15)"/>
<rect x="83.5" y="162.15" width="100" height="100" fill="#fff" filter="url(#md101_1)" transform="rotate(64.96 133.5 212.15)"/>
<rect x="83.5" y="162.15" width="100" height="100" fill="#fff" filter="url(#md101_2)" transform="rotate(99.72 133.5 212.15)"/>
<rect x="83.5" y="162.15" width="100" height="100" fill="#fff" filter="url(#md101_3)" transform="rotate(122.01 133.5 212.15)"/>
<rect x="83.5" y="162.15" width="100" height="100" fill="#fff" filter="url(#md101_4)" transform="rotate(163.9 133.5 212.15)"/>
</g>
<rect x="161.8" y="232" width="5" height="1.6" fill="#e02020"/>
<rect x="98.2" y="237.8" width="70.6" height="47.2" fill="#dadbe0"/>
<g clip-path="url(#mc104)">
<rect x="98.2" y="237.8" width="70.6" height="47.2" fill="#fff" filter="url(#mw104)"/>
<rect x="83.5" y="211.4" width="100" height="100" fill="#fff" filter="url(#ml104)" transform="rotate(172.79 133.5 261.4)"/>
<rect x="83.5" y="211.4" width="100" height="100" fill="#fff" filter="url(#md104_0)" transform="rotate(26.16 133.5 261.4)"/>
<rect x="83.5" y="211.4" width="100" height="100" fill="#fff" filter="url(#md104_1)" transform="rotate(57.96 133.5 261.4)"/>
<rect x="83.5" y="211.4" width="100" height="100" fill="#fff" filter="url(#md104_2)" transform="rotate(78.83 133.5 261.4)"/>
<rect x="83.5" y="211.4" width="100" height="100" fill="#fff" filter="url(#md104_3)" transform="rotate(117.92 133.5 261.4)"/>
<rect x="83.5" y="211.4" width="100" height="100" fill="#fff" filter="url(#md104_4)" transform="rotate(165.41 133.5 261.4)"/>
</g>
<rect x="161.8" y="281.4" width="5" height="1.6" fill="#e02020"/>
<text x="203.7" y="184.8" font-size="10.2" text-anchor="middle" fill="#1e1e1e">si-LIF#2</text>
<rect x="171" y="188.7" width="70.8" height="46.9" fill="#d9deed"/>
<g clip-path="url(#mc102)">
<rect x="171" y="188.7" width="70.8" height="46.9" fill="#fff" filter="url(#mw102)"/>
<rect x="156.4" y="162.15" width="100" height="100" fill="#fff" filter="url(#ml102)" transform="rotate(26.67 206.4 212.15)"/>
<rect x="156.4" y="162.15" width="100" height="100" fill="#fff" filter="url(#md102_0)" transform="rotate(18.48 206.4 212.15)"/>
<rect x="156.4" y="162.15" width="100" height="100" fill="#fff" filter="url(#md102_1)" transform="rotate(41.09 206.4 212.15)"/>
<rect x="156.4" y="162.15" width="100" height="100" fill="#fff" filter="url(#md102_2)" transform="rotate(93.38 206.4 212.15)"/>
<rect x="156.4" y="162.15" width="100" height="100" fill="#fff" filter="url(#md102_3)" transform="rotate(126.23 206.4 212.15)"/>
<rect x="156.4" y="162.15" width="100" height="100" fill="#fff" filter="url(#md102_4)" transform="rotate(155.53 206.4 212.15)"/>
</g>
<rect x="234.8" y="232" width="5" height="1.6" fill="#e02020"/>
<rect x="171" y="237.8" width="70.8" height="47.2" fill="#dadbe0"/>
<g clip-path="url(#mc105)">
<rect x="171" y="237.8" width="70.8" height="47.2" fill="#fff" filter="url(#mw105)"/>
<rect x="156.4" y="211.4" width="100" height="100" fill="#fff" filter="url(#ml105)" transform="rotate(158.06 206.4 261.4)"/>
<rect x="156.4" y="211.4" width="100" height="100" fill="#fff" filter="url(#md105_0)" transform="rotate(10.47 206.4 261.4)"/>
<rect x="156.4" y="211.4" width="100" height="100" fill="#fff" filter="url(#md105_1)" transform="rotate(59.72 206.4 261.4)"/>
<rect x="156.4" y="211.4" width="100" height="100" fill="#fff" filter="url(#md105_2)" transform="rotate(100.55 206.4 261.4)"/>
<rect x="156.4" y="211.4" width="100" height="100" fill="#fff" filter="url(#md105_3)" transform="rotate(117.37 206.4 261.4)"/>
<rect x="156.4" y="211.4" width="100" height="100" fill="#fff" filter="url(#md105_4)" transform="rotate(167.05 206.4 261.4)"/>
</g>
<rect x="234.8" y="281.4" width="5" height="1.6" fill="#e02020"/>
<text x="21.4" y="223.1" font-size="10.4" text-anchor="end" fill="#1e1e1e">N3</text>
<text x="21.4" y="267.7" font-size="10.4" text-anchor="end" fill="#1e1e1e">U87</text>
<text x="133.6" y="300" font-size="10.2" text-anchor="middle" fill="#1e1e1e">Migration</text>
<rect x="292.2" y="226.92" width="9.6" height="53.58" fill="#1c1c1c"/>
<line x1="297" y1="226.92" x2="297" y2="222.69" stroke="#1a1a1a" stroke-width="1.3"/>
<line x1="294.5" y1="222.69" x2="299.5" y2="222.69" stroke="#1a1a1a" stroke-width="1.4"/>
<rect x="304.2" y="248.63" width="10.4" height="31.87" fill="#f27474"/>
<line x1="309.4" y1="248.63" x2="309.4" y2="246.38" stroke="#1a1a1a" stroke-width="1.3"/>
<line x1="306.9" y1="246.38" x2="311.9" y2="246.38" stroke="#1a1a1a" stroke-width="1.4"/>
<path d="M307.55,240.34L307.55,243.22M306.31,241.06L308.79,242.5M306.31,242.5L308.79,241.06M311.25,240.34L311.25,243.22M310.01,241.06L312.49,242.5M310.01,242.5L312.49,241.06" stroke="#1e1e1e" stroke-width="1.06" stroke-linecap="round"/>
<rect x="317.1" y="244.69" width="9.7" height="35.81" fill="#878787"/>
<line x1="321.95" y1="244.69" x2="321.95" y2="241.87" stroke="#1a1a1a" stroke-width="1.3"/>
<line x1="319.45" y1="241.87" x2="324.45" y2="241.87" stroke="#1a1a1a" stroke-width="1.4"/>
<path d="M320.1,235.83L320.1,238.7M318.86,236.55L321.34,237.98M318.86,237.98L321.34,236.55M323.8,235.83L323.8,238.7M322.56,236.55L325.04,237.98M322.56,237.98L325.04,236.55" stroke="#1e1e1e" stroke-width="1.06" stroke-linecap="round"/>
<rect x="340" y="232.84" width="9.7" height="47.66" fill="#1c1c1c"/>
<line x1="344.85" y1="232.84" x2="344.85" y2="230.3" stroke="#1a1a1a" stroke-width="1.3"/>
<line x1="342.35" y1="230.3" x2="347.35" y2="230.3" stroke="#1a1a1a" stroke-width="1.4"/>
<rect x="352.3" y="256.81" width="10.3" height="23.69" fill="#f27474"/>
<line x1="357.45" y1="256.81" x2="357.45" y2="254.84" stroke="#1a1a1a" stroke-width="1.3"/>
<line x1="354.95" y1="254.84" x2="359.95" y2="254.84" stroke="#1a1a1a" stroke-width="1.4"/>
<path d="M355.6,248.8L355.6,251.68M354.36,249.52L356.84,250.96M354.36,250.96L356.84,249.52M359.3,248.8L359.3,251.68M358.06,249.52L360.54,250.96M358.06,250.96L360.54,249.52" stroke="#1e1e1e" stroke-width="1.06" stroke-linecap="round"/>
<rect x="365" y="247.22" width="9.7" height="33.28" fill="#878787"/>
<line x1="369.85" y1="247.22" x2="369.85" y2="244.4" stroke="#1a1a1a" stroke-width="1.3"/>
<line x1="367.35" y1="244.4" x2="372.35" y2="244.4" stroke="#1a1a1a" stroke-width="1.4"/>
<path d="M368,238.37L368,241.24M366.76,239.09L369.24,240.52M366.76,240.52L369.24,239.09M371.7,238.37L371.7,241.24M370.46,239.09L372.94,240.52M370.46,240.52L372.94,239.09" stroke="#1e1e1e" stroke-width="1.06" stroke-linecap="round"/>
<line x1="286.5" y1="209.4" x2="286.5" y2="281.1" stroke="#1a1a1a" stroke-width="1.3"/>
<line x1="285.9" y1="280.5" x2="380.4" y2="280.5" stroke="#1a1a1a" stroke-width="1.3"/>
<line x1="281.8" y1="280.5" x2="286.5" y2="280.5" stroke="#1a1a1a" stroke-width="1.3"/>
<text x="280.3" y="284.1" font-size="10.2" text-anchor="end" fill="#1e1e1e">0</text>
<line x1="281.8" y1="266.4" x2="286.5" y2="266.4" stroke="#1a1a1a" stroke-width="1.3"/>
<text x="280.3" y="270" font-size="10.2" text-anchor="end" fill="#1e1e1e">50</text>
<line x1="281.8" y1="252.3" x2="286.5" y2="252.3" stroke="#1a1a1a" stroke-width="1.3"/>
<text x="280.3" y="255.9" font-size="10.2" text-anchor="end" fill="#1e1e1e">100</text>
<line x1="281.8" y1="238.2" x2="286.5" y2="238.2" stroke="#1a1a1a" stroke-width="1.3"/>
<text x="280.3" y="241.8" font-size="10.2" text-anchor="end" fill="#1e1e1e">150</text>
<line x1="281.8" y1="224.1" x2="286.5" y2="224.1" stroke="#1a1a1a" stroke-width="1.3"/>
<text x="280.3" y="227.7" font-size="10.2" text-anchor="end" fill="#1e1e1e">200</text>
<line x1="281.8" y1="210" x2="286.5" y2="210" stroke="#1a1a1a" stroke-width="1.3"/>
<text x="280.3" y="213.6" font-size="10.2" text-anchor="end" fill="#1e1e1e">250</text>
<line x1="309.2" y1="280.5" x2="309.2" y2="285.5" stroke="#1a1a1a" stroke-width="1.3"/>
<text x="309.2" y="295.5" font-size="10.2" text-anchor="middle" fill="#1e1e1e">N3</text>
<line x1="357.2" y1="280.5" x2="357.2" y2="285.5" stroke="#1a1a1a" stroke-width="1.3"/>
<text x="357.2" y="295.5" font-size="10.2" text-anchor="middle" fill="#1e1e1e">U87</text>
<text x="259" y="245.25" font-size="9.95" text-anchor="middle" fill="#1e1e1e" transform="rotate(-90 259 245.25)">Number of cells</text>
<rect x="287.2" y="174.1" width="12.4" height="6" fill="#1c1c1c"/>
<text x="307" y="180.3" font-size="10" text-anchor="start" fill="#1e1e1e">si-ctrl</text>
<rect x="287.2" y="183.5" width="12.4" height="6.1" fill="#f27474"/>
<text x="307" y="189.8" font-size="10" text-anchor="start" fill="#1e1e1e">si-LIF#1</text>
<rect x="287.2" y="193.8" width="12.4" height="5.8" fill="#878787"/>
<text x="307" y="199.8" font-size="10" text-anchor="start" fill="#1e1e1e">si-LIF#2</text>
<text x="404.9" y="180.6" font-size="16.8" text-anchor="start" fill="#1e1e1e">D</text>
<text x="462.4" y="187.5" font-size="10.2" text-anchor="middle" fill="#1e1e1e">si-ctrl</text>
<rect x="427.6" y="190" width="69.8" height="47" fill="#d9deed"/>
<g clip-path="url(#mc200)">
<rect x="427.6" y="190" width="69.8" height="47" fill="#fff" filter="url(#mw200)"/>
<rect x="412.5" y="163.5" width="100" height="100" fill="#fff" filter="url(#ml200)" transform="rotate(8.21 462.5 213.5)"/>
<rect x="412.5" y="163.5" width="100" height="100" fill="#fff" filter="url(#md200_0)" transform="rotate(6.1 462.5 213.5)"/>
<rect x="412.5" y="163.5" width="100" height="100" fill="#fff" filter="url(#md200_1)" transform="rotate(57.27 462.5 213.5)"/>
<rect x="412.5" y="163.5" width="100" height="100" fill="#fff" filter="url(#md200_2)" transform="rotate(76.29 462.5 213.5)"/>
<rect x="412.5" y="163.5" width="100" height="100" fill="#fff" filter="url(#md200_3)" transform="rotate(133.8 462.5 213.5)"/>
<rect x="412.5" y="163.5" width="100" height="100" fill="#fff" filter="url(#md200_4)" transform="rotate(152 462.5 213.5)"/>
</g>
<rect x="490.4" y="233.4" width="5" height="1.6" fill="#e02020"/>
<rect x="427.6" y="239.5" width="69.8" height="47.1" fill="#dadbe0"/>
<g clip-path="url(#mc203)">
<rect x="427.6" y="239.5" width="69.8" height="47.1" fill="#fff" filter="url(#mw203)"/>
<rect x="412.5" y="213.05" width="100" height="100" fill="#fff" filter="url(#ml203)" transform="rotate(16.34 462.5 263.05)"/>
<rect x="412.5" y="213.05" width="100" height="100" fill="#fff" filter="url(#md203_0)" transform="rotate(25.26 462.5 263.05)"/>
<rect x="412.5" y="213.05" width="100" height="100" fill="#fff" filter="url(#md203_1)" transform="rotate(54.01 462.5 263.05)"/>
<rect x="412.5" y="213.05" width="100" height="100" fill="#fff" filter="url(#md203_2)" transform="rotate(78.38 462.5 263.05)"/>
<rect x="412.5" y="213.05" width="100" height="100" fill="#fff" filter="url(#md203_3)" transform="rotate(131.39 462.5 263.05)"/>
<rect x="412.5" y="213.05" width="100" height="100" fill="#fff" filter="url(#md203_4)" transform="rotate(161.84 462.5 263.05)"/>
</g>
<rect x="490.4" y="283" width="5" height="1.6" fill="#e02020"/>
<text x="539.5" y="187.5" font-size="10.2" text-anchor="middle" fill="#1e1e1e">si-LIF#1</text>
<rect x="501.3" y="190" width="69.1" height="47" fill="#d9deed"/>
<g clip-path="url(#mc201)">
<rect x="501.3" y="190" width="69.1" height="47" fill="#fff" filter="url(#mw201)"/>
<rect x="485.85" y="163.5" width="100" height="100" fill="#fff" filter="url(#ml201)" transform="rotate(12.08 535.85 213.5)"/>
<rect x="485.85" y="163.5" width="100" height="100" fill="#fff" filter="url(#md201_0)" transform="rotate(9.77 535.85 213.5)"/>
<rect x="485.85" y="163.5" width="100" height="100" fill="#fff" filter="url(#md201_1)" transform="rotate(36.11 535.85 213.5)"/>
<rect x="485.85" y="163.5" width="100" height="100" fill="#fff" filter="url(#md201_2)" transform="rotate(80.48 535.85 213.5)"/>
<rect x="485.85" y="163.5" width="100" height="100" fill="#fff" filter="url(#md201_3)" transform="rotate(130.58 535.85 213.5)"/>
<rect x="485.85" y="163.5" width="100" height="100" fill="#fff" filter="url(#md201_4)" transform="rotate(164.82 535.85 213.5)"/>
</g>
<rect x="563.4" y="233.4" width="5" height="1.6" fill="#e02020"/>
<rect x="501.3" y="239.5" width="69.1" height="47.1" fill="#dadbe0"/>
<g clip-path="url(#mc204)">
<rect x="501.3" y="239.5" width="69.1" height="47.1" fill="#fff" filter="url(#mw204)"/>
<rect x="485.85" y="213.05" width="100" height="100" fill="#fff" filter="url(#ml204)" transform="rotate(71.44 535.85 263.05)"/>
<rect x="485.85" y="213.05" width="100" height="100" fill="#fff" filter="url(#md204_0)" transform="rotate(2.56 535.85 263.05)"/>
<rect x="485.85" y="213.05" width="100" height="100" fill="#fff" filter="url(#md204_1)" transform="rotate(53.52 535.85 263.05)"/>
<rect x="485.85" y="213.05" width="100" height="100" fill="#fff" filter="url(#md204_2)" transform="rotate(75.98 535.85 263.05)"/>
<rect x="485.85" y="213.05" width="100" height="100" fill="#fff" filter="url(#md204_3)" transform="rotate(122.46 535.85 263.05)"/>
<rect x="485.85" y="213.05" width="100" height="100" fill="#fff" filter="url(#md204_4)" transform="rotate(153.96 535.85 263.05)"/>
</g>
<rect x="563.4" y="283" width="5" height="1.6" fill="#e02020"/>
<text x="608.5" y="187.5" font-size="10.2" text-anchor="middle" fill="#1e1e1e">si-LIF#2</text>
<rect x="574.3" y="190" width="69.7" height="47" fill="#d9deed"/>
<g clip-path="url(#mc202)">
<rect x="574.3" y="190" width="69.7" height="47" fill="#fff" filter="url(#mw202)"/>
<rect x="559.15" y="163.5" width="100" height="100" fill="#fff" filter="url(#ml202)" transform="rotate(137.5 609.15 213.5)"/>
<rect x="559.15" y="163.5" width="100" height="100" fill="#fff" filter="url(#md202_0)" transform="rotate(19.34 609.15 213.5)"/>
<rect x="559.15" y="163.5" width="100" height="100" fill="#fff" filter="url(#md202_1)" transform="rotate(48.28 609.15 213.5)"/>
<rect x="559.15" y="163.5" width="100" height="100" fill="#fff" filter="url(#md202_2)" transform="rotate(77.94 609.15 213.5)"/>
<rect x="559.15" y="163.5" width="100" height="100" fill="#fff" filter="url(#md202_3)" transform="rotate(128.3 609.15 213.5)"/>
<rect x="559.15" y="163.5" width="100" height="100" fill="#fff" filter="url(#md202_4)" transform="rotate(173.08 609.15 213.5)"/>
</g>
<rect x="637" y="233.4" width="5" height="1.6" fill="#e02020"/>
<rect x="574.3" y="239.5" width="69.7" height="47.1" fill="#dadbe0"/>
<g clip-path="url(#mc205)">
<rect x="574.3" y="239.5" width="69.7" height="47.1" fill="#fff" filter="url(#mw205)"/>
<rect x="559.15" y="213.05" width="100" height="100" fill="#fff" filter="url(#ml205)" transform="rotate(78.2 609.15 263.05)"/>
<rect x="559.15" y="213.05" width="100" height="100" fill="#fff" filter="url(#md205_0)" transform="rotate(21.74 609.15 263.05)"/>
<rect x="559.15" y="213.05" width="100" height="100" fill="#fff" filter="url(#md205_1)" transform="rotate(52.09 609.15 263.05)"/>
<rect x="559.15" y="213.05" width="100" height="100" fill="#fff" filter="url(#md205_2)" transform="rotate(86.91 609.15 263.05)"/>
<rect x="559.15" y="213.05" width="100" height="100" fill="#fff" filter="url(#md205_3)" transform="rotate(132.86 609.15 263.05)"/>
<rect x="559.15" y="213.05" width="100" height="100" fill="#fff" filter="url(#md205_4)" transform="rotate(150.75 609.15 263.05)"/>
</g>
<rect x="637" y="283" width="5" height="1.6" fill="#e02020"/>
<text x="423.4" y="222.4" font-size="10.4" text-anchor="end" fill="#1e1e1e">N3</text>
<text x="423.4" y="266.9" font-size="10.4" text-anchor="end" fill="#1e1e1e">U87</text>
<text x="535.9" y="300.5" font-size="10.2" text-anchor="middle" fill="#1e1e1e">Invasion</text>
<rect x="698.1" y="230.21" width="9.7" height="50.29" fill="#1c1c1c"/>
<line x1="702.95" y1="230.21" x2="702.95" y2="225.04" stroke="#1a1a1a" stroke-width="1.3"/>
<line x1="700.45" y1="225.04" x2="705.45" y2="225.04" stroke="#1a1a1a" stroke-width="1.4"/>
<rect x="710.5" y="248.07" width="9.7" height="32.43" fill="#f27474"/>
<line x1="715.35" y1="248.07" x2="715.35" y2="245.72" stroke="#1a1a1a" stroke-width="1.3"/>
<line x1="712.85" y1="245.72" x2="717.85" y2="245.72" stroke="#1a1a1a" stroke-width="1.4"/>
<path d="M713.5,239.68L713.5,242.56M712.26,240.4L714.74,241.84M712.26,241.84L714.74,240.4M717.2,239.68L717.2,242.56M715.96,240.4L718.44,241.84M715.96,241.84L718.44,240.4" stroke="#1e1e1e" stroke-width="1.06" stroke-linecap="round"/>
<rect x="723" y="238.2" width="9.7" height="42.3" fill="#878787"/>
<line x1="727.85" y1="238.2" x2="727.85" y2="234.91" stroke="#1a1a1a" stroke-width="1.3"/>
<line x1="725.35" y1="234.91" x2="730.35" y2="234.91" stroke="#1a1a1a" stroke-width="1.4"/>
<path d="M727.85,228.87L727.85,231.75M726.61,229.59L729.09,231.03M726.61,231.03L729.09,229.59" stroke="#1e1e1e" stroke-width="1.06" stroke-linecap="round"/>
<rect x="746.1" y="233.03" width="9.5" height="47.47" fill="#1c1c1c"/>
<line x1="750.85" y1="233.03" x2="750.85" y2="228.33" stroke="#1a1a1a" stroke-width="1.3"/>
<line x1="748.35" y1="228.33" x2="753.35" y2="228.33" stroke="#1a1a1a" stroke-width="1.4"/>
<rect x="758.2" y="256.06" width="9.7" height="24.44" fill="#f27474"/>
<line x1="763.05" y1="256.06" x2="763.05" y2="254.18" stroke="#1a1a1a" stroke-width="1.3"/>
<line x1="760.55" y1="254.18" x2="765.55" y2="254.18" stroke="#1a1a1a" stroke-width="1.4"/>
<path d="M761.2,248.14L761.2,251.02M759.96,248.86L762.44,250.3M759.96,250.3L762.44,248.86M764.9,248.14L764.9,251.02M763.66,248.86L766.14,250.3M763.66,250.3L766.14,248.86" stroke="#1e1e1e" stroke-width="1.06" stroke-linecap="round"/>
<rect x="770.7" y="247.13" width="10.1" height="33.37" fill="#878787"/>
<line x1="775.75" y1="247.13" x2="775.75" y2="244.78" stroke="#1a1a1a" stroke-width="1.3"/>
<line x1="773.25" y1="244.78" x2="778.25" y2="244.78" stroke="#1a1a1a" stroke-width="1.4"/>
<path d="M773.9,238.74L773.9,241.62M772.66,239.46L775.14,240.9M772.66,240.9L775.14,239.46M777.6,238.74L777.6,241.62M776.36,239.46L778.84,240.9M776.36,240.9L778.84,239.46" stroke="#1e1e1e" stroke-width="1.06" stroke-linecap="round"/>
<line x1="692.5" y1="209.4" x2="692.5" y2="281.1" stroke="#1a1a1a" stroke-width="1.3"/>
<line x1="691.9" y1="280.5" x2="786.7" y2="280.5" stroke="#1a1a1a" stroke-width="1.3"/>
<line x1="687.8" y1="280.5" x2="692.5" y2="280.5" stroke="#1a1a1a" stroke-width="1.3"/>
<text x="686.3" y="284.1" font-size="10.2" text-anchor="end" fill="#1e1e1e">0</text>
<line x1="687.8" y1="257" x2="692.5" y2="257" stroke="#1a1a1a" stroke-width="1.3"/>
<text x="686.3" y="260.6" font-size="10.2" text-anchor="end" fill="#1e1e1e">50</text>
<line x1="687.8" y1="233.5" x2="692.5" y2="233.5" stroke="#1a1a1a" stroke-width="1.3"/>
<text x="686.3" y="237.1" font-size="10.2" text-anchor="end" fill="#1e1e1e">100</text>
<line x1="687.8" y1="210" x2="692.5" y2="210" stroke="#1a1a1a" stroke-width="1.3"/>
<text x="686.3" y="213.6" font-size="10.2" text-anchor="end" fill="#1e1e1e">150</text>
<line x1="715.4" y1="280.5" x2="715.4" y2="285.5" stroke="#1a1a1a" stroke-width="1.3"/>
<text x="715.4" y="295.5" font-size="10.2" text-anchor="middle" fill="#1e1e1e">N3</text>
<line x1="763" y1="280.5" x2="763" y2="285.5" stroke="#1a1a1a" stroke-width="1.3"/>
<text x="763" y="295.5" font-size="10.2" text-anchor="middle" fill="#1e1e1e">U87</text>
<text x="665" y="245.25" font-size="9.95" text-anchor="middle" fill="#1e1e1e" transform="rotate(-90 665 245.25)">Number of cells</text>
<rect x="693.1" y="174.3" width="12.6" height="5.8" fill="#1c1c1c"/>
<text x="713" y="180.3" font-size="10" text-anchor="start" fill="#1e1e1e">si-ctrl</text>
<rect x="693.1" y="183.9" width="12.6" height="6" fill="#f27474"/>
<text x="713" y="190.1" font-size="10" text-anchor="start" fill="#1e1e1e">si-LIF#1</text>
<rect x="693.1" y="194" width="12.6" height="5.6" fill="#878787"/>
<text x="713" y="199.8" font-size="10" text-anchor="start" fill="#1e1e1e">si-LIF#2</text>
<text x="8.7" y="345.6" font-size="17.3" text-anchor="start" fill="#1e1e1e">E</text>
<text x="84.6" y="343.4" font-size="9.8" text-anchor="end" fill="#1e1e1e">si-NC</text>
<line x1="107.3" y1="338" x2="111.7" y2="338" stroke="#333" stroke-width="1"/>
<line x1="109.5" y1="335.8" x2="109.5" y2="340.2" stroke="#333" stroke-width="1"/>
<line x1="131.1" y1="338" x2="136.5" y2="338" stroke="#222" stroke-width="1.5"/>
<line x1="156.8" y1="338" x2="162.2" y2="338" stroke="#222" stroke-width="1.5"/>
<line x1="188.3" y1="338" x2="192.7" y2="338" stroke="#333" stroke-width="1"/>
<line x1="190.5" y1="335.8" x2="190.5" y2="340.2" stroke="#333" stroke-width="1"/>
<line x1="212.6" y1="338" x2="218" y2="338" stroke="#222" stroke-width="1.5"/>
<line x1="238.7" y1="338" x2="244.1" y2="338" stroke="#222" stroke-width="1.5"/>
<text x="84.6" y="356" font-size="9.8" text-anchor="end" fill="#1e1e1e">si-LIF#1</text>
<line x1="106.8" y1="353.2" x2="112.2" y2="353.2" stroke="#222" stroke-width="1.5"/>
<line x1="131.6" y1="353.2" x2="136" y2="353.2" stroke="#333" stroke-width="1"/>
<line x1="133.8" y1="351" x2="133.8" y2="355.4" stroke="#333" stroke-width="1"/>
<line x1="156.8" y1="353.2" x2="162.2" y2="353.2" stroke="#222" stroke-width="1.5"/>
<line x1="187.8" y1="353.2" x2="193.2" y2="353.2" stroke="#222" stroke-width="1.5"/>
<line x1="213.1" y1="353.2" x2="217.5" y2="353.2" stroke="#333" stroke-width="1"/>
<line x1="215.3" y1="351" x2="215.3" y2="355.4" stroke="#333" stroke-width="1"/>
<line x1="238.7" y1="353.2" x2="244.1" y2="353.2" stroke="#222" stroke-width="1.5"/>
<text x="84.6" y="372.7" font-size="9.8" text-anchor="end" fill="#1e1e1e">si-LIF#2</text>
<line x1="106.8" y1="367" x2="112.2" y2="367" stroke="#222" stroke-width="1.5"/>
<line x1="131.1" y1="367" x2="136.5" y2="367" stroke="#222" stroke-width="1.5"/>
<line x1="157.3" y1="367" x2="161.7" y2="367" stroke="#333" stroke-width="1"/>
<line x1="159.5" y1="364.8" x2="159.5" y2="369.2" stroke="#333" stroke-width="1"/>
<line x1="187.8" y1="367" x2="193.2" y2="367" stroke="#222" stroke-width="1.5"/>
<line x1="212.6" y1="367" x2="218" y2="367" stroke="#222" stroke-width="1.5"/>
<line x1="239.2" y1="367" x2="243.6" y2="367" stroke="#333" stroke-width="1"/>
<line x1="241.4" y1="364.8" x2="241.4" y2="369.2" stroke="#333" stroke-width="1"/>
<text x="87.3" y="388.4" font-size="10.1" text-anchor="end" fill="#1e1e1e">LIF</text>
<rect x="95.9" y="376.4" width="76.9" height="20.1" fill="url(#blg)"/>
<g clip-path="url(#bc300)">
<rect x="100.5" y="382.33" width="22" height="8.24" fill="#000" opacity="0.09" filter="url(#bs)"/>
<rect x="101.5" y="387.27" width="20" height="6.03" fill="#000" opacity="0.13" filter="url(#bs)"/>
<rect x="100.5" y="383.59" width="22" height="5.72" rx="2.86" fill="#000" opacity="1" filter="url(#bb)"/>
<rect x="124.5" y="382.33" width="22" height="8.24" fill="#000" opacity="0.06" filter="url(#bs)"/>
<rect x="125.5" y="387.27" width="20" height="6.03" fill="#000" opacity="0.07" filter="url(#bs)"/>
<rect x="124.5" y="384.59" width="22" height="3.73" rx="1.86" fill="#000" opacity="0.42" filter="url(#bb)"/>
<rect x="148.5" y="382.33" width="22" height="8.24" fill="#000" opacity="0.07" filter="url(#bs)"/>
<rect x="149.5" y="387.27" width="20" height="6.03" fill="#000" opacity="0.08" filter="url(#bs)"/>
<rect x="148.5" y="384.39" width="22" height="4.11" rx="2.06" fill="#000" opacity="0.57" filter="url(#bb)"/>
</g>
<rect x="95.9" y="376.4" width="76.9" height="20.1" fill="none" stroke="#111" stroke-width="1.4"/>
<rect x="178.9" y="376.4" width="77.1" height="20.1" fill="url(#blg)"/>
<g clip-path="url(#bc320)">
<rect x="182.5" y="382.33" width="22" height="8.24" fill="#000" opacity="0.09" filter="url(#bs)"/>
<rect x="183.5" y="387.27" width="20" height="6.03" fill="#000" opacity="0.13" filter="url(#bs)"/>
<rect x="182.5" y="383.59" width="22" height="5.72" rx="2.86" fill="#000" opacity="1" filter="url(#bb)"/>
<rect x="206" y="382.33" width="22" height="8.24" fill="#000" opacity="0.06" filter="url(#bs)"/>
<rect x="207" y="387.27" width="20" height="6.03" fill="#000" opacity="0.08" filter="url(#bs)"/>
<rect x="206" y="384.53" width="22" height="3.84" rx="1.92" fill="#000" opacity="0.47" filter="url(#bb)"/>
<rect x="230" y="382.33" width="22" height="8.24" fill="#000" opacity="0.07" filter="url(#bs)"/>
<rect x="231" y="387.27" width="20" height="6.03" fill="#000" opacity="0.08" filter="url(#bs)"/>
<rect x="230" y="384.39" width="22" height="4.11" rx="2.06" fill="#000" opacity="0.57" filter="url(#bb)"/>
</g>
<rect x="178.9" y="376.4" width="77.1" height="20.1" fill="none" stroke="#111" stroke-width="1.4"/>
<text x="87.3" y="411.62" font-size="10.1" text-anchor="end" fill="#1e1e1e">t-STAT3</text>
<rect x="95.9" y="399.62" width="76.9" height="20.1" fill="url(#blg)"/>
<g clip-path="url(#bc301)">
<rect x="100.5" y="403.94" width="22" height="8.24" fill="#000" opacity="0.09" filter="url(#bs)"/>
<rect x="101.5" y="408.89" width="20" height="6.03" fill="#000" opacity="0.12" filter="url(#bs)"/>
<rect x="101.5" y="410.53" width="20" height="3.64" rx="1.5" fill="#000" opacity="0.36" filter="url(#bs)"/>
<rect x="100.5" y="405.87" width="22" height="4.37" rx="2.19" fill="#000" opacity="1" filter="url(#bb)"/>
<rect x="124.5" y="403.94" width="22" height="8.24" fill="#000" opacity="0.09" filter="url(#bs)"/>
<rect x="125.5" y="408.89" width="20" height="6.03" fill="#000" opacity="0.13" filter="url(#bs)"/>
<rect x="125.5" y="410.53" width="20" height="3.64" rx="1.5" fill="#000" opacity="0.4" filter="url(#bs)"/>
<rect x="124.5" y="405.76" width="22" height="4.6" rx="2.3" fill="#000" opacity="1" filter="url(#bb)"/>
<rect x="148.5" y="403.94" width="22" height="8.24" fill="#000" opacity="0.09" filter="url(#bs)"/>
<rect x="149.5" y="408.89" width="20" height="6.03" fill="#000" opacity="0.13" filter="url(#bs)"/>
<rect x="149.5" y="410.53" width="20" height="3.64" rx="1.5" fill="#000" opacity="0.4" filter="url(#bs)"/>
<rect x="148.5" y="405.76" width="22" height="4.6" rx="2.3" fill="#000" opacity="1" filter="url(#bb)"/>
</g>
<rect x="95.9" y="399.62" width="76.9" height="20.1" fill="none" stroke="#111" stroke-width="1.4"/>
<rect x="178.9" y="399.62" width="77.1" height="20.1" fill="url(#blg)"/>
<g clip-path="url(#bc321)">
<rect x="182.5" y="403.94" width="22" height="8.24" fill="#000" opacity="0.09" filter="url(#bs)"/>
<rect x="183.5" y="408.89" width="20" height="6.03" fill="#000" opacity="0.12" filter="url(#bs)"/>
<rect x="183.5" y="410.53" width="20" height="3.64" rx="1.5" fill="#000" opacity="0.36" filter="url(#bs)"/>
<rect x="182.5" y="405.87" width="22" height="4.37" rx="2.19" fill="#000" opacity="1" filter="url(#bb)"/>
<rect x="206" y="403.94" width="22" height="8.24" fill="#000" opacity="0.08" filter="url(#bs)"/>
<rect x="207" y="408.89" width="20" height="6.03" fill="#000" opacity="0.12" filter="url(#bs)"/>
<rect x="207" y="410.53" width="20" height="3.64" rx="1.5" fill="#000" opacity="0.34" filter="url(#bs)"/>
<rect x="206" y="405.93" width="22" height="4.26" rx="2.13" fill="#000" opacity="1" filter="url(#bb)"/>
<rect x="230" y="403.94" width="22" height="8.24" fill="#000" opacity="0.09" filter="url(#bs)"/>
<rect x="231" y="408.89" width="20" height="6.03" fill="#000" opacity="0.13" filter="url(#bs)"/>
<rect x="231" y="410.53" width="20" height="3.64" rx="1.5" fill="#000" opacity="0.38" filter="url(#bs)"/>
<rect x="230" y="405.82" width="22" height="4.49" rx="2.24" fill="#000" opacity="1" filter="url(#bb)"/>
</g>
<rect x="178.9" y="399.62" width="77.1" height="20.1" fill="none" stroke="#111" stroke-width="1.4"/>
<text x="87.3" y="434.84" font-size="10.1" text-anchor="end" fill="#1e1e1e">p-STAT3</text>
<rect x="95.9" y="422.84" width="76.9" height="20.1" fill="url(#blg)"/>
<g clip-path="url(#bc302)">
<rect x="100.5" y="428.77" width="22" height="8.24" fill="#000" opacity="0.09" filter="url(#bs)"/>
<rect x="101.5" y="433.71" width="20" height="6.03" fill="#000" opacity="0.19" filter="url(#bs)"/>
<rect x="100.5" y="430.17" width="22" height="5.44" rx="2.72" fill="#000" opacity="1" filter="url(#bb)"/>
<rect x="124.5" y="428.77" width="22" height="8.24" fill="#000" opacity="0.06" filter="url(#bs)"/>
<rect x="125.5" y="433.71" width="20" height="6.03" fill="#000" opacity="0.07" filter="url(#bs)"/>
<rect x="124.5" y="431.21" width="22" height="3.37" rx="1.68" fill="#000" opacity="0.28" filter="url(#bb)"/>
<rect x="148.5" y="428.77" width="22" height="8.24" fill="#000" opacity="0.07" filter="url(#bs)"/>
<rect x="149.5" y="433.71" width="20" height="6.03" fill="#000" opacity="0.11" filter="url(#bs)"/>
<rect x="148.5" y="430.89" width="22" height="4" rx="2" fill="#000" opacity="0.53" filter="url(#bb)"/>
</g>
<rect x="95.9" y="422.84" width="76.9" height="20.1" fill="none" stroke="#111" stroke-width="1.4"/>
<rect x="178.9" y="422.84" width="77.1" height="20.1" fill="url(#blg)"/>
<g clip-path="url(#bc322)">
<rect x="182.5" y="428.77" width="22" height="8.24" fill="#000" opacity="0.09" filter="url(#bs)"/>
<rect x="183.5" y="433.71" width="20" height="6.03" fill="#000" opacity="0.19" filter="url(#bs)"/>
<rect x="182.5" y="430.17" width="22" height="5.44" rx="2.72" fill="#000" opacity="1" filter="url(#bb)"/>
<rect x="206" y="428.77" width="22" height="8.24" fill="#000" opacity="0.05" filter="url(#bs)"/>
<rect x="207" y="433.71" width="20" height="6.03" fill="#000" opacity="0.07" filter="url(#bs)"/>
<rect x="206" y="431.28" width="22" height="3.23" rx="1.61" fill="#000" opacity="0.23" filter="url(#bb)"/>
<rect x="230" y="428.77" width="22" height="8.24" fill="#000" opacity="0.06" filter="url(#bs)"/>
<rect x="231" y="433.71" width="20" height="6.03" fill="#000" opacity="0.09" filter="url(#bs)"/>
<rect x="230" y="431.03" width="22" height="3.73" rx="1.86" fill="#000" opacity="0.42" filter="url(#bb)"/>
</g>
<rect x="178.9" y="422.84" width="77.1" height="20.1" fill="none" stroke="#111" stroke-width="1.4"/>
<text x="87.3" y="458.06" font-size="10.1" text-anchor="end" fill="#1e1e1e">N-cadherin</text>
<rect x="95.9" y="446.06" width="76.9" height="20.1" fill="url(#blg)"/>
<g clip-path="url(#bc303)">
<rect x="100.5" y="451.99" width="22" height="8.24" fill="#000" opacity="0.09" filter="url(#bs)"/>
<rect x="101.5" y="456.93" width="20" height="6.03" fill="#000" opacity="0.12" filter="url(#bs)"/>
<rect x="100.5" y="453.39" width="22" height="5.44" rx="2.72" fill="#000" opacity="1" filter="url(#bb)"/>
<rect x="124.5" y="451.99" width="22" height="8.24" fill="#000" opacity="0.07" filter="url(#bs)"/>
<rect x="125.5" y="456.93" width="20" height="6.03" fill="#000" opacity="0.09" filter="url(#bs)"/>
<rect x="124.5" y="453.94" width="22" height="4.34" rx="2.17" fill="#000" opacity="0.66" filter="url(#bb)"/>
<rect x="148.5" y="451.99" width="22" height="8.24" fill="#000" opacity="0.08" filter="url(#bs)"/>
<rect x="149.5" y="456.93" width="20" height="6.03" fill="#000" opacity="0.1" filter="url(#bs)"/>
<rect x="148.5" y="453.73" width="22" height="4.75" rx="2.38" fill="#000" opacity="0.82" filter="url(#bb)"/>
</g>
<rect x="95.9" y="446.06" width="76.9" height="20.1" fill="none" stroke="#111" stroke-width="1.4"/>
<rect x="178.9" y="446.06" width="77.1" height="20.1" fill="url(#blg)"/>
<g clip-path="url(#bc323)">
<rect x="182.5" y="451.99" width="22" height="8.24" fill="#000" opacity="0.09" filter="url(#bs)"/>
<rect x="183.5" y="456.93" width="20" height="6.03" fill="#000" opacity="0.12" filter="url(#bs)"/>
<rect x="182.5" y="453.39" width="22" height="5.44" rx="2.72" fill="#000" opacity="1" filter="url(#bb)"/>
<rect x="206" y="451.99" width="22" height="8.24" fill="#000" opacity="0.07" filter="url(#bs)"/>
<rect x="207" y="456.93" width="20" height="6.03" fill="#000" opacity="0.09" filter="url(#bs)"/>
<rect x="206" y="454.01" width="22" height="4.2" rx="2.1" fill="#000" opacity="0.61" filter="url(#bb)"/>
<rect x="230" y="451.99" width="22" height="8.24" fill="#000" opacity="0.07" filter="url(#bs)"/>
<rect x="231" y="456.93" width="20" height="6.03" fill="#000" opacity="0.1" filter="url(#bs)"/>
<rect x="230" y="453.8" width="22" height="4.61" rx="2.31" fill="#000" opacity="0.77" filter="url(#bb)"/>
</g>
<rect x="178.9" y="446.06" width="77.1" height="20.1" fill="none" stroke="#111" stroke-width="1.4"/>
<text x="87.3" y="481.28" font-size="10.1" text-anchor="end" fill="#1e1e1e">E-cadherin</text>
<rect x="95.9" y="469.28" width="76.9" height="20.1" fill="url(#blg)"/>
<g clip-path="url(#bc304)">
<rect x="100.5" y="475.21" width="22" height="8.24" fill="#000" opacity="0.07" filter="url(#bs)"/>
<rect x="101.5" y="480.15" width="20" height="6.03" fill="#000" opacity="0.1" filter="url(#bs)"/>
<rect x="100.5" y="477.02" width="22" height="4.61" rx="2.31" fill="#000" opacity="0.77" filter="url(#bb)"/>
<rect x="124.5" y="475.21" width="22" height="8.24" fill="#000" opacity="0.09" filter="url(#bs)"/>
<rect x="125.5" y="480.15" width="20" height="6.03" fill="#000" opacity="0.13" filter="url(#bs)"/>
<rect x="124.5" y="476.54" width="22" height="5.58" rx="2.79" fill="#000" opacity="1" filter="url(#bb)"/>
<rect x="148.5" y="475.21" width="22" height="8.24" fill="#000" opacity="0.08" filter="url(#bs)"/>
<rect x="149.5" y="480.15" width="20" height="6.03" fill="#000" opacity="0.12" filter="url(#bs)"/>
<rect x="148.5" y="476.72" width="22" height="5.22" rx="2.61" fill="#000" opacity="1" filter="url(#bb)"/>
</g>
<rect x="95.9" y="469.28" width="76.9" height="20.1" fill="none" stroke="#111" stroke-width="1.4"/>
<rect x="178.9" y="469.28" width="77.1" height="20.1" fill="url(#blg)"/>
<g clip-path="url(#bc324)">
<rect x="182.5" y="475.21" width="22" height="8.24" fill="#000" opacity="0.07" filter="url(#bs)"/>
<rect x="183.5" y="480.15" width="20" height="6.03" fill="#000" opacity="0.09" filter="url(#bs)"/>
<rect x="182.5" y="477.09" width="22" height="4.47" rx="2.24" fill="#000" opacity="0.71" filter="url(#bb)"/>
<rect x="206" y="475.21" width="22" height="8.24" fill="#000" opacity="0.08" filter="url(#bs)"/>
<rect x="207" y="480.15" width="20" height="6.03" fill="#000" opacity="0.11" filter="url(#bs)"/>
<rect x="206" y="476.77" width="22" height="5.11" rx="2.56" fill="#000" opacity="0.96" filter="url(#bb)"/>
<rect x="230" y="475.21" width="22" height="8.24" fill="#000" opacity="0.08" filter="url(#bs)"/>
<rect x="231" y="480.15" width="20" height="6.03" fill="#000" opacity="0.11" filter="url(#bs)"/>
<rect x="230" y="476.86" width="22" height="4.95" rx="2.47" fill="#000" opacity="0.9" filter="url(#bb)"/>
</g>
<rect x="178.9" y="469.28" width="77.1" height="20.1" fill="none" stroke="#111" stroke-width="1.4"/>
<text x="87.3" y="504.5" font-size="10.1" text-anchor="end" fill="#1e1e1e">Vimentin</text>
<rect x="95.9" y="492.5" width="76.9" height="20.1" fill="url(#blg)"/>
<g clip-path="url(#bc305)">
<rect x="100.5" y="498.43" width="22" height="8.24" fill="#000" opacity="0.08" filter="url(#bs)"/>
<rect x="101.5" y="503.37" width="20" height="6.03" fill="#000" opacity="0.12" filter="url(#bs)"/>
<rect x="100.5" y="499.9" width="22" height="5.31" rx="2.65" fill="#000" opacity="1" filter="url(#bb)"/>
<rect x="124.5" y="498.43" width="22" height="8.24" fill="#000" opacity="0.07" filter="url(#bs)"/>
<rect x="125.5" y="503.37" width="20" height="6.03" fill="#000" opacity="0.09" filter="url(#bs)"/>
<rect x="124.5" y="500.41" width="22" height="4.28" rx="2.14" fill="#000" opacity="0.64" filter="url(#bb)"/>
<rect x="148.5" y="498.43" width="22" height="8.24" fill="#000" opacity="0.08" filter="url(#bs)"/>
<rect x="149.5" y="503.37" width="20" height="6.03" fill="#000" opacity="0.11" filter="url(#bs)"/>
<rect x="148.5" y="500.11" width="22" height="4.89" rx="2.44" fill="#000" opacity="0.88" filter="url(#bb)"/>
</g>
<rect x="95.9" y="492.5" width="76.9" height="20.1" fill="none" stroke="#111" stroke-width="1.4"/>
<rect x="178.9" y="492.5" width="77.1" height="20.1" fill="url(#blg)"/>
<g clip-path="url(#bc325)">
<rect x="182.5" y="498.43" width="22" height="8.24" fill="#000" opacity="0.09" filter="url(#bs)"/>
<rect x="183.5" y="503.37" width="20" height="6.03" fill="#000" opacity="0.12" filter="url(#bs)"/>
<rect x="182.5" y="499.86" width="22" height="5.39" rx="2.69" fill="#000" opacity="1" filter="url(#bb)"/>
<rect x="206" y="498.43" width="22" height="8.24" fill="#000" opacity="0.07" filter="url(#bs)"/>
<rect x="207" y="503.37" width="20" height="6.03" fill="#000" opacity="0.09" filter="url(#bs)"/>
<rect x="206" y="500.41" width="22" height="4.28" rx="2.14" fill="#000" opacity="0.64" filter="url(#bb)"/>
<rect x="230" y="498.43" width="22" height="8.24" fill="#000" opacity="0.08" filter="url(#bs)"/>
<rect x="231" y="503.37" width="20" height="6.03" fill="#000" opacity="0.11" filter="url(#bs)"/>
<rect x="230" y="499.97" width="22" height="5.17" rx="2.58" fill="#000" opacity="0.98" filter="url(#bb)"/>
</g>
<rect x="178.9" y="492.5" width="77.1" height="20.1" fill="none" stroke="#111" stroke-width="1.4"/>
<text x="87.3" y="527.72" font-size="10.1" text-anchor="end" fill="#1e1e1e">GAPDH</text>
<rect x="95.9" y="515.72" width="76.9" height="20.1" fill="url(#blg)"/>
<g clip-path="url(#bc306)">
<rect x="100.5" y="521.65" width="22" height="8.24" fill="#000" opacity="0.09" filter="url(#bs)"/>
<rect x="101.5" y="526.59" width="20" height="6.03" fill="#000" opacity="0.13" filter="url(#bs)"/>
<rect x="100.5" y="522.91" width="22" height="5.72" rx="2.86" fill="#000" opacity="1" filter="url(#bb)"/>
<rect x="124.5" y="521.65" width="22" height="8.24" fill="#000" opacity="0.09" filter="url(#bs)"/>
<rect x="125.5" y="526.59" width="20" height="6.03" fill="#000" opacity="0.13" filter="url(#bs)"/>
<rect x="124.5" y="522.91" width="22" height="5.72" rx="2.86" fill="#000" opacity="1" filter="url(#bb)"/>
<rect x="148.5" y="521.65" width="22" height="8.24" fill="#000" opacity="0.09" filter="url(#bs)"/>
<rect x="149.5" y="526.59" width="20" height="6.03" fill="#000" opacity="0.13" filter="url(#bs)"/>
<rect x="148.5" y="522.91" width="22" height="5.72" rx="2.86" fill="#000" opacity="1" filter="url(#bb)"/>
</g>
<rect x="95.9" y="515.72" width="76.9" height="20.1" fill="none" stroke="#111" stroke-width="1.4"/>
<rect x="178.9" y="515.72" width="77.1" height="20.1" fill="url(#blg)"/>
<g clip-path="url(#bc326)">
<rect x="182.5" y="521.65" width="22" height="8.24" fill="#000" opacity="0.09" filter="url(#bs)"/>
<rect x="183.5" y="526.59" width="20" height="6.03" fill="#000" opacity="0.13" filter="url(#bs)"/>
<rect x="182.5" y="522.91" width="22" height="5.72" rx="2.86" fill="#000" opacity="1" filter="url(#bb)"/>
<rect x="206" y="521.65" width="22" height="8.24" fill="#000" opacity="0.09" filter="url(#bs)"/>
<rect x="207" y="526.59" width="20" height="6.03" fill="#000" opacity="0.13" filter="url(#bs)"/>
<rect x="206" y="522.91" width="22" height="5.72" rx="2.86" fill="#000" opacity="1" filter="url(#bb)"/>
<rect x="230" y="521.65" width="22" height="8.24" fill="#000" opacity="0.09" filter="url(#bs)"/>
<rect x="231" y="526.59" width="20" height="6.03" fill="#000" opacity="0.13" filter="url(#bs)"/>
<rect x="230" y="522.91" width="22" height="5.72" rx="2.86" fill="#000" opacity="1" filter="url(#bb)"/>
</g>
<rect x="178.9" y="515.72" width="77.1" height="20.1" fill="none" stroke="#111" stroke-width="1.4"/>
<text x="133.7" y="548.5" font-size="9.8" text-anchor="middle" fill="#1e1e1e">N3</text>
<text x="217.7" y="548.5" font-size="9.8" text-anchor="middle" fill="#1e1e1e">U87</text>
<text x="366.6" y="345.4" font-size="17" text-anchor="start" fill="#1e1e1e">F</text>
<text x="455.5" y="324.8" font-size="10.1" text-anchor="middle" fill="#1e1e1e">si-ctrl</text>
<text x="515.2" y="324.8" font-size="10.1" text-anchor="middle" fill="#1e1e1e">si-LIF#1</text>
<text x="572.4" y="324.8" font-size="10.1" text-anchor="middle" fill="#1e1e1e">si-LIF#2</text>
<text x="639.8" y="324.8" font-size="10.1" text-anchor="middle" fill="#1e1e1e">si-ctrl</text>
<text x="697.1" y="324.8" font-size="10.1" text-anchor="middle" fill="#1e1e1e">si-LIF#1</text>
<text x="756.2" y="324.8" font-size="10.1" text-anchor="middle" fill="#1e1e1e">si-LIF#2</text>
<rect x="428" y="327.3" width="57" height="57" fill="#030303"/>
<g clip-path="url(#fc400)">
<g filter="url(#fg)">
<path d="M430.8,344.1 Q435.72,353.06 452.4,356.1 Q441,343.54 430.8,344.1Z" fill="#1a681a" opacity="0.7"/>
<path d="M430.8,344.1 Q437.04,350.68 452.4,356.1 Q439.68,345.92 430.8,344.1Z" fill="#22aa22" opacity="0.42"/>
<path d="M442.8,382.3 Q459.27,369.22 466,349.3 Q449.53,362.38 442.8,382.3Z" fill="#1a681a" opacity="0.7"/>
<path d="M442.8,382.3 Q456.83,367.51 466,349.3 Q451.97,364.09 442.8,382.3Z" fill="#22aa22" opacity="0.42"/>
<path d="M458,363.3 Q474.58,349.68 479.5,335.8 Q467.22,343.92 458,363.3Z" fill="#1a681a" opacity="0.66"/>
<path d="M458,363.3 Q472.74,348.24 479.5,335.8 Q469.06,345.36 458,363.3Z" fill="#22aa22" opacity="0.4"/>
<path d="M464.4,373.9 Q480.2,364.53 481.2,352.1 Q469.43,356.23 464.4,373.9Z" fill="#1a681a" opacity="0.7"/>
<path d="M464.4,373.9 Q477.51,362.46 481.2,352.1 Q472.12,358.31 464.4,373.9Z" fill="#22aa22" opacity="0.42"/>
<ellipse cx="432.8" cy="369.7" rx="4" ry="3.6" fill="#2a8c2a" opacity="0.43"/>
</g>
</g>
<rect x="486.8" y="327.3" width="57" height="57" fill="#030303"/>
<g clip-path="url(#fc401)">
<g filter="url(#fg)">
<path d="M495.6,335.5 Q498.29,345.27 516.8,354.3 Q505.63,337.01 495.6,335.5Z" fill="#1a681a" opacity="0.7"/>
<path d="M495.6,335.5 Q500.13,343.21 516.8,354.3 Q503.79,339.07 495.6,335.5Z" fill="#22aa22" opacity="0.42"/>
<path d="M500.8,342.3 Q521.13,360.46 537.9,367.9 Q524.99,354.86 500.8,342.3Z" fill="#1a681a" opacity="0.66"/>
<path d="M500.8,342.3 Q522.09,359.06 537.9,367.9 Q524.03,356.26 500.8,342.3Z" fill="#22aa22" opacity="0.4"/>
<path d="M489.5,380.8 Q510.62,374.09 521.3,363.4 Q506.54,366.63 489.5,380.8Z" fill="#1a681a" opacity="0.62"/>
<path d="M489.5,380.8 Q509.6,372.22 521.3,363.4 Q507.56,368.5 489.5,380.8Z" fill="#22aa22" opacity="0.37"/>
<ellipse cx="539.8" cy="382.8" rx="5" ry="3" fill="#2a8c2a" opacity="0.78"/>
</g>
</g>
<rect x="545.7" y="327.3" width="57" height="57" fill="#030303"/>
<g clip-path="url(#fc402)">
<g filter="url(#fg)">
<path d="M547.7,347.6 Q548.99,359.72 566.6,379.3 Q557.75,354.5 547.7,347.6Z" fill="#1a681a" opacity="0.62"/>
<path d="M547.7,347.6 Q551.18,358.42 566.6,379.3 Q555.56,355.8 547.7,347.6Z" fill="#22aa22" opacity="0.37"/>
<path d="M569.6,379.3 Q598.24,349.57 600.6,337 Q589.32,343.04 569.6,379.3Z" fill="#1a681a" opacity="0.66"/>
<path d="M569.6,379.3 Q596.01,347.94 600.6,337 Q591.55,344.67 569.6,379.3Z" fill="#22aa22" opacity="0.4"/>
</g>
</g>
<rect x="612.3" y="327.3" width="57" height="57" fill="#030303"/>
<g clip-path="url(#fc403)">
<g filter="url(#fg)">
<path d="M627.2,329.4 Q630.71,341.52 655,344.4 Q639.26,325.68 627.2,329.4Z" fill="#1a681a" opacity="0.95"/>
<path d="M627.2,329.4 Q632.85,337.56 655,344.4 Q637.12,329.64 627.2,329.4Z" fill="#22aa22" opacity="0.83"/>
<path d="M614.5,339.9 Q635.24,351.62 664,351.9 Q638.31,338.98 614.5,339.9Z" fill="#1a681a" opacity="0.95"/>
<path d="M614.5,339.9 Q636.01,348.46 664,351.9 Q637.54,342.14 614.5,339.9Z" fill="#22aa22" opacity="0.83"/>
<path d="M629.5,362.4 Q634.04,378.61 650.4,382.6 Q645.86,366.39 629.5,362.4Z" fill="#1a681a" opacity="0.95"/>
<path d="M629.5,362.4 Q637,375.56 650.4,382.6 Q642.9,369.44 629.5,362.4Z" fill="#22aa22" opacity="0.83"/>
<path d="M647.3,381.3 Q653.54,383.48 668.3,381.9 Q653.66,379.48 647.3,381.3Z" fill="#1a681a" opacity="0.6"/>
<path d="M647.3,381.3 Q653.57,382.48 668.3,381.9 Q653.63,380.48 647.3,381.3Z" fill="#22aa22" opacity="0.52"/>
</g>
</g>
<rect x="671" y="327.3" width="57" height="57" fill="#030303"/>
<g clip-path="url(#fc404)">
<g filter="url(#fg)">
<path d="M681.9,345.1 Q699.42,353.73 717.9,347.4 Q700.38,338.77 681.9,345.1Z" fill="#1a681a" opacity="0.95"/>
<path d="M681.9,345.1 Q699.66,349.99 717.9,347.4 Q700.14,342.51 681.9,345.1Z" fill="#22aa22" opacity="0.83"/>
<path d="M690.9,353.4 Q704.2,362.21 720.9,354.1 Q704.6,345.22 690.9,353.4Z" fill="#1a681a" opacity="0.95"/>
<path d="M690.9,353.4 Q704.3,357.96 720.9,354.1 Q704.5,349.47 690.9,353.4Z" fill="#22aa22" opacity="0.83"/>
<path d="M693.9,354.9 Q694.21,368.24 710.4,375.9 Q706.79,358.36 693.9,354.9Z" fill="#1a681a" opacity="0.95"/>
<path d="M693.9,354.9 Q697.35,365.77 710.4,375.9 Q703.65,360.83 693.9,354.9Z" fill="#22aa22" opacity="0.83"/>
<path d="M672.2,372.9 Q683.85,377.43 692.4,368.3 Q680.75,363.77 672.2,372.9Z" fill="#1a681a" opacity="0.95"/>
<path d="M672.2,372.9 Q683.08,374.01 692.4,368.3 Q681.52,367.19 672.2,372.9Z" fill="#22aa22" opacity="0.83"/>
</g>
</g>
<rect x="729.6" y="327.3" width="57" height="57" fill="#030303"/>
<g clip-path="url(#fc405)">
<g filter="url(#fg)">
<path d="M757.6,329 Q747.89,338.88 754.3,349.3 Q763.68,341.45 757.6,329Z" fill="#1a681a" opacity="0.9"/>
<path d="M757.6,329 Q751.84,339.52 754.3,349.3 Q759.73,340.81 757.6,329Z" fill="#22aa22" opacity="0.78"/>
<path d="M759.2,335.5 Q753.2,351.21 759.2,370.4 Q765.2,351.21 759.2,335.5Z" fill="#1a681a" opacity="0.9"/>
<path d="M759.2,335.5 Q756.2,351.21 759.2,370.4 Q762.2,351.21 759.2,335.5Z" fill="#22aa22" opacity="0.78"/>
<path d="M747.8,377.7 Q763.89,381.37 773,370.4 Q759.43,366 747.8,377.7Z" fill="#1a681a" opacity="0.95"/>
<path d="M747.8,377.7 Q762.77,377.53 773,370.4 Q760.55,369.84 747.8,377.7Z" fill="#22aa22" opacity="0.83"/>
<ellipse cx="781.1" cy="332.8" rx="4.5" ry="1.8" fill="#2a8c2a" opacity="0.7"/>
</g>
</g>
<rect x="428" y="385.7" width="57" height="57" fill="#030303"/>
<g clip-path="url(#fc410)">
<g filter="url(#fn)">
<ellipse cx="440.6" cy="410" rx="2.3" ry="1.9" fill="#c42020" opacity="0.75"/>
<ellipse cx="469.8" cy="407.7" rx="2.3" ry="1.9" fill="#c42020" opacity="0.68"/>
<ellipse cx="475.4" cy="417" rx="2.3" ry="1.9" fill="#c42020" opacity="0.6"/>
<ellipse cx="451.2" cy="428.8" rx="2.3" ry="1.9" fill="#c42020" opacity="0.68"/>
</g>
</g>
<rect x="486.8" y="385.7" width="57" height="57" fill="#030303"/>
<g clip-path="url(#fc411)">
<g filter="url(#fn)">
<ellipse cx="504.7" cy="403.2" rx="2.3" ry="1.9" fill="#c42020" opacity="0.22"/>
<ellipse cx="524.2" cy="419.4" rx="2.3" ry="1.9" fill="#c42020" opacity="0.45"/>
<ellipse cx="514" cy="427.2" rx="2.3" ry="1.9" fill="#c42020" opacity="0.45"/>
</g>
</g>
<rect x="545.7" y="385.7" width="57" height="57" fill="#030303"/>
<g clip-path="url(#fc412)">
<g filter="url(#fn)">
<ellipse cx="553.4" cy="417.1" rx="2.3" ry="1.9" fill="#c42020" opacity="0.52"/>
<ellipse cx="596.8" cy="403.7" rx="2.3" ry="1.9" fill="#c42020" opacity="0.22"/>
<ellipse cx="578.4" cy="432.4" rx="2.3" ry="1.9" fill="#c42020" opacity="0.64"/>
</g>
</g>
<rect x="612.3" y="385.7" width="57" height="57" fill="#030303"/>
<g clip-path="url(#fc413)">
<g filter="url(#fn)">
<ellipse cx="637" cy="394.8" rx="2.3" ry="1.9" fill="#c42020" opacity="0.45"/>
<ellipse cx="632.5" cy="403.8" rx="2.3" ry="1.9" fill="#c42020" opacity="0.6"/>
<ellipse cx="643.7" cy="430.7" rx="2.3" ry="1.9" fill="#c42020" opacity="0.52"/>
</g>
</g>
<rect x="671" y="385.7" width="57" height="57" fill="#030303"/>
<g clip-path="url(#fc414)">
<g filter="url(#fn)">
<ellipse cx="702.1" cy="403.8" rx="2.3" ry="1.9" fill="#c42020" opacity="0.26"/>
<ellipse cx="709.3" cy="410.9" rx="2.3" ry="1.9" fill="#c42020" opacity="0.15"/>
<ellipse cx="701" cy="424" rx="2.3" ry="1.9" fill="#c42020" opacity="0.41"/>
<ellipse cx="685.3" cy="429.6" rx="2.3" ry="1.9" fill="#c42020" opacity="0.38"/>
</g>
</g>
<rect x="729.6" y="385.7" width="57" height="57" fill="#030303"/>
<g clip-path="url(#fc415)">
<g filter="url(#fn)">
<ellipse cx="755" cy="402.6" rx="2.3" ry="1.9" fill="#c42020" opacity="0.38"/>
<ellipse cx="762.8" cy="410.5" rx="2.3" ry="1.9" fill="#c42020" opacity="0.45"/>
<ellipse cx="759.4" cy="434.1" rx="2.3" ry="1.9" fill="#c42020" opacity="0.52"/>
</g>
</g>
<rect x="428" y="445" width="57" height="57" fill="#030303"/>
<g clip-path="url(#fc420)">
<g filter="url(#fn)">
<ellipse cx="440.6" cy="469.3" rx="2.3" ry="1.9" fill="#2a2ae8" opacity="0.95"/>
<ellipse cx="469.8" cy="467" rx="2.3" ry="1.9" fill="#2a2ae8" opacity="0.95"/>
<ellipse cx="475.4" cy="476.3" rx="2.3" ry="1.9" fill="#2a2ae8" opacity="0.95"/>
<ellipse cx="451.2" cy="488.1" rx="2.3" ry="1.9" fill="#2a2ae8" opacity="0.95"/>
</g>
</g>
<rect x="486.8" y="445" width="57" height="57" fill="#030303"/>
<g clip-path="url(#fc421)">
<g filter="url(#fn)">
<ellipse cx="504.7" cy="462.5" rx="2.3" ry="1.9" fill="#2a2ae8" opacity="0.8"/>
<ellipse cx="524.2" cy="478.7" rx="2.3" ry="1.9" fill="#2a2ae8" opacity="0.9"/>
<ellipse cx="514" cy="486.5" rx="2.3" ry="1.9" fill="#2a2ae8" opacity="0.9"/>
</g>
</g>
<rect x="545.7" y="445" width="57" height="57" fill="#030303"/>
<g clip-path="url(#fc422)">
<g filter="url(#fn)">
<ellipse cx="553.4" cy="476.4" rx="2.3" ry="1.9" fill="#2a2ae8" opacity="0.8"/>
<ellipse cx="596.8" cy="463" rx="2.3" ry="1.9" fill="#2a2ae8" opacity="0.95"/>
<ellipse cx="578.4" cy="491.7" rx="2.3" ry="1.9" fill="#2a2ae8" opacity="0.8"/>
</g>
</g>
<rect x="612.3" y="445" width="57" height="57" fill="#030303"/>
<g clip-path="url(#fc423)">
<g filter="url(#fn)">
<ellipse cx="637" cy="454.1" rx="2.3" ry="1.9" fill="#2a2ae8" opacity="0.8"/>
<ellipse cx="632.5" cy="463.1" rx="2.3" ry="1.9" fill="#2a2ae8" opacity="0.9"/>
<ellipse cx="643.7" cy="490" rx="2.3" ry="1.9" fill="#2a2ae8" opacity="0.6"/>
</g>
</g>
<rect x="671" y="445" width="57" height="57" fill="#030303"/>
<g clip-path="url(#fc424)">
<g filter="url(#fn)">
<ellipse cx="702.1" cy="463.1" rx="2.3" ry="1.9" fill="#2a2ae8" opacity="0.8"/>
<ellipse cx="709.3" cy="470.2" rx="2.3" ry="1.9" fill="#2a2ae8" opacity="0.7"/>
<ellipse cx="701" cy="483.3" rx="2.3" ry="1.9" fill="#2a2ae8" opacity="0.85"/>
<ellipse cx="685.3" cy="488.9" rx="2.3" ry="1.9" fill="#2a2ae8" opacity="0.85"/>
</g>
</g>
<rect x="729.6" y="445" width="57" height="57" fill="#030303"/>
<g clip-path="url(#fc425)">
<g filter="url(#fn)">
<ellipse cx="755" cy="461.9" rx="2.3" ry="1.9" fill="#2a2ae8" opacity="0.9"/>
<ellipse cx="762.8" cy="469.8" rx="2.3" ry="1.9" fill="#2a2ae8" opacity="0.9"/>
<ellipse cx="759.4" cy="493.4" rx="2.3" ry="1.9" fill="#2a2ae8" opacity="0.8"/>
<ellipse cx="782" cy="451.3" rx="2.3" ry="1.9" fill="#2a2ae8" opacity="1"/>
</g>
</g>
<rect x="428" y="503.7" width="57" height="57" fill="#030303"/>
<g clip-path="url(#fc430)">
<g filter="url(#fn)">
<ellipse cx="440.6" cy="528" rx="2.3" ry="1.9" fill="#7a2ad8" opacity="0.95"/>
<ellipse cx="469.8" cy="525.7" rx="2.3" ry="1.9" fill="#7a2ad8" opacity="0.95"/>
<ellipse cx="475.4" cy="535" rx="2.3" ry="1.9" fill="#7a2ad8" opacity="0.95"/>
<ellipse cx="451.2" cy="546.8" rx="2.3" ry="1.9" fill="#7a2ad8" opacity="0.95"/>
</g>
</g>
<rect x="486.8" y="503.7" width="57" height="57" fill="#030303"/>
<g clip-path="url(#fc431)">
<g filter="url(#fn)">
<ellipse cx="504.7" cy="521.2" rx="2.3" ry="1.9" fill="#3a2ae0" opacity="0.8"/>
<ellipse cx="524.2" cy="537.4" rx="2.3" ry="1.9" fill="#7a2ad8" opacity="0.9"/>
<ellipse cx="514" cy="545.2" rx="2.3" ry="1.9" fill="#7a2ad8" opacity="0.9"/>
</g>
</g>
<rect x="545.7" y="503.7" width="57" height="57" fill="#030303"/>
<g clip-path="url(#fc432)">
<g filter="url(#fn)">
<ellipse cx="553.4" cy="535.1" rx="2.3" ry="1.9" fill="#7a2ad8" opacity="0.8"/>
<ellipse cx="596.8" cy="521.7" rx="2.3" ry="1.9" fill="#3a2ae0" opacity="0.95"/>
<ellipse cx="578.4" cy="550.4" rx="2.3" ry="1.9" fill="#7a2ad8" opacity="0.8"/>
</g>
</g>
<rect x="612.3" y="503.7" width="57" height="57" fill="#030303"/>
<g clip-path="url(#fc433)">
<g filter="url(#fn)">
<ellipse cx="637" cy="512.8" rx="2.3" ry="1.9" fill="#7a2ad8" opacity="0.8"/>
<ellipse cx="632.5" cy="521.8" rx="2.3" ry="1.9" fill="#7a2ad8" opacity="0.9"/>
<ellipse cx="643.7" cy="548.7" rx="2.3" ry="1.9" fill="#7a2ad8" opacity="0.6"/>
</g>
</g>
<rect x="671" y="503.7" width="57" height="57" fill="#030303"/>
<g clip-path="url(#fc434)">
<g filter="url(#fn)">
<ellipse cx="702.1" cy="521.8" rx="2.3" ry="1.9" fill="#7a2ad8" opacity="0.8"/>
<ellipse cx="709.3" cy="528.9" rx="2.3" ry="1.9" fill="#3a2ae0" opacity="0.7"/>
<ellipse cx="701" cy="542" rx="2.3" ry="1.9" fill="#7a2ad8" opacity="0.85"/>
<ellipse cx="685.3" cy="547.6" rx="2.3" ry="1.9" fill="#7a2ad8" opacity="0.85"/>
</g>
</g>
<rect x="729.6" y="503.7" width="57" height="57" fill="#030303"/>
<g clip-path="url(#fc435)">
<g filter="url(#fn)">
<ellipse cx="755" cy="520.6" rx="2.3" ry="1.9" fill="#7a2ad8" opacity="0.9"/>
<ellipse cx="762.8" cy="528.5" rx="2.3" ry="1.9" fill="#7a2ad8" opacity="0.9"/>
<ellipse cx="759.4" cy="552.1" rx="2.3" ry="1.9" fill="#7a2ad8" opacity="0.8"/>
<ellipse cx="782" cy="510" rx="2.3" ry="1.9" fill="#3a2ae0" opacity="1"/>
</g>
</g>
<rect x="428" y="562" width="57" height="57" fill="#030303"/>
<g clip-path="url(#fc440)">
<g filter="url(#fg)">
<path d="M430.8,578.8 Q435.72,587.76 452.4,590.8 Q441,578.24 430.8,578.8Z" fill="#1a681a" opacity="0.7"/>
<path d="M430.8,578.8 Q437.04,585.38 452.4,590.8 Q439.68,580.62 430.8,578.8Z" fill="#22aa22" opacity="0.42"/>
<path d="M442.8,617 Q459.27,603.92 466,584 Q449.53,597.08 442.8,617Z" fill="#1a681a" opacity="0.7"/>
<path d="M442.8,617 Q456.83,602.21 466,584 Q451.97,598.79 442.8,617Z" fill="#22aa22" opacity="0.42"/>
<path d="M458,598 Q474.58,584.38 479.5,570.5 Q467.22,578.62 458,598Z" fill="#1a681a" opacity="0.66"/>
<path d="M458,598 Q472.74,582.94 479.5,570.5 Q469.06,580.06 458,598Z" fill="#22aa22" opacity="0.4"/>
<path d="M464.4,608.6 Q480.2,599.23 481.2,586.8 Q469.43,590.93 464.4,608.6Z" fill="#1a681a" opacity="0.7"/>
<path d="M464.4,608.6 Q477.51,597.16 481.2,586.8 Q472.12,593.01 464.4,608.6Z" fill="#22aa22" opacity="0.42"/>
<ellipse cx="432.8" cy="604.4" rx="4" ry="3.6" fill="#2a8c2a" opacity="0.43"/>
</g>
<g filter="url(#fn)">
<ellipse cx="440.6" cy="586.3" rx="2.7" ry="2" fill="#5a78e8" opacity="0.95"/>
<ellipse cx="469.8" cy="584" rx="2.7" ry="2" fill="#5a78e8" opacity="0.95"/>
<ellipse cx="475.4" cy="593.3" rx="2.7" ry="2" fill="#5a78e8" opacity="0.95"/>
<ellipse cx="451.2" cy="605.1" rx="2.7" ry="2" fill="#5a78e8" opacity="0.95"/>
</g>
</g>
<rect x="486.8" y="562" width="57" height="57" fill="#030303"/>
<g clip-path="url(#fc441)">
<g filter="url(#fg)">
<path d="M495.6,570.2 Q498.29,579.97 516.8,589 Q505.63,571.71 495.6,570.2Z" fill="#1a681a" opacity="0.7"/>
<path d="M495.6,570.2 Q500.13,577.91 516.8,589 Q503.79,573.77 495.6,570.2Z" fill="#22aa22" opacity="0.42"/>
<path d="M500.8,577 Q521.13,595.16 537.9,602.6 Q524.99,589.56 500.8,577Z" fill="#1a681a" opacity="0.66"/>
<path d="M500.8,577 Q522.09,593.76 537.9,602.6 Q524.03,590.96 500.8,577Z" fill="#22aa22" opacity="0.4"/>
<path d="M489.5,615.5 Q510.62,608.79 521.3,598.1 Q506.54,601.33 489.5,615.5Z" fill="#1a681a" opacity="0.62"/>
<path d="M489.5,615.5 Q509.6,606.92 521.3,598.1 Q507.56,603.2 489.5,615.5Z" fill="#22aa22" opacity="0.37"/>
<ellipse cx="539.8" cy="617.5" rx="5" ry="3" fill="#2a8c2a" opacity="0.78"/>
</g>
<g filter="url(#fn)">
<ellipse cx="504.7" cy="579.5" rx="2.7" ry="2" fill="#5a78e8" opacity="0.8"/>
<ellipse cx="524.2" cy="595.7" rx="2.7" ry="2" fill="#5a78e8" opacity="0.9"/>
<ellipse cx="514" cy="603.5" rx="2.7" ry="2" fill="#5a78e8" opacity="0.9"/>
</g>
</g>
<rect x="545.7" y="562" width="57" height="57" fill="#030303"/>
<g clip-path="url(#fc442)">
<g filter="url(#fg)">
<path d="M547.7,582.3 Q548.99,594.42 566.6,614 Q557.75,589.2 547.7,582.3Z" fill="#1a681a" opacity="0.62"/>
<path d="M547.7,582.3 Q551.18,593.12 566.6,614 Q555.56,590.5 547.7,582.3Z" fill="#22aa22" opacity="0.37"/>
<path d="M569.6,614 Q598.24,584.27 600.6,571.7 Q589.32,577.74 569.6,614Z" fill="#1a681a" opacity="0.66"/>
<path d="M569.6,614 Q596.01,582.64 600.6,571.7 Q591.55,579.37 569.6,614Z" fill="#22aa22" opacity="0.4"/>
</g>
<g filter="url(#fn)">
<ellipse cx="553.4" cy="593.4" rx="2.7" ry="2" fill="#5a78e8" opacity="0.8"/>
<ellipse cx="596.8" cy="580" rx="2.7" ry="2" fill="#5a78e8" opacity="0.95"/>
<ellipse cx="578.4" cy="608.7" rx="2.7" ry="2" fill="#5a78e8" opacity="0.8"/>
</g>
</g>
<rect x="612.3" y="562" width="57" height="57" fill="#030303"/>
<g clip-path="url(#fc443)">
<g filter="url(#fg)">
<path d="M627.2,564.1 Q630.71,576.22 655,579.1 Q639.26,560.38 627.2,564.1Z" fill="#1a681a" opacity="0.95"/>
<path d="M627.2,564.1 Q632.85,572.26 655,579.1 Q637.12,564.34 627.2,564.1Z" fill="#22aa22" opacity="0.83"/>
<path d="M614.5,574.6 Q635.24,586.32 664,586.6 Q638.31,573.68 614.5,574.6Z" fill="#1a681a" opacity="0.95"/>
<path d="M614.5,574.6 Q636.01,583.16 664,586.6 Q637.54,576.84 614.5,574.6Z" fill="#22aa22" opacity="0.83"/>
<path d="M629.5,597.1 Q634.04,613.31 650.4,617.3 Q645.86,601.09 629.5,597.1Z" fill="#1a681a" opacity="0.95"/>
<path d="M629.5,597.1 Q637,610.26 650.4,617.3 Q642.9,604.14 629.5,597.1Z" fill="#22aa22" opacity="0.83"/>
<path d="M647.3,616 Q653.54,618.18 668.3,616.6 Q653.66,614.18 647.3,616Z" fill="#1a681a" opacity="0.6"/>
<path d="M647.3,616 Q653.57,617.18 668.3,616.6 Q653.63,615.18 647.3,616Z" fill="#22aa22" opacity="0.52"/>
</g>
<g filter="url(#fn)">
<ellipse cx="637" cy="571.1" rx="2.7" ry="2" fill="#5a78e8" opacity="0.8"/>
<ellipse cx="632.5" cy="580.1" rx="2.7" ry="2" fill="#5a78e8" opacity="0.9"/>
<ellipse cx="643.7" cy="607" rx="2.7" ry="2" fill="#5a78e8" opacity="0.6"/>
</g>
</g>
<rect x="671" y="562" width="57" height="57" fill="#030303"/>
<g clip-path="url(#fc444)">
<g filter="url(#fg)">
<path d="M681.9,579.8 Q699.42,588.43 717.9,582.1 Q700.38,573.47 681.9,579.8Z" fill="#1a681a" opacity="0.95"/>
<path d="M681.9,579.8 Q699.66,584.69 717.9,582.1 Q700.14,577.21 681.9,579.8Z" fill="#22aa22" opacity="0.83"/>
<path d="M690.9,588.1 Q704.2,596.91 720.9,588.8 Q704.6,579.92 690.9,588.1Z" fill="#1a681a" opacity="0.95"/>
<path d="M690.9,588.1 Q704.3,592.66 720.9,588.8 Q704.5,584.17 690.9,588.1Z" fill="#22aa22" opacity="0.83"/>
<path d="M693.9,589.6 Q694.21,602.94 710.4,610.6 Q706.79,593.06 693.9,589.6Z" fill="#1a681a" opacity="0.95"/>
<path d="M693.9,589.6 Q697.35,600.47 710.4,610.6 Q703.65,595.53 693.9,589.6Z" fill="#22aa22" opacity="0.83"/>
<path d="M672.2,607.6 Q683.85,612.13 692.4,603 Q680.75,598.47 672.2,607.6Z" fill="#1a681a" opacity="0.95"/>
<path d="M672.2,607.6 Q683.08,608.71 692.4,603 Q681.52,601.89 672.2,607.6Z" fill="#22aa22" opacity="0.83"/>
</g>
<g filter="url(#fn)">
<ellipse cx="702.1" cy="580.1" rx="2.7" ry="2" fill="#5a78e8" opacity="0.8"/>
<ellipse cx="709.3" cy="587.2" rx="2.7" ry="2" fill="#5a78e8" opacity="0.7"/>
<ellipse cx="701" cy="600.3" rx="2.7" ry="2" fill="#5a78e8" opacity="0.85"/>
<ellipse cx="685.3" cy="605.9" rx="2.7" ry="2" fill="#5a78e8" opacity="0.85"/>
</g>
</g>
<rect x="729.6" y="562" width="57" height="57" fill="#030303"/>
<g clip-path="url(#fc445)">
<g filter="url(#fg)">
<path d="M757.6,563.7 Q747.89,573.58 754.3,584 Q763.68,576.15 757.6,563.7Z" fill="#1a681a" opacity="0.9"/>
<path d="M757.6,563.7 Q751.84,574.22 754.3,584 Q759.73,575.51 757.6,563.7Z" fill="#22aa22" opacity="0.78"/>
<path d="M759.2,570.2 Q753.2,585.91 759.2,605.1 Q765.2,585.91 759.2,570.2Z" fill="#1a681a" opacity="0.9"/>
<path d="M759.2,570.2 Q756.2,585.91 759.2,605.1 Q762.2,585.91 759.2,570.2Z" fill="#22aa22" opacity="0.78"/>
<path d="M747.8,612.4 Q763.89,616.07 773,605.1 Q759.43,600.7 747.8,612.4Z" fill="#1a681a" opacity="0.95"/>
<path d="M747.8,612.4 Q762.77,612.23 773,605.1 Q760.55,604.54 747.8,612.4Z" fill="#22aa22" opacity="0.83"/>
<ellipse cx="781.1" cy="567.5" rx="4.5" ry="1.8" fill="#2a8c2a" opacity="0.7"/>
</g>
<g filter="url(#fn)">
<ellipse cx="755" cy="578.9" rx="2.7" ry="2" fill="#5a78e8" opacity="0.9"/>
<ellipse cx="762.8" cy="586.8" rx="2.7" ry="2" fill="#5a78e8" opacity="0.9"/>
<ellipse cx="759.4" cy="610.4" rx="2.7" ry="2" fill="#5a78e8" opacity="0.8"/>
<ellipse cx="782" cy="568.3" rx="2.7" ry="2" fill="#2a3ae8" opacity="1"/>
</g>
</g>
<text x="420.8" y="357.2" font-size="10.8" text-anchor="middle" fill="#1e1e1e" transform="rotate(-90 420.8 357.2)">GFAP</text>
<text x="420.8" y="414.2" font-size="10" text-anchor="middle" fill="#1e1e1e" transform="rotate(-90 420.8 414.2)">p-STAT3</text>
<text x="420.8" y="475" font-size="10.2" text-anchor="middle" fill="#1e1e1e" transform="rotate(-90 420.8 475)">DAPI</text>
<text x="420.8" y="591.3" font-size="10.2" text-anchor="middle" fill="#1e1e1e" transform="rotate(-90 420.8 591.3)">Merge</text>
<text x="412.2" y="549.6" font-size="10" text-anchor="start" fill="#1e1e1e" transform="rotate(-90 412.2 549.6)">p-STAT3</text>
<text x="423.5" y="549.6" font-size="10.2" text-anchor="start" fill="#1e1e1e" transform="rotate(-90 423.5 549.6)">+DAPI</text>
<text x="514" y="632" font-size="9.8" text-anchor="middle" fill="#1e1e1e">N3</text>
<text x="700" y="632" font-size="9.8" text-anchor="middle" fill="#1e1e1e">U87</text>
<text x="27.4" y="654.7" font-size="16.5" text-anchor="start" fill="#1e1e1e">G</text>
<text x="121.6" y="655.2" font-size="9.8" text-anchor="end" fill="#1e1e1e">sh-NC</text>
<line x1="139.4" y1="652" x2="143.8" y2="652" stroke="#333" stroke-width="1"/>
<line x1="141.6" y1="649.8" x2="141.6" y2="654.2" stroke="#333" stroke-width="1"/>
<line x1="163.5" y1="649.9" x2="168.9" y2="649.9" stroke="#222" stroke-width="1.5"/>
<line x1="190.9" y1="652" x2="195.3" y2="652" stroke="#333" stroke-width="1"/>
<line x1="193.1" y1="649.8" x2="193.1" y2="654.2" stroke="#333" stroke-width="1"/>
<line x1="215.6" y1="649.9" x2="221" y2="649.9" stroke="#222" stroke-width="1.5"/>
<line x1="249.5" y1="652" x2="253.9" y2="652" stroke="#333" stroke-width="1"/>
<line x1="251.7" y1="649.8" x2="251.7" y2="654.2" stroke="#333" stroke-width="1"/>
<line x1="275.3" y1="649.9" x2="280.7" y2="649.9" stroke="#222" stroke-width="1.5"/>
<line x1="300.7" y1="652" x2="305.1" y2="652" stroke="#333" stroke-width="1"/>
<line x1="302.9" y1="649.8" x2="302.9" y2="654.2" stroke="#333" stroke-width="1"/>
<line x1="324.7" y1="649.9" x2="330.1" y2="649.9" stroke="#222" stroke-width="1.5"/>
<text x="121.6" y="669.8" font-size="9.8" text-anchor="end" fill="#1e1e1e">sh-LBX2-AS1</text>
<line x1="138.9" y1="663.6" x2="144.3" y2="663.6" stroke="#222" stroke-width="1.5"/>
<line x1="164" y1="665.4" x2="168.4" y2="665.4" stroke="#333" stroke-width="1"/>
<line x1="166.2" y1="663.2" x2="166.2" y2="667.6" stroke="#333" stroke-width="1"/>
<line x1="190.4" y1="663.6" x2="195.8" y2="663.6" stroke="#222" stroke-width="1.5"/>
<line x1="216.1" y1="665.4" x2="220.5" y2="665.4" stroke="#333" stroke-width="1"/>
<line x1="218.3" y1="663.2" x2="218.3" y2="667.6" stroke="#333" stroke-width="1"/>
<line x1="249" y1="663.6" x2="254.4" y2="663.6" stroke="#222" stroke-width="1.5"/>
<line x1="275.8" y1="665.4" x2="280.2" y2="665.4" stroke="#333" stroke-width="1"/>
<line x1="278" y1="663.2" x2="278" y2="667.6" stroke="#333" stroke-width="1"/>
<line x1="300.2" y1="663.6" x2="305.6" y2="663.6" stroke="#222" stroke-width="1.5"/>
<line x1="325.2" y1="665.4" x2="329.6" y2="665.4" stroke="#333" stroke-width="1"/>
<line x1="327.4" y1="663.2" x2="327.4" y2="667.6" stroke="#333" stroke-width="1"/>
<text x="119.7" y="682.8" font-size="9.9" text-anchor="end" fill="#1e1e1e">miR-491-5p inhibitor</text>
<line x1="138.9" y1="679.8" x2="144.3" y2="679.8" stroke="#222" stroke-width="1.5"/>
<line x1="163.5" y1="679.8" x2="168.9" y2="679.8" stroke="#222" stroke-width="1.5"/>
<line x1="190.9" y1="678.5" x2="195.3" y2="678.5" stroke="#333" stroke-width="1"/>
<line x1="193.1" y1="676.3" x2="193.1" y2="680.7" stroke="#333" stroke-width="1"/>
<line x1="216.1" y1="678.5" x2="220.5" y2="678.5" stroke="#333" stroke-width="1"/>
<line x1="218.3" y1="676.3" x2="218.3" y2="680.7" stroke="#333" stroke-width="1"/>
<line x1="249" y1="679.8" x2="254.4" y2="679.8" stroke="#222" stroke-width="1.5"/>
<line x1="275.3" y1="679.8" x2="280.7" y2="679.8" stroke="#222" stroke-width="1.5"/>
<line x1="300.7" y1="678.5" x2="305.1" y2="678.5" stroke="#333" stroke-width="1"/>
<line x1="302.9" y1="676.3" x2="302.9" y2="680.7" stroke="#333" stroke-width="1"/>
<line x1="325.2" y1="678.5" x2="329.6" y2="678.5" stroke="#333" stroke-width="1"/>
<line x1="327.4" y1="676.3" x2="327.4" y2="680.7" stroke="#333" stroke-width="1"/>
<text x="122.4" y="707.41" font-size="9.8" text-anchor="end" fill="#1e1e1e">LIF</text>
<rect x="129.3" y="689.5" width="103.2" height="24.4" fill="url(#blg)"/>
<g clip-path="url(#bc500)">
<rect x="132.55" y="698.41" width="21.5" height="10" fill="#000" opacity="0.07" filter="url(#bs)"/>
<rect x="133.55" y="704.41" width="19.5" height="7.32" fill="#000" opacity="0.1" filter="url(#bs)"/>
<rect x="132.55" y="700.91" width="21.5" height="5" rx="2.5" fill="#000" opacity="0.77" filter="url(#bb)"/>
<rect x="158.25" y="698.41" width="21.5" height="10" fill="#000" opacity="0.07" filter="url(#bs)"/>
<rect x="159.25" y="704.41" width="19.5" height="7.32" fill="#000" opacity="0.08" filter="url(#bs)"/>
<rect x="158.25" y="701.21" width="21.5" height="4.4" rx="2.2" fill="#000" opacity="0.55" filter="url(#bb)"/>
<rect x="184.25" y="698.41" width="21.5" height="10" fill="#000" opacity="0.09" filter="url(#bs)"/>
<rect x="185.25" y="704.41" width="19.5" height="7.32" fill="#000" opacity="0.12" filter="url(#bs)"/>
<rect x="184.25" y="700.43" width="21.5" height="5.96" rx="2.98" fill="#000" opacity="1" filter="url(#bb)"/>
<rect x="208.75" y="698.41" width="21.5" height="10" fill="#000" opacity="0.07" filter="url(#bs)"/>
<rect x="209.75" y="704.41" width="19.5" height="7.32" fill="#000" opacity="0.09" filter="url(#bs)"/>
<rect x="208.75" y="700.98" width="21.5" height="4.85" rx="2.43" fill="#000" opacity="0.71" filter="url(#bb)"/>
</g>
<rect x="129.3" y="689.5" width="103.2" height="24.4" fill="none" stroke="#111" stroke-width="1.4"/>
<rect x="239.4" y="689.5" width="103" height="24.4" fill="url(#blg)"/>
<g clip-path="url(#bc520)">
<rect x="242.45" y="698.41" width="21.5" height="10" fill="#000" opacity="0.08" filter="url(#bs)"/>
<rect x="243.45" y="704.41" width="19.5" height="7.32" fill="#000" opacity="0.1" filter="url(#bs)"/>
<rect x="242.45" y="700.83" width="21.5" height="5.15" rx="2.58" fill="#000" opacity="0.82" filter="url(#bb)"/>
<rect x="266.85" y="698.41" width="21.5" height="10" fill="#000" opacity="0.06" filter="url(#bs)"/>
<rect x="267.85" y="704.41" width="19.5" height="7.32" fill="#000" opacity="0.08" filter="url(#bs)"/>
<rect x="266.85" y="701.28" width="21.5" height="4.25" rx="2.12" fill="#000" opacity="0.5" filter="url(#bb)"/>
<rect x="292.05" y="698.41" width="21.5" height="10" fill="#000" opacity="0.09" filter="url(#bs)"/>
<rect x="293.05" y="704.41" width="19.5" height="7.32" fill="#000" opacity="0.12" filter="url(#bs)"/>
<rect x="292.05" y="700.43" width="21.5" height="5.96" rx="2.98" fill="#000" opacity="1" filter="url(#bb)"/>
<rect x="317.65" y="698.41" width="21.5" height="10" fill="#000" opacity="0.07" filter="url(#bs)"/>
<rect x="318.65" y="704.41" width="19.5" height="7.32" fill="#000" opacity="0.1" filter="url(#bs)"/>
<rect x="317.65" y="700.91" width="21.5" height="5" rx="2.5" fill="#000" opacity="0.77" filter="url(#bb)"/>
</g>
<rect x="239.4" y="689.5" width="103" height="24.4" fill="none" stroke="#111" stroke-width="1.4"/>
<text x="122.4" y="732.05" font-size="9.8" text-anchor="end" fill="#1e1e1e">t-STAT3</text>
<rect x="129.3" y="717.8" width="103.2" height="24.4" fill="url(#blg)"/>
<g clip-path="url(#bc501)">
<rect x="132.55" y="723.05" width="21.5" height="10" fill="#000" opacity="0.09" filter="url(#bs)"/>
<rect x="133.55" y="729.05" width="19.5" height="7.32" fill="#000" opacity="0.12" filter="url(#bs)"/>
<rect x="133.55" y="731.05" width="19.5" height="4.2" rx="1.5" fill="#000" opacity="0.36" filter="url(#bs)"/>
<rect x="132.55" y="725.69" width="21.5" height="4.72" rx="2.36" fill="#000" opacity="1" filter="url(#bb)"/>
<rect x="158.25" y="723.05" width="21.5" height="10" fill="#000" opacity="0.09" filter="url(#bs)"/>
<rect x="159.25" y="729.05" width="19.5" height="7.32" fill="#000" opacity="0.13" filter="url(#bs)"/>
<rect x="159.25" y="731.05" width="19.5" height="4.2" rx="1.5" fill="#000" opacity="0.38" filter="url(#bs)"/>
<rect x="158.25" y="725.63" width="21.5" height="4.84" rx="2.42" fill="#000" opacity="1" filter="url(#bb)"/>
<rect x="184.25" y="723.05" width="21.5" height="10" fill="#000" opacity="0.08" filter="url(#bs)"/>
<rect x="185.25" y="729.05" width="19.5" height="7.32" fill="#000" opacity="0.12" filter="url(#bs)"/>
<rect x="185.25" y="731.05" width="19.5" height="4.2" rx="1.5" fill="#000" opacity="0.34" filter="url(#bs)"/>
<rect x="184.25" y="725.75" width="21.5" height="4.6" rx="2.3" fill="#000" opacity="1" filter="url(#bb)"/>
<rect x="208.75" y="723.05" width="21.5" height="10" fill="#000" opacity="0.08" filter="url(#bs)"/>
<rect x="209.75" y="729.05" width="19.5" height="7.32" fill="#000" opacity="0.12" filter="url(#bs)"/>
<rect x="209.75" y="731.05" width="19.5" height="4.2" rx="1.5" fill="#000" opacity="0.34" filter="url(#bs)"/>
<rect x="208.75" y="725.75" width="21.5" height="4.6" rx="2.3" fill="#000" opacity="1" filter="url(#bb)"/>
</g>
<rect x="129.3" y="717.8" width="103.2" height="24.4" fill="none" stroke="#111" stroke-width="1.4"/>
<rect x="239.4" y="717.8" width="103" height="24.4" fill="url(#blg)"/>
<g clip-path="url(#bc521)">
<rect x="242.45" y="723.05" width="21.5" height="10" fill="#000" opacity="0.08" filter="url(#bs)"/>
<rect x="243.45" y="729.05" width="19.5" height="7.32" fill="#000" opacity="0.12" filter="url(#bs)"/>
<rect x="243.45" y="731.05" width="19.5" height="4.2" rx="1.5" fill="#000" opacity="0.34" filter="url(#bs)"/>
<rect x="242.45" y="725.75" width="21.5" height="4.6" rx="2.3" fill="#000" opacity="1" filter="url(#bb)"/>
<rect x="266.85" y="723.05" width="21.5" height="10" fill="#000" opacity="0.09" filter="url(#bs)"/>
<rect x="267.85" y="729.05" width="19.5" height="7.32" fill="#000" opacity="0.12" filter="url(#bs)"/>
<rect x="267.85" y="731.05" width="19.5" height="4.2" rx="1.5" fill="#000" opacity="0.36" filter="url(#bs)"/>
<rect x="266.85" y="725.69" width="21.5" height="4.72" rx="2.36" fill="#000" opacity="1" filter="url(#bb)"/>
<rect x="292.05" y="723.05" width="21.5" height="10" fill="#000" opacity="0.08" filter="url(#bs)"/>
<rect x="293.05" y="729.05" width="19.5" height="7.32" fill="#000" opacity="0.11" filter="url(#bs)"/>
<rect x="293.05" y="731.05" width="19.5" height="4.2" rx="1.5" fill="#000" opacity="0.32" filter="url(#bs)"/>
<rect x="292.05" y="725.81" width="21.5" height="4.48" rx="2.24" fill="#000" opacity="0.98" filter="url(#bb)"/>
<rect x="317.65" y="723.05" width="21.5" height="10" fill="#000" opacity="0.08" filter="url(#bs)"/>
<rect x="318.65" y="729.05" width="19.5" height="7.32" fill="#000" opacity="0.12" filter="url(#bs)"/>
<rect x="318.65" y="731.05" width="19.5" height="4.2" rx="1.5" fill="#000" opacity="0.34" filter="url(#bs)"/>
<rect x="317.65" y="725.75" width="21.5" height="4.6" rx="2.3" fill="#000" opacity="1" filter="url(#bb)"/>
</g>
<rect x="239.4" y="717.8" width="103" height="24.4" fill="none" stroke="#111" stroke-width="1.4"/>
<text x="122.4" y="762.3" font-size="9.8" text-anchor="end" fill="#1e1e1e">p-STAT3</text>
<rect x="129.3" y="746.1" width="103.2" height="24.4" fill="url(#blg)"/>
<g clip-path="url(#bc502)">
<rect x="132.55" y="753.3" width="21.5" height="10" fill="#000" opacity="0.07" filter="url(#bs)"/>
<rect x="133.55" y="759.3" width="19.5" height="7.32" fill="#000" opacity="0.14" filter="url(#bs)"/>
<rect x="132.55" y="755.88" width="21.5" height="4.85" rx="2.43" fill="#000" opacity="0.71" filter="url(#bb)"/>
<rect x="158.25" y="753.3" width="21.5" height="10" fill="#000" opacity="0.06" filter="url(#bs)"/>
<rect x="159.25" y="759.3" width="19.5" height="7.32" fill="#000" opacity="0.09" filter="url(#bs)"/>
<rect x="158.25" y="756.33" width="21.5" height="3.95" rx="1.98" fill="#000" opacity="0.39" filter="url(#bb)"/>
<rect x="184.25" y="753.3" width="21.5" height="10" fill="#000" opacity="0.09" filter="url(#bs)"/>
<rect x="185.25" y="759.3" width="19.5" height="7.32" fill="#000" opacity="0.2" filter="url(#bs)"/>
<rect x="184.25" y="755.28" width="21.5" height="6.05" rx="3" fill="#000" opacity="1" filter="url(#bb)"/>
<rect x="208.75" y="753.3" width="21.5" height="10" fill="#000" opacity="0.08" filter="url(#bs)"/>
<rect x="209.75" y="759.3" width="19.5" height="7.32" fill="#000" opacity="0.17" filter="url(#bs)"/>
<rect x="208.75" y="755.58" width="21.5" height="5.45" rx="2.73" fill="#000" opacity="0.93" filter="url(#bb)"/>
</g>
<rect x="129.3" y="746.1" width="103.2" height="24.4" fill="none" stroke="#111" stroke-width="1.4"/>
<rect x="239.4" y="746.1" width="103" height="24.4" fill="url(#blg)"/>
<g clip-path="url(#bc522)">
<rect x="242.45" y="753.3" width="21.5" height="10" fill="#000" opacity="0.07" filter="url(#bs)"/>
<rect x="243.45" y="759.3" width="19.5" height="7.32" fill="#000" opacity="0.12" filter="url(#bs)"/>
<rect x="242.45" y="756.03" width="21.5" height="4.55" rx="2.28" fill="#000" opacity="0.61" filter="url(#bb)"/>
<rect x="266.85" y="753.3" width="21.5" height="10" fill="#000" opacity="0.06" filter="url(#bs)"/>
<rect x="267.85" y="759.3" width="19.5" height="7.32" fill="#000" opacity="0.09" filter="url(#bs)"/>
<rect x="266.85" y="756.33" width="21.5" height="3.95" rx="1.98" fill="#000" opacity="0.39" filter="url(#bb)"/>
<rect x="292.05" y="753.3" width="21.5" height="10" fill="#000" opacity="0.09" filter="url(#bs)"/>
<rect x="293.05" y="759.3" width="19.5" height="7.32" fill="#000" opacity="0.2" filter="url(#bs)"/>
<rect x="292.05" y="755.32" width="21.5" height="5.96" rx="2.98" fill="#000" opacity="1" filter="url(#bb)"/>
<rect x="317.65" y="753.3" width="21.5" height="10" fill="#000" opacity="0.08" filter="url(#bs)"/>
<rect x="318.65" y="759.3" width="19.5" height="7.32" fill="#000" opacity="0.17" filter="url(#bs)"/>
<rect x="317.65" y="755.58" width="21.5" height="5.45" rx="2.73" fill="#000" opacity="0.93" filter="url(#bb)"/>
</g>
<rect x="239.4" y="746.1" width="103" height="24.4" fill="none" stroke="#111" stroke-width="1.4"/>
<text x="122.4" y="791.62" font-size="9.8" text-anchor="end" fill="#1e1e1e">N-cadherin</text>
<rect x="129.3" y="774.2" width="103.2" height="24.4" fill="url(#blg)"/>
<g clip-path="url(#bc503)">
<rect x="132.55" y="782.62" width="21.5" height="10" fill="#000" opacity="0.07" filter="url(#bs)"/>
<rect x="133.55" y="788.62" width="19.5" height="7.32" fill="#000" opacity="0.09" filter="url(#bs)"/>
<rect x="132.55" y="785.2" width="21.5" height="4.85" rx="2.43" fill="#000" opacity="0.71" filter="url(#bb)"/>
<rect x="158.25" y="782.62" width="21.5" height="10" fill="#000" opacity="0.07" filter="url(#bs)"/>
<rect x="159.25" y="788.62" width="19.5" height="7.32" fill="#000" opacity="0.08" filter="url(#bs)"/>
<rect x="158.25" y="785.42" width="21.5" height="4.4" rx="2.2" fill="#000" opacity="0.55" filter="url(#bb)"/>
<rect x="184.25" y="782.62" width="21.5" height="10" fill="#000" opacity="0.09" filter="url(#bs)"/>
<rect x="185.25" y="788.62" width="19.5" height="7.32" fill="#000" opacity="0.13" filter="url(#bs)"/>
<rect x="184.25" y="784.55" width="21.5" height="6.14" rx="3" fill="#000" opacity="1" filter="url(#bb)"/>
<rect x="208.75" y="782.62" width="21.5" height="10" fill="#000" opacity="0.09" filter="url(#bs)"/>
<rect x="209.75" y="788.62" width="19.5" height="7.32" fill="#000" opacity="0.12" filter="url(#bs)"/>
<rect x="208.75" y="784.67" width="21.5" height="5.9" rx="2.95" fill="#000" opacity="1" filter="url(#bb)"/>
</g>
<rect x="129.3" y="774.2" width="103.2" height="24.4" fill="none" stroke="#111" stroke-width="1.4"/>
<rect x="239.4" y="774.2" width="103" height="24.4" fill="url(#blg)"/>
<g clip-path="url(#bc523)">
<rect x="242.45" y="782.62" width="21.5" height="10" fill="#000" opacity="0.07" filter="url(#bs)"/>
<rect x="243.45" y="788.62" width="19.5" height="7.32" fill="#000" opacity="0.09" filter="url(#bs)"/>
<rect x="242.45" y="785.27" width="21.5" height="4.7" rx="2.35" fill="#000" opacity="0.66" filter="url(#bb)"/>
<rect x="266.85" y="782.62" width="21.5" height="10" fill="#000" opacity="0.06" filter="url(#bs)"/>
<rect x="267.85" y="788.62" width="19.5" height="7.32" fill="#000" opacity="0.07" filter="url(#bs)"/>
<rect x="266.85" y="785.72" width="21.5" height="3.8" rx="1.9" fill="#000" opacity="0.34" filter="url(#bb)"/>
<rect x="292.05" y="782.62" width="21.5" height="10" fill="#000" opacity="0.09" filter="url(#bs)"/>
<rect x="293.05" y="788.62" width="19.5" height="7.32" fill="#000" opacity="0.13" filter="url(#bs)"/>
<rect x="292.05" y="784.57" width="21.5" height="6.11" rx="3" fill="#000" opacity="1" filter="url(#bb)"/>
<rect x="317.65" y="782.62" width="21.5" height="10" fill="#000" opacity="0.08" filter="url(#bs)"/>
<rect x="318.65" y="788.62" width="19.5" height="7.32" fill="#000" opacity="0.11" filter="url(#bs)"/>
<rect x="317.65" y="784.85" width="21.5" height="5.54" rx="2.77" fill="#000" opacity="0.96" filter="url(#bb)"/>
</g>
<rect x="239.4" y="774.2" width="103" height="24.4" fill="none" stroke="#111" stroke-width="1.4"/>
<text x="122.4" y="819.28" font-size="9.8" text-anchor="end" fill="#1e1e1e">E-cadherin</text>
<rect x="129.3" y="802.1" width="103.2" height="24.4" fill="url(#blg)"/>
<g clip-path="url(#bc504)">
<rect x="132.55" y="810.28" width="21.5" height="10" fill="#000" opacity="0.08" filter="url(#bs)"/>
<rect x="133.55" y="816.28" width="19.5" height="7.32" fill="#000" opacity="0.11" filter="url(#bs)"/>
<rect x="132.55" y="812.55" width="21.5" height="5.45" rx="2.73" fill="#000" opacity="0.93" filter="url(#bb)"/>
<rect x="158.25" y="810.28" width="21.5" height="10" fill="#000" opacity="0.09" filter="url(#bs)"/>
<rect x="159.25" y="816.28" width="19.5" height="7.32" fill="#000" opacity="0.13" filter="url(#bs)"/>
<rect x="158.25" y="812.25" width="21.5" height="6.05" rx="3" fill="#000" opacity="1" filter="url(#bb)"/>
<rect x="184.25" y="810.28" width="21.5" height="10" fill="#000" opacity="0.07" filter="url(#bs)"/>
<rect x="185.25" y="816.28" width="19.5" height="7.32" fill="#000" opacity="0.08" filter="url(#bs)"/>
<rect x="184.25" y="813.08" width="21.5" height="4.4" rx="2.2" fill="#000" opacity="0.55" filter="url(#bb)"/>
<rect x="208.75" y="810.28" width="21.5" height="10" fill="#000" opacity="0.08" filter="url(#bs)"/>
<rect x="209.75" y="816.28" width="19.5" height="7.32" fill="#000" opacity="0.11" filter="url(#bs)"/>
<rect x="208.75" y="812.63" width="21.5" height="5.3" rx="2.65" fill="#000" opacity="0.88" filter="url(#bb)"/>
</g>
<rect x="129.3" y="802.1" width="103.2" height="24.4" fill="none" stroke="#111" stroke-width="1.4"/>
<rect x="239.4" y="802.1" width="103" height="24.4" fill="url(#blg)"/>
<g clip-path="url(#bc524)">
<rect x="242.45" y="810.28" width="21.5" height="10" fill="#000" opacity="0.08" filter="url(#bs)"/>
<rect x="243.45" y="816.28" width="19.5" height="7.32" fill="#000" opacity="0.11" filter="url(#bs)"/>
<rect x="242.45" y="812.63" width="21.5" height="5.3" rx="2.65" fill="#000" opacity="0.88" filter="url(#bb)"/>
<rect x="266.85" y="810.28" width="21.5" height="10" fill="#000" opacity="0.08" filter="url(#bs)"/>
<rect x="267.85" y="816.28" width="19.5" height="7.32" fill="#000" opacity="0.12" filter="url(#bs)"/>
<rect x="266.85" y="812.4" width="21.5" height="5.75" rx="2.88" fill="#000" opacity="1" filter="url(#bb)"/>
<rect x="292.05" y="810.28" width="21.5" height="10" fill="#000" opacity="0.06" filter="url(#bs)"/>
<rect x="293.05" y="816.28" width="19.5" height="7.32" fill="#000" opacity="0.08" filter="url(#bs)"/>
<rect x="292.05" y="813.15" width="21.5" height="4.25" rx="2.12" fill="#000" opacity="0.5" filter="url(#bb)"/>
<rect x="317.65" y="810.28" width="21.5" height="10" fill="#000" opacity="0.08" filter="url(#bs)"/>
<rect x="318.65" y="816.28" width="19.5" height="7.32" fill="#000" opacity="0.11" filter="url(#bs)"/>
<rect x="317.65" y="812.63" width="21.5" height="5.3" rx="2.65" fill="#000" opacity="0.88" filter="url(#bb)"/>
</g>
<rect x="239.4" y="802.1" width="103" height="24.4" fill="none" stroke="#111" stroke-width="1.4"/>
<text x="122.4" y="848.45" font-size="9.8" text-anchor="end" fill="#1e1e1e">Vimentin</text>
<rect x="129.3" y="830.3" width="103.2" height="24.4" fill="url(#blg)"/>
<g clip-path="url(#bc505)">
<rect x="132.55" y="839.45" width="21.5" height="10" fill="#000" opacity="0.07" filter="url(#bs)"/>
<rect x="133.55" y="845.45" width="19.5" height="7.32" fill="#000" opacity="0.09" filter="url(#bs)"/>
<rect x="132.55" y="842.03" width="21.5" height="4.85" rx="2.43" fill="#000" opacity="0.71" filter="url(#bb)"/>
<rect x="158.25" y="839.45" width="21.5" height="10" fill="#000" opacity="0.07" filter="url(#bs)"/>
<rect x="159.25" y="845.45" width="19.5" height="7.32" fill="#000" opacity="0.08" filter="url(#bs)"/>
<rect x="158.25" y="842.22" width="21.5" height="4.46" rx="2.23" fill="#000" opacity="0.57" filter="url(#bb)"/>
<rect x="184.25" y="839.45" width="21.5" height="10" fill="#000" opacity="0.09" filter="url(#bs)"/>
<rect x="185.25" y="845.45" width="19.5" height="7.32" fill="#000" opacity="0.12" filter="url(#bs)"/>
<rect x="184.25" y="841.47" width="21.5" height="5.96" rx="2.98" fill="#000" opacity="1" filter="url(#bb)"/>
<rect x="208.75" y="839.45" width="21.5" height="10" fill="#000" opacity="0.08" filter="url(#bs)"/>
<rect x="209.75" y="845.45" width="19.5" height="7.32" fill="#000" opacity="0.12" filter="url(#bs)"/>
<rect x="208.75" y="841.62" width="21.5" height="5.66" rx="2.83" fill="#000" opacity="1" filter="url(#bb)"/>
</g>
<rect x="129.3" y="830.3" width="103.2" height="24.4" fill="none" stroke="#111" stroke-width="1.4"/>
<rect x="239.4" y="830.3" width="103" height="24.4" fill="url(#blg)"/>
<g clip-path="url(#bc525)">
<rect x="242.45" y="839.45" width="21.5" height="10" fill="#000" opacity="0.07" filter="url(#bs)"/>
<rect x="243.45" y="845.45" width="19.5" height="7.32" fill="#000" opacity="0.09" filter="url(#bs)"/>
<rect x="242.45" y="842.1" width="21.5" height="4.7" rx="2.35" fill="#000" opacity="0.66" filter="url(#bb)"/>
<rect x="266.85" y="839.45" width="21.5" height="10" fill="#000" opacity="0.06" filter="url(#bs)"/>
<rect x="267.85" y="845.45" width="19.5" height="7.32" fill="#000" opacity="0.07" filter="url(#bs)"/>
<rect x="266.85" y="842.4" width="21.5" height="4.1" rx="2.05" fill="#000" opacity="0.44" filter="url(#bb)"/>
<rect x="292.05" y="839.45" width="21.5" height="10" fill="#000" opacity="0.09" filter="url(#bs)"/>
<rect x="293.05" y="845.45" width="19.5" height="7.32" fill="#000" opacity="0.12" filter="url(#bs)"/>
<rect x="292.05" y="841.47" width="21.5" height="5.96" rx="2.98" fill="#000" opacity="1" filter="url(#bb)"/>
<rect x="317.65" y="839.45" width="21.5" height="10" fill="#000" opacity="0.08" filter="url(#bs)"/>
<rect x="318.65" y="845.45" width="19.5" height="7.32" fill="#000" opacity="0.11" filter="url(#bs)"/>
<rect x="317.65" y="841.68" width="21.5" height="5.54" rx="2.77" fill="#000" opacity="0.96" filter="url(#bb)"/>
</g>
<rect x="239.4" y="830.3" width="103" height="24.4" fill="none" stroke="#111" stroke-width="1.4"/>
<text x="122.4" y="875.98" font-size="9.8" text-anchor="end" fill="#1e1e1e">GAPDH</text>
<rect x="129.3" y="858.8" width="103.2" height="24.4" fill="url(#blg)"/>
<g clip-path="url(#bc506)">
<rect x="132.55" y="866.98" width="21.5" height="10" fill="#000" opacity="0.09" filter="url(#bs)"/>
<rect x="133.55" y="872.98" width="19.5" height="7.32" fill="#000" opacity="0.13" filter="url(#bs)"/>
<rect x="132.55" y="868.88" width="21.5" height="6.2" rx="3" fill="#000" opacity="1" filter="url(#bb)"/>
<rect x="158.25" y="866.98" width="21.5" height="10" fill="#000" opacity="0.09" filter="url(#bs)"/>
<rect x="159.25" y="872.98" width="19.5" height="7.32" fill="#000" opacity="0.13" filter="url(#bs)"/>
<rect x="158.25" y="868.88" width="21.5" height="6.2" rx="3" fill="#000" opacity="1" filter="url(#bb)"/>
<rect x="184.25" y="866.98" width="21.5" height="10" fill="#000" opacity="0.09" filter="url(#bs)"/>
<rect x="185.25" y="872.98" width="19.5" height="7.32" fill="#000" opacity="0.13" filter="url(#bs)"/>
<rect x="184.25" y="868.88" width="21.5" height="6.2" rx="3" fill="#000" opacity="1" filter="url(#bb)"/>
<rect x="208.75" y="866.98" width="21.5" height="10" fill="#000" opacity="0.09" filter="url(#bs)"/>
<rect x="209.75" y="872.98" width="19.5" height="7.32" fill="#000" opacity="0.13" filter="url(#bs)"/>
<rect x="208.75" y="868.95" width="21.5" height="6.05" rx="3" fill="#000" opacity="1" filter="url(#bb)"/>
</g>
<rect x="129.3" y="858.8" width="103.2" height="24.4" fill="none" stroke="#111" stroke-width="1.4"/>
<rect x="239.4" y="858.8" width="103" height="24.4" fill="url(#blg)"/>
<g clip-path="url(#bc526)">
<rect x="242.45" y="866.98" width="21.5" height="10" fill="#000" opacity="0.09" filter="url(#bs)"/>
<rect x="243.45" y="872.98" width="19.5" height="7.32" fill="#000" opacity="0.13" filter="url(#bs)"/>
<rect x="242.45" y="868.95" width="21.5" height="6.05" rx="3" fill="#000" opacity="1" filter="url(#bb)"/>
<rect x="266.85" y="866.98" width="21.5" height="10" fill="#000" opacity="0.09" filter="url(#bs)"/>
<rect x="267.85" y="872.98" width="19.5" height="7.32" fill="#000" opacity="0.13" filter="url(#bs)"/>
<rect x="266.85" y="868.88" width="21.5" height="6.2" rx="3" fill="#000" opacity="1" filter="url(#bb)"/>
<rect x="292.05" y="866.98" width="21.5" height="10" fill="#000" opacity="0.09" filter="url(#bs)"/>
<rect x="293.05" y="872.98" width="19.5" height="7.32" fill="#000" opacity="0.13" filter="url(#bs)"/>
<rect x="292.05" y="868.95" width="21.5" height="6.05" rx="3" fill="#000" opacity="1" filter="url(#bb)"/>
<rect x="317.65" y="866.98" width="21.5" height="10" fill="#000" opacity="0.09" filter="url(#bs)"/>
<rect x="318.65" y="872.98" width="19.5" height="7.32" fill="#000" opacity="0.13" filter="url(#bs)"/>
<rect x="317.65" y="868.95" width="21.5" height="6.05" rx="3" fill="#000" opacity="1" filter="url(#bb)"/>
</g>
<rect x="239.4" y="858.8" width="103" height="24.4" fill="none" stroke="#111" stroke-width="1.4"/>
<text x="180.6" y="895.8" font-size="9.8" text-anchor="middle" fill="#1e1e1e">N3</text>
<text x="288.4" y="895.8" font-size="9.8" text-anchor="middle" fill="#1e1e1e">U87</text>
<text x="440.4" y="654.85" font-size="16.5" text-anchor="start" fill="#1e1e1e">H</text>
<text x="529" y="655" font-size="9.8" text-anchor="end" fill="#1e1e1e">Empty vector</text>
<line x1="545.9" y1="651.8" x2="550.3" y2="651.8" stroke="#333" stroke-width="1"/>
<line x1="548.1" y1="649.6" x2="548.1" y2="654" stroke="#333" stroke-width="1"/>
<line x1="571.6" y1="650" x2="577" y2="650" stroke="#222" stroke-width="1.5"/>
<line x1="597.8" y1="651.8" x2="602.2" y2="651.8" stroke="#333" stroke-width="1"/>
<line x1="600" y1="649.6" x2="600" y2="654" stroke="#333" stroke-width="1"/>
<line x1="622.8" y1="650" x2="628.2" y2="650" stroke="#222" stroke-width="1.5"/>
<line x1="657.3" y1="651.8" x2="661.7" y2="651.8" stroke="#333" stroke-width="1"/>
<line x1="659.5" y1="649.6" x2="659.5" y2="654" stroke="#333" stroke-width="1"/>
<line x1="681.2" y1="650" x2="686.6" y2="650" stroke="#222" stroke-width="1.5"/>
<line x1="705.3" y1="651.8" x2="709.7" y2="651.8" stroke="#333" stroke-width="1"/>
<line x1="707.5" y1="649.6" x2="707.5" y2="654" stroke="#333" stroke-width="1"/>
<line x1="730.3" y1="650" x2="735.7" y2="650" stroke="#222" stroke-width="1.5"/>
<text x="529" y="669.8" font-size="9.8" text-anchor="end" fill="#1e1e1e">pcDNA-LBX2-AS1</text>
<line x1="545.4" y1="663.6" x2="550.8" y2="663.6" stroke="#222" stroke-width="1.5"/>
<line x1="572.1" y1="665.4" x2="576.5" y2="665.4" stroke="#333" stroke-width="1"/>
<line x1="574.3" y1="663.2" x2="574.3" y2="667.6" stroke="#333" stroke-width="1"/>
<line x1="597.3" y1="663.6" x2="602.7" y2="663.6" stroke="#222" stroke-width="1.5"/>
<line x1="623.3" y1="665.4" x2="627.7" y2="665.4" stroke="#333" stroke-width="1"/>
<line x1="625.5" y1="663.2" x2="625.5" y2="667.6" stroke="#333" stroke-width="1"/>
<line x1="656.8" y1="663.6" x2="662.2" y2="663.6" stroke="#222" stroke-width="1.5"/>
<line x1="681.7" y1="665.4" x2="686.1" y2="665.4" stroke="#333" stroke-width="1"/>
<line x1="683.9" y1="663.2" x2="683.9" y2="667.6" stroke="#333" stroke-width="1"/>
<line x1="704.8" y1="663.6" x2="710.2" y2="663.6" stroke="#222" stroke-width="1.5"/>
<line x1="730.8" y1="665.4" x2="735.2" y2="665.4" stroke="#333" stroke-width="1"/>
<line x1="733" y1="663.2" x2="733" y2="667.6" stroke="#333" stroke-width="1"/>
<text x="529" y="683.3" font-size="9.8" text-anchor="end" fill="#1e1e1e">miR-491-5p minics</text>
<line x1="545.4" y1="679.3" x2="550.8" y2="679.3" stroke="#222" stroke-width="1.5"/>
<line x1="571.6" y1="679.3" x2="577" y2="679.3" stroke="#222" stroke-width="1.5"/>
<line x1="597.8" y1="678.5" x2="602.2" y2="678.5" stroke="#333" stroke-width="1"/>
<line x1="600" y1="676.3" x2="600" y2="680.7" stroke="#333" stroke-width="1"/>
<line x1="623.3" y1="678.5" x2="627.7" y2="678.5" stroke="#333" stroke-width="1"/>
<line x1="625.5" y1="676.3" x2="625.5" y2="680.7" stroke="#333" stroke-width="1"/>
<line x1="656.8" y1="679.3" x2="662.2" y2="679.3" stroke="#222" stroke-width="1.5"/>
<line x1="681.2" y1="679.3" x2="686.6" y2="679.3" stroke="#222" stroke-width="1.5"/>
<line x1="705.3" y1="678.5" x2="709.7" y2="678.5" stroke="#333" stroke-width="1"/>
<line x1="707.5" y1="676.3" x2="707.5" y2="680.7" stroke="#333" stroke-width="1"/>
<line x1="730.8" y1="678.5" x2="735.2" y2="678.5" stroke="#333" stroke-width="1"/>
<line x1="733" y1="676.3" x2="733" y2="680.7" stroke="#333" stroke-width="1"/>
<text x="527.3" y="705.5" font-size="9.8" text-anchor="end" fill="#1e1e1e">LIF</text>
<rect x="532.9" y="690.1" width="102.8" height="24.4" fill="url(#blg)"/>
<g clip-path="url(#bc600)">
<rect x="538.45" y="697.3" width="21.5" height="10" fill="#000" opacity="0.08" filter="url(#bs)"/>
<rect x="539.45" y="703.3" width="19.5" height="7.32" fill="#000" opacity="0.11" filter="url(#bs)"/>
<rect x="538.45" y="699.65" width="21.5" height="5.3" rx="2.65" fill="#000" opacity="0.88" filter="url(#bb)"/>
<rect x="561.85" y="697.3" width="21.5" height="10" fill="#000" opacity="0.08" filter="url(#bs)"/>
<rect x="562.85" y="703.3" width="19.5" height="7.32" fill="#000" opacity="0.12" filter="url(#bs)"/>
<rect x="561.85" y="699.43" width="21.5" height="5.75" rx="2.88" fill="#000" opacity="1" filter="url(#bb)"/>
<rect x="585.85" y="697.3" width="21.5" height="10" fill="#000" opacity="0.06" filter="url(#bs)"/>
<rect x="586.85" y="703.3" width="19.5" height="7.32" fill="#000" opacity="0.07" filter="url(#bs)"/>
<rect x="585.85" y="700.25" width="21.5" height="4.1" rx="2.05" fill="#000" opacity="0.44" filter="url(#bb)"/>
<rect x="610.95" y="697.3" width="21.5" height="10" fill="#000" opacity="0.07" filter="url(#bs)"/>
<rect x="611.95" y="703.3" width="19.5" height="7.32" fill="#000" opacity="0.09" filter="url(#bs)"/>
<rect x="610.95" y="699.88" width="21.5" height="4.85" rx="2.43" fill="#000" opacity="0.71" filter="url(#bb)"/>
</g>
<rect x="532.9" y="690.1" width="102.8" height="24.4" fill="none" stroke="#111" stroke-width="1.4"/>
<rect x="644" y="690.1" width="103" height="24.4" fill="url(#blg)"/>
<g clip-path="url(#bc620)">
<rect x="648.35" y="697.3" width="21.5" height="10" fill="#000" opacity="0.08" filter="url(#bs)"/>
<rect x="649.35" y="703.3" width="19.5" height="7.32" fill="#000" opacity="0.11" filter="url(#bs)"/>
<rect x="648.35" y="699.65" width="21.5" height="5.3" rx="2.65" fill="#000" opacity="0.88" filter="url(#bb)"/>
<rect x="672.65" y="697.3" width="21.5" height="10" fill="#000" opacity="0.09" filter="url(#bs)"/>
<rect x="673.65" y="703.3" width="19.5" height="7.32" fill="#000" opacity="0.12" filter="url(#bs)"/>
<rect x="672.65" y="699.35" width="21.5" height="5.9" rx="2.95" fill="#000" opacity="1" filter="url(#bb)"/>
<rect x="696.65" y="697.3" width="21.5" height="10" fill="#000" opacity="0.06" filter="url(#bs)"/>
<rect x="697.65" y="703.3" width="19.5" height="7.32" fill="#000" opacity="0.07" filter="url(#bs)"/>
<rect x="696.65" y="700.25" width="21.5" height="4.1" rx="2.05" fill="#000" opacity="0.44" filter="url(#bb)"/>
<rect x="721.35" y="697.3" width="21.5" height="10" fill="#000" opacity="0.07" filter="url(#bs)"/>
<rect x="722.35" y="703.3" width="19.5" height="7.32" fill="#000" opacity="0.1" filter="url(#bs)"/>
<rect x="721.35" y="699.8" width="21.5" height="5" rx="2.5" fill="#000" opacity="0.77" filter="url(#bb)"/>
</g>
<rect x="644" y="690.1" width="103" height="24.4" fill="none" stroke="#111" stroke-width="1.4"/>
<text x="527.3" y="731.85" font-size="9.8" text-anchor="end" fill="#1e1e1e">t-STAT3</text>
<rect x="532.9" y="718.4" width="102.8" height="24.4" fill="url(#blg)"/>
<g clip-path="url(#bc601)">
<rect x="538.45" y="723.65" width="21.5" height="10" fill="#000" opacity="0.09" filter="url(#bs)"/>
<rect x="539.45" y="729.65" width="19.5" height="7.32" fill="#000" opacity="0.13" filter="url(#bs)"/>
<rect x="539.45" y="731.65" width="19.5" height="4.2" rx="1.5" fill="#000" opacity="0.38" filter="url(#bs)"/>
<rect x="538.45" y="726.23" width="21.5" height="4.84" rx="2.42" fill="#000" opacity="1" filter="url(#bb)"/>
<rect x="561.85" y="723.65" width="21.5" height="10" fill="#000" opacity="0.09" filter="url(#bs)"/>
<rect x="562.85" y="729.65" width="19.5" height="7.32" fill="#000" opacity="0.13" filter="url(#bs)"/>
<rect x="562.85" y="731.65" width="19.5" height="4.2" rx="1.5" fill="#000" opacity="0.38" filter="url(#bs)"/>
<rect x="561.85" y="726.23" width="21.5" height="4.84" rx="2.42" fill="#000" opacity="1" filter="url(#bb)"/>
<rect x="585.85" y="723.65" width="21.5" height="10" fill="#000" opacity="0.09" filter="url(#bs)"/>
<rect x="586.85" y="729.65" width="19.5" height="7.32" fill="#000" opacity="0.13" filter="url(#bs)"/>
<rect x="586.85" y="731.65" width="19.5" height="4.2" rx="1.5" fill="#000" opacity="0.38" filter="url(#bs)"/>
<rect x="585.85" y="726.23" width="21.5" height="4.84" rx="2.42" fill="#000" opacity="1" filter="url(#bb)"/>
<rect x="610.95" y="723.65" width="21.5" height="10" fill="#000" opacity="0.09" filter="url(#bs)"/>
<rect x="611.95" y="729.65" width="19.5" height="7.32" fill="#000" opacity="0.13" filter="url(#bs)"/>
<rect x="611.95" y="731.65" width="19.5" height="4.2" rx="1.5" fill="#000" opacity="0.38" filter="url(#bs)"/>
<rect x="610.95" y="726.23" width="21.5" height="4.84" rx="2.42" fill="#000" opacity="1" filter="url(#bb)"/>
</g>
<rect x="532.9" y="718.4" width="102.8" height="24.4" fill="none" stroke="#111" stroke-width="1.4"/>
<rect x="644" y="718.4" width="103" height="24.4" fill="url(#blg)"/>
<g clip-path="url(#bc621)">
<rect x="648.35" y="723.65" width="21.5" height="10" fill="#000" opacity="0.09" filter="url(#bs)"/>
<rect x="649.35" y="729.65" width="19.5" height="7.32" fill="#000" opacity="0.12" filter="url(#bs)"/>
<rect x="649.35" y="731.65" width="19.5" height="4.2" rx="1.5" fill="#000" opacity="0.36" filter="url(#bs)"/>
<rect x="648.35" y="726.29" width="21.5" height="4.72" rx="2.36" fill="#000" opacity="1" filter="url(#bb)"/>
<rect x="672.65" y="723.65" width="21.5" height="10" fill="#000" opacity="0.09" filter="url(#bs)"/>
<rect x="673.65" y="729.65" width="19.5" height="7.32" fill="#000" opacity="0.12" filter="url(#bs)"/>
<rect x="673.65" y="731.65" width="19.5" height="4.2" rx="1.5" fill="#000" opacity="0.36" filter="url(#bs)"/>
<rect x="672.65" y="726.29" width="21.5" height="4.72" rx="2.36" fill="#000" opacity="1" filter="url(#bb)"/>
<rect x="696.65" y="723.65" width="21.5" height="10" fill="#000" opacity="0.09" filter="url(#bs)"/>
<rect x="697.65" y="729.65" width="19.5" height="7.32" fill="#000" opacity="0.12" filter="url(#bs)"/>
<rect x="697.65" y="731.65" width="19.5" height="4.2" rx="1.5" fill="#000" opacity="0.36" filter="url(#bs)"/>
<rect x="696.65" y="726.29" width="21.5" height="4.72" rx="2.36" fill="#000" opacity="1" filter="url(#bb)"/>
<rect x="721.35" y="723.65" width="21.5" height="10" fill="#000" opacity="0.09" filter="url(#bs)"/>
<rect x="722.35" y="729.65" width="19.5" height="7.32" fill="#000" opacity="0.12" filter="url(#bs)"/>
<rect x="722.35" y="731.65" width="19.5" height="4.2" rx="1.5" fill="#000" opacity="0.36" filter="url(#bs)"/>
<rect x="721.35" y="726.29" width="21.5" height="4.72" rx="2.36" fill="#000" opacity="1" filter="url(#bb)"/>
</g>
<rect x="644" y="718.4" width="103" height="24.4" fill="none" stroke="#111" stroke-width="1.4"/>
<text x="527.3" y="761.27" font-size="9.8" text-anchor="end" fill="#1e1e1e">p-STAT3</text>
<rect x="532.9" y="746.6" width="102.8" height="24.4" fill="url(#blg)"/>
<g clip-path="url(#bc602)">
<rect x="538.45" y="753.07" width="21.5" height="10" fill="#000" opacity="0.08" filter="url(#bs)"/>
<rect x="539.45" y="759.07" width="19.5" height="7.32" fill="#000" opacity="0.16" filter="url(#bs)"/>
<rect x="538.45" y="755.42" width="21.5" height="5.3" rx="2.65" fill="#000" opacity="0.88" filter="url(#bb)"/>
<rect x="561.85" y="753.07" width="21.5" height="10" fill="#000" opacity="0.09" filter="url(#bs)"/>
<rect x="562.85" y="759.07" width="19.5" height="7.32" fill="#000" opacity="0.21" filter="url(#bs)"/>
<rect x="561.85" y="754.97" width="21.5" height="6.2" rx="3" fill="#000" opacity="1" filter="url(#bb)"/>
<rect x="585.85" y="753.07" width="21.5" height="10" fill="#000" opacity="0.06" filter="url(#bs)"/>
<rect x="586.85" y="759.07" width="19.5" height="7.32" fill="#000" opacity="0.1" filter="url(#bs)"/>
<rect x="585.85" y="756.02" width="21.5" height="4.1" rx="2.05" fill="#000" opacity="0.44" filter="url(#bb)"/>
<rect x="610.95" y="753.07" width="21.5" height="10" fill="#000" opacity="0.07" filter="url(#bs)"/>
<rect x="611.95" y="759.07" width="19.5" height="7.32" fill="#000" opacity="0.14" filter="url(#bs)"/>
<rect x="610.95" y="755.64" width="21.5" height="4.85" rx="2.43" fill="#000" opacity="0.71" filter="url(#bb)"/>
</g>
<rect x="532.9" y="746.6" width="102.8" height="24.4" fill="none" stroke="#111" stroke-width="1.4"/>
<rect x="644" y="746.6" width="103" height="24.4" fill="url(#blg)"/>
<g clip-path="url(#bc622)">
<rect x="648.35" y="753.07" width="21.5" height="10" fill="#000" opacity="0.08" filter="url(#bs)"/>
<rect x="649.35" y="759.07" width="19.5" height="7.32" fill="#000" opacity="0.16" filter="url(#bs)"/>
<rect x="648.35" y="755.42" width="21.5" height="5.3" rx="2.65" fill="#000" opacity="0.88" filter="url(#bb)"/>
<rect x="672.65" y="753.07" width="21.5" height="10" fill="#000" opacity="0.08" filter="url(#bs)"/>
<rect x="673.65" y="759.07" width="19.5" height="7.32" fill="#000" opacity="0.19" filter="url(#bs)"/>
<rect x="672.65" y="755.19" width="21.5" height="5.75" rx="2.88" fill="#000" opacity="1" filter="url(#bb)"/>
<rect x="696.65" y="753.07" width="21.5" height="10" fill="#000" opacity="0.06" filter="url(#bs)"/>
<rect x="697.65" y="759.07" width="19.5" height="7.32" fill="#000" opacity="0.07" filter="url(#bs)"/>
<rect x="696.65" y="756.24" width="21.5" height="3.65" rx="1.83" fill="#000" opacity="0.28" filter="url(#bb)"/>
<rect x="721.35" y="753.07" width="21.5" height="10" fill="#000" opacity="0.07" filter="url(#bs)"/>
<rect x="722.35" y="759.07" width="19.5" height="7.32" fill="#000" opacity="0.11" filter="url(#bs)"/>
<rect x="721.35" y="755.87" width="21.5" height="4.4" rx="2.2" fill="#000" opacity="0.55" filter="url(#bb)"/>
</g>
<rect x="644" y="746.6" width="103" height="24.4" fill="none" stroke="#111" stroke-width="1.4"/>
<text x="527.3" y="790.49" font-size="9.8" text-anchor="end" fill="#1e1e1e">N-cadherin</text>
<rect x="532.9" y="774.6" width="102.8" height="24.4" fill="url(#blg)"/>
<g clip-path="url(#bc603)">
<rect x="538.45" y="782.29" width="21.5" height="10" fill="#000" opacity="0.08" filter="url(#bs)"/>
<rect x="539.45" y="788.29" width="19.5" height="7.32" fill="#000" opacity="0.11" filter="url(#bs)"/>
<rect x="538.45" y="784.49" width="21.5" height="5.6" rx="2.8" fill="#000" opacity="0.98" filter="url(#bb)"/>
<rect x="561.85" y="782.29" width="21.5" height="10" fill="#000" opacity="0.09" filter="url(#bs)"/>
<rect x="562.85" y="788.29" width="19.5" height="7.32" fill="#000" opacity="0.12" filter="url(#bs)"/>
<rect x="561.85" y="784.31" width="21.5" height="5.96" rx="2.98" fill="#000" opacity="1" filter="url(#bb)"/>
<rect x="585.85" y="782.29" width="21.5" height="10" fill="#000" opacity="0.07" filter="url(#bs)"/>
<rect x="586.85" y="788.29" width="19.5" height="7.32" fill="#000" opacity="0.08" filter="url(#bs)"/>
<rect x="585.85" y="785.09" width="21.5" height="4.4" rx="2.2" fill="#000" opacity="0.55" filter="url(#bb)"/>
<rect x="610.95" y="782.29" width="21.5" height="10" fill="#000" opacity="0.07" filter="url(#bs)"/>
<rect x="611.95" y="788.29" width="19.5" height="7.32" fill="#000" opacity="0.09" filter="url(#bs)"/>
<rect x="610.95" y="784.86" width="21.5" height="4.85" rx="2.43" fill="#000" opacity="0.71" filter="url(#bb)"/>
</g>
<rect x="532.9" y="774.6" width="102.8" height="24.4" fill="none" stroke="#111" stroke-width="1.4"/>
<rect x="644" y="774.6" width="103" height="24.4" fill="url(#blg)"/>
<g clip-path="url(#bc623)">
<rect x="648.35" y="782.29" width="21.5" height="10" fill="#000" opacity="0.08" filter="url(#bs)"/>
<rect x="649.35" y="788.29" width="19.5" height="7.32" fill="#000" opacity="0.11" filter="url(#bs)"/>
<rect x="648.35" y="784.56" width="21.5" height="5.45" rx="2.73" fill="#000" opacity="0.93" filter="url(#bb)"/>
<rect x="672.65" y="782.29" width="21.5" height="10" fill="#000" opacity="0.09" filter="url(#bs)"/>
<rect x="673.65" y="788.29" width="19.5" height="7.32" fill="#000" opacity="0.12" filter="url(#bs)"/>
<rect x="672.65" y="784.34" width="21.5" height="5.9" rx="2.95" fill="#000" opacity="1" filter="url(#bb)"/>
<rect x="696.65" y="782.29" width="21.5" height="10" fill="#000" opacity="0.07" filter="url(#bs)"/>
<rect x="697.65" y="788.29" width="19.5" height="7.32" fill="#000" opacity="0.08" filter="url(#bs)"/>
<rect x="696.65" y="785.09" width="21.5" height="4.4" rx="2.2" fill="#000" opacity="0.55" filter="url(#bb)"/>
<rect x="721.35" y="782.29" width="21.5" height="10" fill="#000" opacity="0.08" filter="url(#bs)"/>
<rect x="722.35" y="788.29" width="19.5" height="7.32" fill="#000" opacity="0.11" filter="url(#bs)"/>
<rect x="721.35" y="784.64" width="21.5" height="5.3" rx="2.65" fill="#000" opacity="0.88" filter="url(#bb)"/>
</g>
<rect x="644" y="774.6" width="103" height="24.4" fill="none" stroke="#111" stroke-width="1.4"/>
<text x="527.3" y="817.32" font-size="9.8" text-anchor="end" fill="#1e1e1e">E-cadherin</text>
<rect x="532.9" y="802.9" width="102.8" height="24.4" fill="url(#blg)"/>
<g clip-path="url(#bc604)">
<rect x="538.45" y="809.12" width="21.5" height="10" fill="#000" opacity="0.07" filter="url(#bs)"/>
<rect x="539.45" y="815.12" width="19.5" height="7.32" fill="#000" opacity="0.1" filter="url(#bs)"/>
<rect x="538.45" y="811.62" width="21.5" height="5" rx="2.5" fill="#000" opacity="0.77" filter="url(#bb)"/>
<rect x="561.85" y="809.12" width="21.5" height="10" fill="#000" opacity="0.06" filter="url(#bs)"/>
<rect x="562.85" y="815.12" width="19.5" height="7.32" fill="#000" opacity="0.08" filter="url(#bs)"/>
<rect x="561.85" y="812" width="21.5" height="4.25" rx="2.12" fill="#000" opacity="0.5" filter="url(#bb)"/>
<rect x="585.85" y="809.12" width="21.5" height="10" fill="#000" opacity="0.09" filter="url(#bs)"/>
<rect x="586.85" y="815.12" width="19.5" height="7.32" fill="#000" opacity="0.12" filter="url(#bs)"/>
<rect x="585.85" y="811.14" width="21.5" height="5.96" rx="2.98" fill="#000" opacity="1" filter="url(#bb)"/>
<rect x="610.95" y="809.12" width="21.5" height="10" fill="#000" opacity="0.08" filter="url(#bs)"/>
<rect x="611.95" y="815.12" width="19.5" height="7.32" fill="#000" opacity="0.11" filter="url(#bs)"/>
<rect x="610.95" y="811.47" width="21.5" height="5.3" rx="2.65" fill="#000" opacity="0.88" filter="url(#bb)"/>
</g>
<rect x="532.9" y="802.9" width="102.8" height="24.4" fill="none" stroke="#111" stroke-width="1.4"/>
<rect x="644" y="802.9" width="103" height="24.4" fill="url(#blg)"/>
<g clip-path="url(#bc624)">
<rect x="648.35" y="809.12" width="21.5" height="10" fill="#000" opacity="0.07" filter="url(#bs)"/>
<rect x="649.35" y="815.12" width="19.5" height="7.32" fill="#000" opacity="0.09" filter="url(#bs)"/>
<rect x="648.35" y="811.77" width="21.5" height="4.7" rx="2.35" fill="#000" opacity="0.66" filter="url(#bb)"/>
<rect x="672.65" y="809.12" width="21.5" height="10" fill="#000" opacity="0.06" filter="url(#bs)"/>
<rect x="673.65" y="815.12" width="19.5" height="7.32" fill="#000" opacity="0.07" filter="url(#bs)"/>
<rect x="672.65" y="812.22" width="21.5" height="3.8" rx="1.9" fill="#000" opacity="0.34" filter="url(#bb)"/>
<rect x="696.65" y="809.12" width="21.5" height="10" fill="#000" opacity="0.08" filter="url(#bs)"/>
<rect x="697.65" y="815.12" width="19.5" height="7.32" fill="#000" opacity="0.12" filter="url(#bs)"/>
<rect x="696.65" y="811.25" width="21.5" height="5.75" rx="2.88" fill="#000" opacity="1" filter="url(#bb)"/>
<rect x="721.35" y="809.12" width="21.5" height="10" fill="#000" opacity="0.08" filter="url(#bs)"/>
<rect x="722.35" y="815.12" width="19.5" height="7.32" fill="#000" opacity="0.11" filter="url(#bs)"/>
<rect x="721.35" y="811.4" width="21.5" height="5.45" rx="2.73" fill="#000" opacity="0.93" filter="url(#bb)"/>
</g>
<rect x="644" y="802.9" width="103" height="24.4" fill="none" stroke="#111" stroke-width="1.4"/>
<text x="527.3" y="847.33" font-size="9.8" text-anchor="end" fill="#1e1e1e">Vimentin</text>
<rect x="532.9" y="831.2" width="102.8" height="24.4" fill="url(#blg)"/>
<g clip-path="url(#bc605)">
<rect x="538.45" y="839.13" width="21.5" height="10" fill="#000" opacity="0.08" filter="url(#bs)"/>
<rect x="539.45" y="845.13" width="19.5" height="7.32" fill="#000" opacity="0.11" filter="url(#bs)"/>
<rect x="538.45" y="841.33" width="21.5" height="5.6" rx="2.8" fill="#000" opacity="0.98" filter="url(#bb)"/>
<rect x="561.85" y="839.13" width="21.5" height="10" fill="#000" opacity="0.08" filter="url(#bs)"/>
<rect x="562.85" y="845.13" width="19.5" height="7.32" fill="#000" opacity="0.12" filter="url(#bs)"/>
<rect x="561.85" y="841.26" width="21.5" height="5.75" rx="2.88" fill="#000" opacity="1" filter="url(#bb)"/>
<rect x="585.85" y="839.13" width="21.5" height="10" fill="#000" opacity="0.06" filter="url(#bs)"/>
<rect x="586.85" y="845.13" width="19.5" height="7.32" fill="#000" opacity="0.08" filter="url(#bs)"/>
<rect x="585.85" y="842.01" width="21.5" height="4.25" rx="2.12" fill="#000" opacity="0.5" filter="url(#bb)"/>
<rect x="610.95" y="839.13" width="21.5" height="10" fill="#000" opacity="0.07" filter="url(#bs)"/>
<rect x="611.95" y="845.13" width="19.5" height="7.32" fill="#000" opacity="0.09" filter="url(#bs)"/>
<rect x="610.95" y="841.78" width="21.5" height="4.7" rx="2.35" fill="#000" opacity="0.66" filter="url(#bb)"/>
</g>
<rect x="532.9" y="831.2" width="102.8" height="24.4" fill="none" stroke="#111" stroke-width="1.4"/>
<rect x="644" y="831.2" width="103" height="24.4" fill="url(#blg)"/>
<g clip-path="url(#bc625)">
<rect x="648.35" y="839.13" width="21.5" height="10" fill="#000" opacity="0.08" filter="url(#bs)"/>
<rect x="649.35" y="845.13" width="19.5" height="7.32" fill="#000" opacity="0.11" filter="url(#bs)"/>
<rect x="648.35" y="841.33" width="21.5" height="5.6" rx="2.8" fill="#000" opacity="0.98" filter="url(#bb)"/>
<rect x="672.65" y="839.13" width="21.5" height="10" fill="#000" opacity="0.09" filter="url(#bs)"/>
<rect x="673.65" y="845.13" width="19.5" height="7.32" fill="#000" opacity="0.13" filter="url(#bs)"/>
<rect x="672.65" y="841.03" width="21.5" height="6.2" rx="3" fill="#000" opacity="1" filter="url(#bb)"/>
<rect x="696.65" y="839.13" width="21.5" height="10" fill="#000" opacity="0.07" filter="url(#bs)"/>
<rect x="697.65" y="845.13" width="19.5" height="7.32" fill="#000" opacity="0.08" filter="url(#bs)"/>
<rect x="696.65" y="841.93" width="21.5" height="4.4" rx="2.2" fill="#000" opacity="0.55" filter="url(#bb)"/>
<rect x="721.35" y="839.13" width="21.5" height="10" fill="#000" opacity="0.07" filter="url(#bs)"/>
<rect x="722.35" y="845.13" width="19.5" height="7.32" fill="#000" opacity="0.09" filter="url(#bs)"/>
<rect x="721.35" y="841.86" width="21.5" height="4.55" rx="2.28" fill="#000" opacity="0.61" filter="url(#bb)"/>
</g>
<rect x="644" y="831.2" width="103" height="24.4" fill="none" stroke="#111" stroke-width="1.4"/>
<text x="527.3" y="874.99" font-size="9.8" text-anchor="end" fill="#1e1e1e">GAPDH</text>
<rect x="532.9" y="859.1" width="102.8" height="24.4" fill="url(#blg)"/>
<g clip-path="url(#bc606)">
<rect x="538.45" y="866.79" width="21.5" height="10" fill="#000" opacity="0.09" filter="url(#bs)"/>
<rect x="539.45" y="872.79" width="19.5" height="7.32" fill="#000" opacity="0.13" filter="url(#bs)"/>
<rect x="538.45" y="868.69" width="21.5" height="6.2" rx="3" fill="#000" opacity="1" filter="url(#bb)"/>
<rect x="561.85" y="866.79" width="21.5" height="10" fill="#000" opacity="0.09" filter="url(#bs)"/>
<rect x="562.85" y="872.79" width="19.5" height="7.32" fill="#000" opacity="0.13" filter="url(#bs)"/>
<rect x="561.85" y="868.69" width="21.5" height="6.2" rx="3" fill="#000" opacity="1" filter="url(#bb)"/>
<rect x="585.85" y="866.79" width="21.5" height="10" fill="#000" opacity="0.09" filter="url(#bs)"/>
<rect x="586.85" y="872.79" width="19.5" height="7.32" fill="#000" opacity="0.13" filter="url(#bs)"/>
<rect x="585.85" y="868.69" width="21.5" height="6.2" rx="3" fill="#000" opacity="1" filter="url(#bb)"/>
<rect x="610.95" y="866.79" width="21.5" height="10" fill="#000" opacity="0.09" filter="url(#bs)"/>
<rect x="611.95" y="872.79" width="19.5" height="7.32" fill="#000" opacity="0.13" filter="url(#bs)"/>
<rect x="610.95" y="868.69" width="21.5" height="6.2" rx="3" fill="#000" opacity="1" filter="url(#bb)"/>
</g>
<rect x="532.9" y="859.1" width="102.8" height="24.4" fill="none" stroke="#111" stroke-width="1.4"/>
<rect x="644" y="859.1" width="103" height="24.4" fill="url(#blg)"/>
<g clip-path="url(#bc626)">
<rect x="648.35" y="866.79" width="21.5" height="10" fill="#000" opacity="0.09" filter="url(#bs)"/>
<rect x="649.35" y="872.79" width="19.5" height="7.32" fill="#000" opacity="0.13" filter="url(#bs)"/>
<rect x="648.35" y="868.69" width="21.5" height="6.2" rx="3" fill="#000" opacity="1" filter="url(#bb)"/>
<rect x="672.65" y="866.79" width="21.5" height="10" fill="#000" opacity="0.09" filter="url(#bs)"/>
<rect x="673.65" y="872.79" width="19.5" height="7.32" fill="#000" opacity="0.13" filter="url(#bs)"/>
<rect x="672.65" y="868.69" width="21.5" height="6.2" rx="3" fill="#000" opacity="1" filter="url(#bb)"/>
<rect x="696.65" y="866.79" width="21.5" height="10" fill="#000" opacity="0.09" filter="url(#bs)"/>
<rect x="697.65" y="872.79" width="19.5" height="7.32" fill="#000" opacity="0.13" filter="url(#bs)"/>
<rect x="696.65" y="868.69" width="21.5" height="6.2" rx="3" fill="#000" opacity="1" filter="url(#bb)"/>
<rect x="721.35" y="866.79" width="21.5" height="10" fill="#000" opacity="0.09" filter="url(#bs)"/>
<rect x="722.35" y="872.79" width="19.5" height="7.32" fill="#000" opacity="0.13" filter="url(#bs)"/>
<rect x="721.35" y="868.69" width="21.5" height="6.2" rx="3" fill="#000" opacity="1" filter="url(#bb)"/>
</g>
<rect x="644" y="859.1" width="103" height="24.4" fill="none" stroke="#111" stroke-width="1.4"/>
<text x="590" y="895.8" font-size="9.8" text-anchor="middle" fill="#1e1e1e">N3</text>
<text x="696.6" y="895.8" font-size="9.8" text-anchor="middle" fill="#1e1e1e">U87</text>
</g>
</svg></body></html>
